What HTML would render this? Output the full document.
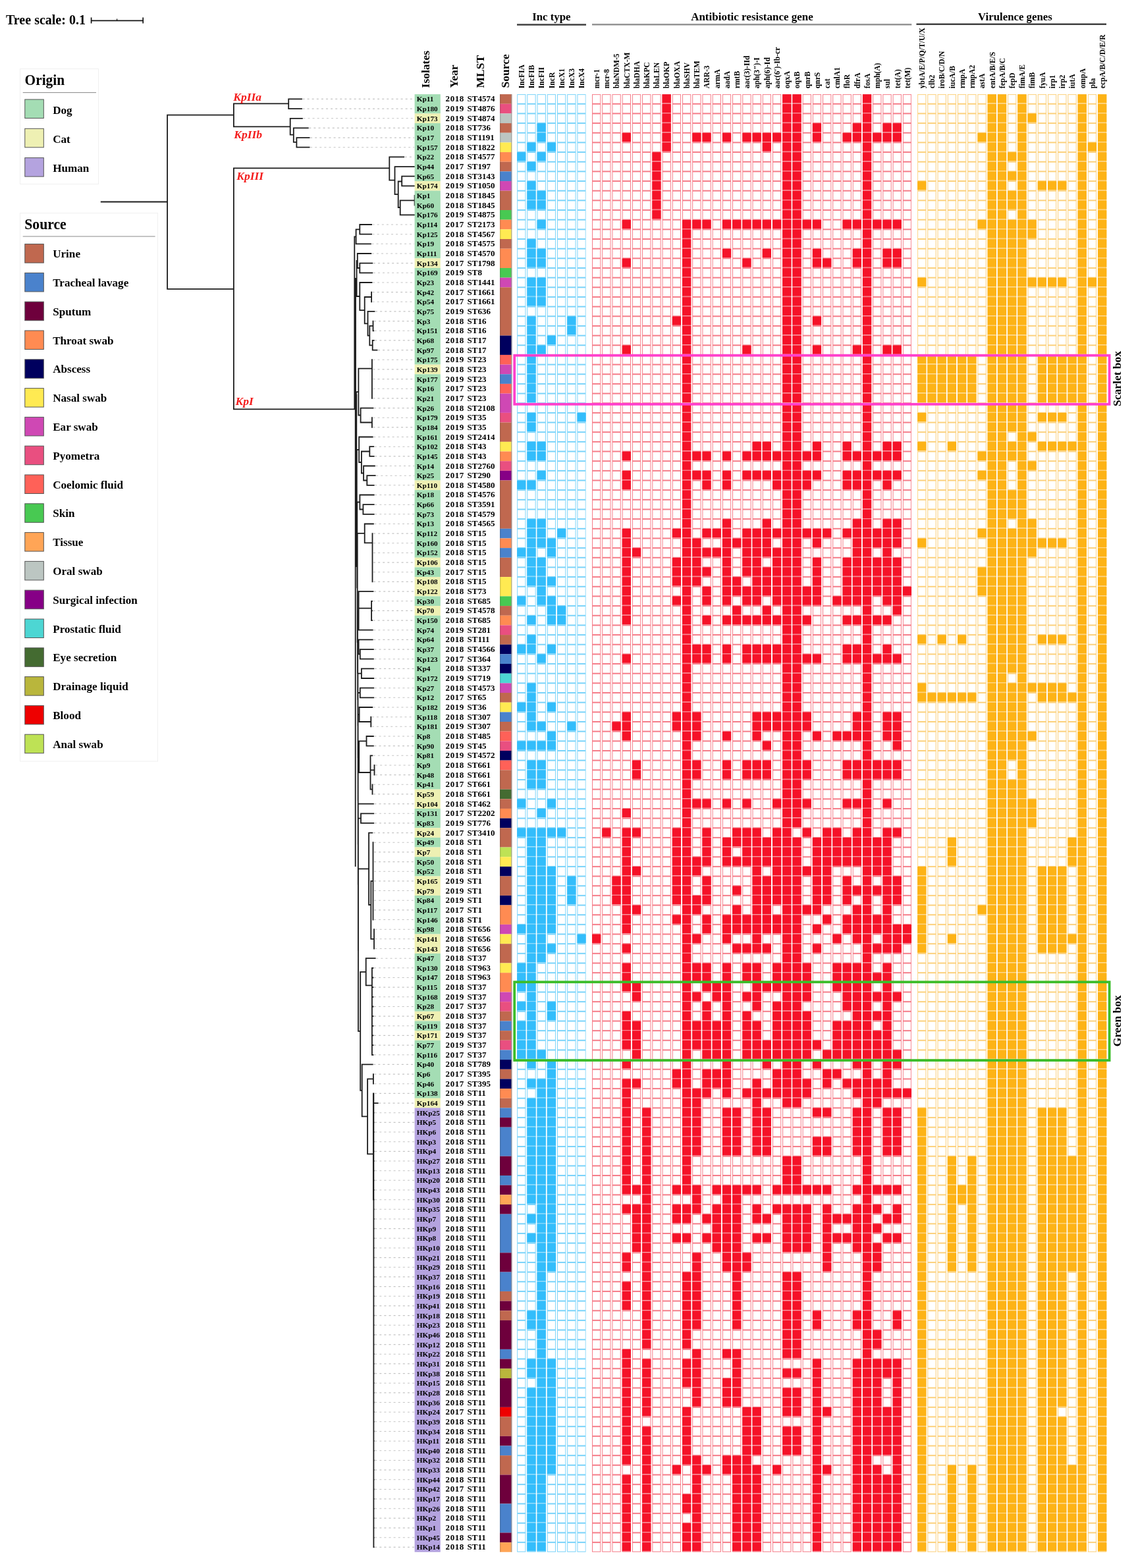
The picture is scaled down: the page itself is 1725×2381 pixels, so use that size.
<!DOCTYPE html>
<html><head><meta charset="utf-8"><title>Phylogenetic tree heatmap</title><style>html,body{margin:0;padding:0;background:#fff;}svg{display:block;}</style></head><body>
<svg width="1725" height="2381" viewBox="0 0 1725 2381" font-family="'Liberation Serif', 'Times New Roman', serif" font-weight="bold">
<rect width="1725" height="2381" fill="#fff"/>
<text x="9" y="37.3" font-size="20">Tree scale: 0.1</text>
<g stroke="#151515" stroke-width="1.7" fill="none"><path d="M138.3 31.4H217.5M138.6 26.6V35.6M217.2 26.6V35.6"/><path d="M177.6 28.4V31.4" stroke-width="1.2"/></g>
<rect x="30.5" y="104.5" width="119.0" height="175.0" fill="#fff" stroke="#f0f0f0" stroke-width="1"/>
<text transform="translate(37.6,128.6) scale(0.89,1)" font-size="24">Origin</text>
<line x1="34.7" y1="140.6" x2="146" y2="140.6" stroke="#888" stroke-width="1"/>
<rect x="37.8" y="151.0" width="28.5" height="28.5" fill="#a4ddb4" stroke="#555" stroke-width="1"/>
<text x="80.2" y="172.8" font-size="17.1">Dog</text>
<rect x="37.8" y="195.3" width="28.5" height="28.5" fill="#eef0b3" stroke="#555" stroke-width="1"/>
<text x="80.2" y="217.1" font-size="17.1">Cat</text>
<rect x="37.8" y="239.6" width="28.5" height="28.5" fill="#b4a3df" stroke="#555" stroke-width="1"/>
<text x="80.2" y="261.4" font-size="17.1">Human</text>
<rect x="30.5" y="323.5" width="209.0" height="832.5" fill="#fff" stroke="#f0f0f0" stroke-width="1"/>
<text transform="translate(37.2,347.7) scale(0.905,1)" font-size="24">Source</text>
<line x1="34.7" y1="359" x2="235.6" y2="359" stroke="#888" stroke-width="1"/>
<rect x="37.8" y="370.6" width="28.5" height="28.5" fill="#c0684f" stroke="#555" stroke-width="1"/>
<text x="80.2" y="391.1" font-size="17.1">Urine</text>
<rect x="37.8" y="414.4" width="28.5" height="28.5" fill="#4a82cc" stroke="#555" stroke-width="1"/>
<text x="80.2" y="434.9" font-size="17.1">Tracheal lavage</text>
<rect x="37.8" y="458.2" width="28.5" height="28.5" fill="#6e003c" stroke="#555" stroke-width="1"/>
<text x="80.2" y="478.7" font-size="17.1">Sputum</text>
<rect x="37.8" y="502.0" width="28.5" height="28.5" fill="#ff8b52" stroke="#555" stroke-width="1"/>
<text x="80.2" y="522.5" font-size="17.1">Throat swab</text>
<rect x="37.8" y="545.8" width="28.5" height="28.5" fill="#00005e" stroke="#555" stroke-width="1"/>
<text x="80.2" y="566.3" font-size="17.1">Abscess</text>
<rect x="37.8" y="589.6" width="28.5" height="28.5" fill="#ffea52" stroke="#555" stroke-width="1"/>
<text x="80.2" y="610.1" font-size="17.1">Nasal swab</text>
<rect x="37.8" y="633.4" width="28.5" height="28.5" fill="#cf48b4" stroke="#555" stroke-width="1"/>
<text x="80.2" y="653.9" font-size="17.1">Ear swab</text>
<rect x="37.8" y="677.2" width="28.5" height="28.5" fill="#e94f80" stroke="#555" stroke-width="1"/>
<text x="80.2" y="697.7" font-size="17.1">Pyometra</text>
<rect x="37.8" y="721.0" width="28.5" height="28.5" fill="#ff6158" stroke="#555" stroke-width="1"/>
<text x="80.2" y="741.5" font-size="17.1">Coelomic fluid</text>
<rect x="37.8" y="764.8" width="28.5" height="28.5" fill="#48c952" stroke="#555" stroke-width="1"/>
<text x="80.2" y="785.3" font-size="17.1">Skin</text>
<rect x="37.8" y="808.6" width="28.5" height="28.5" fill="#ffa556" stroke="#555" stroke-width="1"/>
<text x="80.2" y="829.1" font-size="17.1">Tissue</text>
<rect x="37.8" y="852.4" width="28.5" height="28.5" fill="#bcc6c2" stroke="#555" stroke-width="1"/>
<text x="80.2" y="872.9" font-size="17.1">Oral swab</text>
<rect x="37.8" y="896.2" width="28.5" height="28.5" fill="#860086" stroke="#555" stroke-width="1"/>
<text x="80.2" y="916.7" font-size="17.1">Surgical infection</text>
<rect x="37.8" y="940.0" width="28.5" height="28.5" fill="#4dd6d3" stroke="#555" stroke-width="1"/>
<text x="80.2" y="960.5" font-size="17.1">Prostatic fluid</text>
<rect x="37.8" y="983.8" width="28.5" height="28.5" fill="#446b31" stroke="#555" stroke-width="1"/>
<text x="80.2" y="1004.3" font-size="17.1">Eye secretion</text>
<rect x="37.8" y="1027.6" width="28.5" height="28.5" fill="#b9b63c" stroke="#555" stroke-width="1"/>
<text x="80.2" y="1048.1" font-size="17.1">Drainage liquid</text>
<rect x="37.8" y="1071.4" width="28.5" height="28.5" fill="#ee0000" stroke="#555" stroke-width="1"/>
<text x="80.2" y="1091.9" font-size="17.1">Blood</text>
<rect x="37.8" y="1115.2" width="28.5" height="28.5" fill="#bee255" stroke="#555" stroke-width="1"/>
<text x="80.2" y="1135.7" font-size="17.1">Anal swab</text>
<g fill="none" stroke="#1c1c1c" stroke-width="1.8" stroke-linecap="square"><path d="M153.7 306.5H254.1M254.1 174.7V438.9M254.1 174.7H354.9M354.9 157.4V192.4M254.1 438.9H354.9M354.9 255.4V621.3M354.9 157.4H438.2M438.2 150.4V165.1M438.2 150.4H458.0M438.2 165.1H458.0M354.9 192.4H440.7M440.7 179.8V204.6M440.7 179.8H458.9M440.7 204.6H445.8M445.8 194.4V215.8M445.8 194.4H467.8M445.8 215.8H450.4M450.4 209.1V223.7M450.4 209.1H469.6M450.4 223.7H469.6M354.9 255.4H591.3M591.3 238.4V273.6M591.3 238.4H613.2M591.3 273.6H599.5M599.5 253.1V295.2M599.5 253.1H629.5M599.5 295.2H604.7M604.7 275.5V315.0M604.7 275.5H610.2M604.7 315.0H607.7M610.2 267.7V282.4M610.2 267.7H630.6M610.2 282.4H630.6M607.7 304.4V326.3M607.7 304.4H629.6M607.7 326.3H630.0M629.6 297.0V311.7M546.3 341.0H564.1M546.3 355.7H564.1M546.3 341.0V355.7M540.6 348.3H546.3M540.6 370.3H562.9M540.6 348.3V370.3M538.3 359.3H540.6M542.8 385.0H563.3M546.3 399.6H565.3M546.3 414.3H565.3M546.3 399.6V414.3M542.8 407.0H546.3M542.8 385.0V407.0M541.6 396.0H542.8M546.3 429.0H564.5M564.1 443.6V458.3M553.7 451.0H564.1M558.5 472.9H568.5M566.5 502.3H567.3M566.5 487.6V502.3M561.3 494.9H566.5M565.7 516.9H567.7M565.7 531.6H572.5M565.7 516.9V531.6M561.3 524.3H565.7M561.3 494.9V524.3M558.5 509.6H561.3M558.5 472.9V509.6M553.7 491.3H558.5M553.7 451.0V491.3M546.3 471.1H553.7M546.3 429.0V471.1M541.6 450.0H546.3M541.6 396.0V450.0M540.0 423.0H541.6M564.9 546.2V604.9M544.4 559.7H564.9M547.6 619.6H566.5M564.9 634.2V648.9M547.6 641.5H564.9M547.6 619.6V641.5M544.4 630.5H547.6M544.4 559.7V630.5M541.0 595.1H544.4M545.2 663.5H565.7M561.3 678.2H567.3M561.3 692.9H567.7M561.3 678.2V692.9M548.9 685.5H561.3M552.1 707.5H568.9M557.3 722.2H569.7M557.3 736.8H567.7M557.3 722.2V736.8M552.1 729.5H557.3M552.1 707.5V729.5M548.9 718.5H552.1M548.9 685.5V718.5M545.2 702.0H548.9M545.2 663.5V702.0M541.8 682.8H545.2M546.4 751.5H567.7M551.4 766.2H567.7M551.4 780.8H567.7M551.4 766.2V780.8M546.4 773.5H551.4M546.4 751.5V773.5M542.3 762.5H546.4M553.7 795.5H566.9M565.5 810.1V883.4M553.7 824.3H565.5M553.7 795.5V824.3M542.7 809.9H553.7M544.6 898.1H566.5M564.1 912.8H565.0M564.1 927.4H565.0M564.1 942.1H565.0M564.1 912.8V942.1M544.6 923.7H564.1M544.6 956.7H565.7M544.6 898.1V956.7M543.0 927.4H544.6M544.6 971.4H565.7M546.8 986.1H566.9M546.8 1000.7H566.9M546.8 986.1V1000.7M544.6 993.4H546.8M544.6 971.4V993.4M543.2 982.4H544.6M548.9 1015.4H567.3M548.9 1030.0H567.3M548.9 1015.4V1030.0M543.4 1022.7H548.9M546.8 1044.7H567.3M546.8 1059.3H567.3M546.8 1044.7V1059.3M543.5 1052.0H546.8M545.6 1074.0H565.3M563.3 1088.7V1103.3M545.6 1096.0H563.3M545.6 1074.0V1096.0M543.6 1085.0H545.6M556.5 1118.0H566.9M556.5 1132.6H566.9M556.5 1118.0V1132.6M545.2 1125.3H556.5M562.5 1147.3H565.3M568.5 1162.0V1176.6M562.5 1169.3H568.5M565.5 1191.3V1205.9M562.5 1198.6H565.5M562.5 1147.3V1198.6M545.2 1173.0H562.5M545.2 1125.3V1173.0M543.7 1149.1H545.2M543.8 1220.6H566.9M548.0 1235.3H567.3M548.0 1249.9H567.3M548.0 1235.3V1249.9M543.9 1242.6H548.0M560.1 1264.6H565.3M566.5 1279.2V1396.5M563.3 1337.9H566.5M568.0 1411.2V1440.5M563.3 1425.8H568.0M563.3 1337.9V1425.8M560.1 1374.0H563.3M560.1 1264.6V1374.0M544.0 1319.3H560.1M555.7 1455.2H569.7M564.9 1469.8H566.5M564.9 1484.5H566.5M564.9 1499.1H566.5M564.9 1513.8H566.5M564.9 1528.5H566.5M564.9 1543.1H566.5M564.9 1557.8H566.5M564.9 1572.4H566.5M564.9 1587.1H566.5M564.9 1601.8H566.5M564.9 1469.8V1601.8M555.7 1496.4H564.9M555.7 1455.2V1496.4M547.2 1475.8H555.7M549.7 1616.4H565.7M566.9 1631.1V1645.7M558.1 1638.4H566.9M567.4 1675.1H573.7M567.4 1689.7H567.7M567.4 1704.4H567.7M567.4 1719.0H567.7M567.4 1733.7H567.7M567.4 1748.4H567.7M567.4 1763.0H567.7M567.4 1777.7H567.7M567.4 1792.3H567.7M567.4 1807.0H567.7M567.4 1821.7H567.7M567.4 1836.3H567.7M567.4 1851.0H567.7M567.4 1865.6H567.7M567.4 1880.3H567.7M567.4 1895.0H567.7M567.4 1909.6H567.7M567.4 1924.3H567.7M567.4 1938.9H567.7M567.4 1953.6H567.7M567.4 1968.3H567.7M567.4 1982.9H567.7M567.4 1997.6H567.7M567.4 2012.2H567.7M567.4 2026.9H567.7M567.4 2041.6H567.7M567.4 2056.2H567.7M567.4 2070.9H567.7M567.4 2085.6H567.7M567.4 2100.2H567.7M567.4 2114.9H567.7M567.4 2129.5H567.7M567.4 2144.2H567.7M567.4 2158.8H567.7M567.4 2173.5H567.7M567.4 2188.2H567.7M567.4 2202.8H567.7M567.4 2217.5H567.7M567.4 2232.1H567.7M567.4 2246.8H567.7M567.4 2261.5H567.7M567.4 2276.1H567.7M567.4 2290.8H567.7M567.4 2305.4H567.7M567.4 2320.1H567.7M567.4 2334.8H567.7M567.4 2349.4H567.7M567.4 1660.4V2349.4M558.1 1752.3H567.4M558.1 1638.4V1752.3M549.7 1695.4H558.1M549.7 1616.4V1695.4M547.2 1655.9H549.7M547.2 1475.8V1655.9M544.0 1565.8H547.2M544.0 1319.3V1565.8M543.9 1442.6H544.0M543.9 1242.6V1442.6M543.8 1342.6H543.9M543.8 1220.6V1342.6M543.7 1281.6H543.8M543.7 1149.1V1281.6M543.6 1215.4H543.7M543.6 1085.0V1215.4M543.5 1150.2H543.6M543.5 1052.0V1150.2M543.4 1101.1H543.5M543.4 1022.7V1101.1M543.2 1061.9H543.4M543.2 982.4V1061.9M543.0 1022.1H543.2M543.0 927.4V1022.1M542.7 974.8H543.0M542.7 809.9V974.8M542.3 892.3H542.7M542.3 762.5V892.3M541.8 827.4H542.3M541.8 682.8V827.4M541.0 755.1H541.8M541.0 595.1V755.1M540.0 675.1H541.0M540.0 423.0V675.1M538.3 549.1H540.0M538.3 359.3V621.3M539.7 423.0V1315.0M541.3 600.0V860.0M566.9 1660.4V1821.7M354.9 621.3H538.3"/></g><path d="M459.5 150.4H629M459.5 165.1H629M460.4 179.8H629M469.3 194.4H629M471.1 209.1H629M471.1 223.7H629M614.7 238.4H629M565.6 341.0H629M565.6 355.7H629M564.4 370.3H629M564.8 385.0H629M566.8 399.6H629M566.8 414.3H629M566.0 429.0H629M565.6 443.6H629M565.6 458.3H629M570.0 472.9H629M568.0 487.6H629M568.8 502.3H629M569.2 516.9H629M574.0 531.6H629M566.4 546.2H629M566.4 560.9H629M566.4 575.6H629M566.4 590.2H629M566.4 604.9H629M568.0 619.6H629M566.4 634.2H629M566.4 648.9H629M567.2 663.5H629M568.8 678.2H629M569.2 692.9H629M570.4 707.5H629M571.2 722.2H629M569.2 736.8H629M569.2 751.5H629M569.2 766.2H629M569.2 780.8H629M568.4 795.5H629M567.0 810.1H629M567.0 824.8H629M567.0 839.5H629M567.0 854.1H629M567.0 868.8H629M567.0 883.4H629M568.0 898.1H629M566.5 912.8H629M566.5 927.4H629M566.5 942.1H629M567.2 956.7H629M567.2 971.4H629M568.4 986.1H629M568.4 1000.7H629M568.8 1015.4H629M568.8 1030.0H629M568.8 1044.7H629M568.8 1059.3H629M566.8 1074.0H629M564.8 1088.7H629M564.8 1103.3H629M568.4 1118.0H629M568.4 1132.6H629M566.8 1147.3H629M570.0 1162.0H629M570.0 1176.6H629M567.0 1191.3H629M567.0 1205.9H629M568.4 1220.6H629M568.8 1235.3H629M568.8 1249.9H629M566.8 1264.6H629M568.0 1279.2H629M568.0 1293.9H629M568.0 1308.6H629M568.0 1323.2H629M568.0 1337.9H629M568.0 1352.5H629M568.0 1367.2H629M568.0 1381.9H629M568.0 1396.5H629M569.5 1411.2H629M569.5 1425.8H629M569.5 1440.5H629M571.2 1455.2H629M568.0 1469.8H629M568.0 1484.5H629M568.0 1499.1H629M568.0 1513.8H629M568.0 1528.5H629M568.0 1543.1H629M568.0 1557.8H629M568.0 1572.4H629M568.0 1587.1H629M568.0 1601.8H629M567.2 1616.4H629M568.4 1631.1H629M568.4 1645.7H629M568.9 1660.4H629M575.2 1675.1H629M569.2 1689.7H629M569.2 1704.4H629M569.2 1719.0H629M569.2 1733.7H629M569.2 1748.4H629M569.2 1763.0H629M569.2 1777.7H629M569.2 1792.3H629M569.2 1807.0H629M569.2 1821.7H629M569.2 1836.3H629M569.2 1851.0H629M569.2 1865.6H629M569.2 1880.3H629M569.2 1895.0H629M569.2 1909.6H629M569.2 1924.3H629M569.2 1938.9H629M569.2 1953.6H629M569.2 1968.3H629M569.2 1982.9H629M569.2 1997.6H629M569.2 2012.2H629M569.2 2026.9H629M569.2 2041.6H629M569.2 2056.2H629M569.2 2070.9H629M569.2 2085.6H629M569.2 2100.2H629M569.2 2114.9H629M569.2 2129.5H629M569.2 2144.2H629M569.2 2158.8H629M569.2 2173.5H629M569.2 2188.2H629M569.2 2202.8H629M569.2 2217.5H629M569.2 2232.1H629M569.2 2246.8H629M569.2 2261.5H629M569.2 2276.1H629M569.2 2290.8H629M569.2 2305.4H629M569.2 2320.1H629M569.2 2334.8H629M569.2 2349.4H629" fill="none" stroke="#c4c4c4" stroke-width="1.1" stroke-dasharray="3 4.1"/><g fill="#f41c1c" font-style="italic" font-size="17.5"><text x="354.3" y="152.5">KpIIa</text><text x="355.3" y="210">KpIIb</text><text x="359.3" y="273">KpIII</text><text x="357.5" y="615.4">KpI</text></g>
<rect x="629.6" y="143.10" width="39.2" height="29.32" fill="#a4ddb4"/>
<rect x="629.6" y="172.42" width="39.2" height="14.66" fill="#eef0b3"/>
<rect x="629.6" y="187.08" width="39.2" height="87.96" fill="#a4ddb4"/>
<rect x="629.6" y="275.04" width="39.2" height="14.66" fill="#eef0b3"/>
<rect x="629.6" y="289.70" width="39.2" height="102.62" fill="#a4ddb4"/>
<rect x="629.6" y="392.32" width="39.2" height="14.66" fill="#eef0b3"/>
<rect x="629.6" y="406.98" width="39.2" height="146.60" fill="#a4ddb4"/>
<rect x="629.6" y="553.58" width="39.2" height="14.66" fill="#eef0b3"/>
<rect x="629.6" y="568.24" width="39.2" height="161.26" fill="#a4ddb4"/>
<rect x="629.6" y="729.50" width="39.2" height="14.66" fill="#eef0b3"/>
<rect x="629.6" y="744.16" width="39.2" height="102.62" fill="#a4ddb4"/>
<rect x="629.6" y="846.78" width="39.2" height="14.66" fill="#eef0b3"/>
<rect x="629.6" y="861.44" width="39.2" height="14.66" fill="#a4ddb4"/>
<rect x="629.6" y="876.10" width="39.2" height="29.32" fill="#eef0b3"/>
<rect x="629.6" y="905.42" width="39.2" height="14.66" fill="#a4ddb4"/>
<rect x="629.6" y="920.08" width="39.2" height="14.66" fill="#eef0b3"/>
<rect x="629.6" y="934.74" width="39.2" height="263.88" fill="#a4ddb4"/>
<rect x="629.6" y="1198.62" width="39.2" height="29.32" fill="#eef0b3"/>
<rect x="629.6" y="1227.94" width="39.2" height="29.32" fill="#a4ddb4"/>
<rect x="629.6" y="1257.26" width="39.2" height="14.66" fill="#eef0b3"/>
<rect x="629.6" y="1271.92" width="39.2" height="14.66" fill="#a4ddb4"/>
<rect x="629.6" y="1286.58" width="39.2" height="14.66" fill="#eef0b3"/>
<rect x="629.6" y="1301.24" width="39.2" height="29.32" fill="#a4ddb4"/>
<rect x="629.6" y="1330.56" width="39.2" height="29.32" fill="#eef0b3"/>
<rect x="629.6" y="1359.88" width="39.2" height="58.64" fill="#a4ddb4"/>
<rect x="629.6" y="1418.52" width="39.2" height="29.32" fill="#eef0b3"/>
<rect x="629.6" y="1447.84" width="39.2" height="87.96" fill="#a4ddb4"/>
<rect x="629.6" y="1535.80" width="39.2" height="14.66" fill="#eef0b3"/>
<rect x="629.6" y="1550.46" width="39.2" height="14.66" fill="#a4ddb4"/>
<rect x="629.6" y="1565.12" width="39.2" height="14.66" fill="#eef0b3"/>
<rect x="629.6" y="1579.78" width="39.2" height="87.96" fill="#a4ddb4"/>
<rect x="629.6" y="1667.74" width="39.2" height="14.66" fill="#eef0b3"/>
<rect x="629.6" y="1682.40" width="39.2" height="674.36" fill="#b4a3df"/>
<g font-size="11.3">
<text x="632.7" y="154.43">Kp11</text>
<text x="632.7" y="169.09">Kp180</text>
<text x="632.7" y="183.75">Kp173</text>
<text x="632.7" y="198.41">Kp10</text>
<text x="632.7" y="213.07">Kp17</text>
<text x="632.7" y="227.73">Kp157</text>
<text x="632.7" y="242.39">Kp22</text>
<text x="632.7" y="257.05">Kp44</text>
<text x="632.7" y="271.71">Kp65</text>
<text x="632.7" y="286.37">Kp174</text>
<text x="632.7" y="301.03">Kp1</text>
<text x="632.7" y="315.69">Kp60</text>
<text x="632.7" y="330.35">Kp176</text>
<text x="632.7" y="345.01">Kp114</text>
<text x="632.7" y="359.67">Kp125</text>
<text x="632.7" y="374.33">Kp19</text>
<text x="632.7" y="388.99">Kp111</text>
<text x="632.7" y="403.65">Kp134</text>
<text x="632.7" y="418.31">Kp169</text>
<text x="632.7" y="432.97">Kp23</text>
<text x="632.7" y="447.63">Kp42</text>
<text x="632.7" y="462.29">Kp54</text>
<text x="632.7" y="476.95">Kp75</text>
<text x="632.7" y="491.61">Kp3</text>
<text x="632.7" y="506.27">Kp151</text>
<text x="632.7" y="520.93">Kp68</text>
<text x="632.7" y="535.59">Kp97</text>
<text x="632.7" y="550.25">Kp175</text>
<text x="632.7" y="564.91">Kp139</text>
<text x="632.7" y="579.57">Kp177</text>
<text x="632.7" y="594.23">Kp16</text>
<text x="632.7" y="608.89">Kp21</text>
<text x="632.7" y="623.55">Kp26</text>
<text x="632.7" y="638.21">Kp179</text>
<text x="632.7" y="652.87">Kp184</text>
<text x="632.7" y="667.53">Kp161</text>
<text x="632.7" y="682.19">Kp102</text>
<text x="632.7" y="696.85">Kp145</text>
<text x="632.7" y="711.51">Kp14</text>
<text x="632.7" y="726.17">Kp25</text>
<text x="632.7" y="740.83">Kp110</text>
<text x="632.7" y="755.49">Kp18</text>
<text x="632.7" y="770.15">Kp66</text>
<text x="632.7" y="784.81">Kp73</text>
<text x="632.7" y="799.47">Kp13</text>
<text x="632.7" y="814.13">Kp112</text>
<text x="632.7" y="828.79">Kp160</text>
<text x="632.7" y="843.45">Kp152</text>
<text x="632.7" y="858.11">Kp106</text>
<text x="632.7" y="872.77">Kp43</text>
<text x="632.7" y="887.43">Kp108</text>
<text x="632.7" y="902.09">Kp122</text>
<text x="632.7" y="916.75">Kp30</text>
<text x="632.7" y="931.41">Kp70</text>
<text x="632.7" y="946.07">Kp150</text>
<text x="632.7" y="960.73">Kp74</text>
<text x="632.7" y="975.39">Kp64</text>
<text x="632.7" y="990.05">Kp37</text>
<text x="632.7" y="1004.71">Kp123</text>
<text x="632.7" y="1019.37">Kp4</text>
<text x="632.7" y="1034.03">Kp172</text>
<text x="632.7" y="1048.69">Kp27</text>
<text x="632.7" y="1063.35">Kp12</text>
<text x="632.7" y="1078.01">Kp182</text>
<text x="632.7" y="1092.67">Kp118</text>
<text x="632.7" y="1107.33">Kp181</text>
<text x="632.7" y="1121.99">Kp8</text>
<text x="632.7" y="1136.65">Kp90</text>
<text x="632.7" y="1151.31">Kp81</text>
<text x="632.7" y="1165.97">Kp9</text>
<text x="632.7" y="1180.63">Kp48</text>
<text x="632.7" y="1195.29">Kp41</text>
<text x="632.7" y="1209.95">Kp59</text>
<text x="632.7" y="1224.61">Kp104</text>
<text x="632.7" y="1239.27">Kp131</text>
<text x="632.7" y="1253.93">Kp83</text>
<text x="632.7" y="1268.59">Kp24</text>
<text x="632.7" y="1283.25">Kp49</text>
<text x="632.7" y="1297.91">Kp7</text>
<text x="632.7" y="1312.57">Kp50</text>
<text x="632.7" y="1327.23">Kp52</text>
<text x="632.7" y="1341.89">Kp165</text>
<text x="632.7" y="1356.55">Kp79</text>
<text x="632.7" y="1371.21">Kp84</text>
<text x="632.7" y="1385.87">Kp117</text>
<text x="632.7" y="1400.53">Kp146</text>
<text x="632.7" y="1415.19">Kp98</text>
<text x="632.7" y="1429.85">Kp141</text>
<text x="632.7" y="1444.51">Kp143</text>
<text x="632.7" y="1459.17">Kp47</text>
<text x="632.7" y="1473.83">Kp130</text>
<text x="632.7" y="1488.49">Kp147</text>
<text x="632.7" y="1503.15">Kp115</text>
<text x="632.7" y="1517.81">Kp168</text>
<text x="632.7" y="1532.47">Kp28</text>
<text x="632.7" y="1547.13">Kp67</text>
<text x="632.7" y="1561.79">Kp119</text>
<text x="632.7" y="1576.45">Kp171</text>
<text x="632.7" y="1591.11">Kp77</text>
<text x="632.7" y="1605.77">Kp116</text>
<text x="632.7" y="1620.43">Kp40</text>
<text x="632.7" y="1635.09">Kp6</text>
<text x="632.7" y="1649.75">Kp46</text>
<text x="632.7" y="1664.41">Kp138</text>
<text x="632.7" y="1679.07">Kp164</text>
<text x="632.7" y="1693.73">HKp25</text>
<text x="632.7" y="1708.39">HKp5</text>
<text x="632.7" y="1723.05">HKp6</text>
<text x="632.7" y="1737.71">HKp3</text>
<text x="632.7" y="1752.37">HKp4</text>
<text x="632.7" y="1767.03">HKp27</text>
<text x="632.7" y="1781.69">HKp13</text>
<text x="632.7" y="1796.35">HKp20</text>
<text x="632.7" y="1811.01">HKp43</text>
<text x="632.7" y="1825.67">HKp30</text>
<text x="632.7" y="1840.33">HKp35</text>
<text x="632.7" y="1854.99">HKp7</text>
<text x="632.7" y="1869.65">HKp9</text>
<text x="632.7" y="1884.31">HKp8</text>
<text x="632.7" y="1898.97">HKp10</text>
<text x="632.7" y="1913.63">HKp21</text>
<text x="632.7" y="1928.29">HKp29</text>
<text x="632.7" y="1942.95">HKp37</text>
<text x="632.7" y="1957.61">HKp16</text>
<text x="632.7" y="1972.27">HKp19</text>
<text x="632.7" y="1986.93">HKp41</text>
<text x="632.7" y="2001.59">HKp18</text>
<text x="632.7" y="2016.25">HKp23</text>
<text x="632.7" y="2030.91">HKp46</text>
<text x="632.7" y="2045.57">HKp12</text>
<text x="632.7" y="2060.23">HKp22</text>
<text x="632.7" y="2074.89">HKp31</text>
<text x="632.7" y="2089.55">HKp38</text>
<text x="632.7" y="2104.21">HKp15</text>
<text x="632.7" y="2118.87">HKp28</text>
<text x="632.7" y="2133.53">HKp36</text>
<text x="632.7" y="2148.19">HKp24</text>
<text x="632.7" y="2162.85">HKp39</text>
<text x="632.7" y="2177.51">HKp34</text>
<text x="632.7" y="2192.17">HKp11</text>
<text x="632.7" y="2206.83">HKp40</text>
<text x="632.7" y="2221.49">HKp32</text>
<text x="632.7" y="2236.15">HKp33</text>
<text x="632.7" y="2250.81">HKp44</text>
<text x="632.7" y="2265.47">HKp42</text>
<text x="632.7" y="2280.13">HKp17</text>
<text x="632.7" y="2294.79">HKp26</text>
<text x="632.7" y="2309.45">HKp2</text>
<text x="632.7" y="2324.11">HKp1</text>
<text x="632.7" y="2338.77">HKp45</text>
<text x="632.7" y="2353.43">HKp14</text>
</g><g font-size="13">
<text x="676.6" y="154.43" letter-spacing="0.55">2018</text><text x="709.6" y="154.43">ST4574</text>
<text x="676.6" y="169.09" letter-spacing="0.55">2019</text><text x="709.6" y="169.09">ST4876</text>
<text x="676.6" y="183.75" letter-spacing="0.55">2019</text><text x="709.6" y="183.75">ST4874</text>
<text x="676.6" y="198.41" letter-spacing="0.55">2018</text><text x="709.6" y="198.41">ST736</text>
<text x="676.6" y="213.07" letter-spacing="0.55">2018</text><text x="709.6" y="213.07">ST1191</text>
<text x="676.6" y="227.73" letter-spacing="0.55">2018</text><text x="709.6" y="227.73">ST1822</text>
<text x="676.6" y="242.39" letter-spacing="0.55">2018</text><text x="709.6" y="242.39">ST4577</text>
<text x="676.6" y="257.05" letter-spacing="0.55">2017</text><text x="709.6" y="257.05">ST197</text>
<text x="676.6" y="271.71" letter-spacing="0.55">2018</text><text x="709.6" y="271.71">ST3143</text>
<text x="676.6" y="286.37" letter-spacing="0.55">2019</text><text x="709.6" y="286.37">ST1050</text>
<text x="676.6" y="301.03" letter-spacing="0.55">2018</text><text x="709.6" y="301.03">ST1845</text>
<text x="676.6" y="315.69" letter-spacing="0.55">2018</text><text x="709.6" y="315.69">ST1845</text>
<text x="676.6" y="330.35" letter-spacing="0.55">2019</text><text x="709.6" y="330.35">ST4875</text>
<text x="676.6" y="345.01" letter-spacing="0.55">2017</text><text x="709.6" y="345.01">ST2173</text>
<text x="676.6" y="359.67" letter-spacing="0.55">2018</text><text x="709.6" y="359.67">ST4567</text>
<text x="676.6" y="374.33" letter-spacing="0.55">2018</text><text x="709.6" y="374.33">ST4575</text>
<text x="676.6" y="388.99" letter-spacing="0.55">2018</text><text x="709.6" y="388.99">ST4570</text>
<text x="676.6" y="403.65" letter-spacing="0.55">2017</text><text x="709.6" y="403.65">ST1798</text>
<text x="676.6" y="418.31" letter-spacing="0.55">2019</text><text x="709.6" y="418.31">ST8</text>
<text x="676.6" y="432.97" letter-spacing="0.55">2018</text><text x="709.6" y="432.97">ST1441</text>
<text x="676.6" y="447.63" letter-spacing="0.55">2017</text><text x="709.6" y="447.63">ST1661</text>
<text x="676.6" y="462.29" letter-spacing="0.55">2017</text><text x="709.6" y="462.29">ST1661</text>
<text x="676.6" y="476.95" letter-spacing="0.55">2019</text><text x="709.6" y="476.95">ST636</text>
<text x="676.6" y="491.61" letter-spacing="0.55">2018</text><text x="709.6" y="491.61">ST16</text>
<text x="676.6" y="506.27" letter-spacing="0.55">2018</text><text x="709.6" y="506.27">ST16</text>
<text x="676.6" y="520.93" letter-spacing="0.55">2018</text><text x="709.6" y="520.93">ST17</text>
<text x="676.6" y="535.59" letter-spacing="0.55">2018</text><text x="709.6" y="535.59">ST17</text>
<text x="676.6" y="550.25" letter-spacing="0.55">2019</text><text x="709.6" y="550.25">ST23</text>
<text x="676.6" y="564.91" letter-spacing="0.55">2018</text><text x="709.6" y="564.91">ST23</text>
<text x="676.6" y="579.57" letter-spacing="0.55">2019</text><text x="709.6" y="579.57">ST23</text>
<text x="676.6" y="594.23" letter-spacing="0.55">2017</text><text x="709.6" y="594.23">ST23</text>
<text x="676.6" y="608.89" letter-spacing="0.55">2017</text><text x="709.6" y="608.89">ST23</text>
<text x="676.6" y="623.55" letter-spacing="0.55">2018</text><text x="709.6" y="623.55">ST2108</text>
<text x="676.6" y="638.21" letter-spacing="0.55">2019</text><text x="709.6" y="638.21">ST35</text>
<text x="676.6" y="652.87" letter-spacing="0.55">2019</text><text x="709.6" y="652.87">ST35</text>
<text x="676.6" y="667.53" letter-spacing="0.55">2019</text><text x="709.6" y="667.53">ST2414</text>
<text x="676.6" y="682.19" letter-spacing="0.55">2018</text><text x="709.6" y="682.19">ST43</text>
<text x="676.6" y="696.85" letter-spacing="0.55">2018</text><text x="709.6" y="696.85">ST43</text>
<text x="676.6" y="711.51" letter-spacing="0.55">2018</text><text x="709.6" y="711.51">ST2760</text>
<text x="676.6" y="726.17" letter-spacing="0.55">2017</text><text x="709.6" y="726.17">ST290</text>
<text x="676.6" y="740.83" letter-spacing="0.55">2018</text><text x="709.6" y="740.83">ST4580</text>
<text x="676.6" y="755.49" letter-spacing="0.55">2018</text><text x="709.6" y="755.49">ST4576</text>
<text x="676.6" y="770.15" letter-spacing="0.55">2018</text><text x="709.6" y="770.15">ST3591</text>
<text x="676.6" y="784.81" letter-spacing="0.55">2018</text><text x="709.6" y="784.81">ST4579</text>
<text x="676.6" y="799.47" letter-spacing="0.55">2018</text><text x="709.6" y="799.47">ST4565</text>
<text x="676.6" y="814.13" letter-spacing="0.55">2018</text><text x="709.6" y="814.13">ST15</text>
<text x="676.6" y="828.79" letter-spacing="0.55">2018</text><text x="709.6" y="828.79">ST15</text>
<text x="676.6" y="843.45" letter-spacing="0.55">2018</text><text x="709.6" y="843.45">ST15</text>
<text x="676.6" y="858.11" letter-spacing="0.55">2018</text><text x="709.6" y="858.11">ST15</text>
<text x="676.6" y="872.77" letter-spacing="0.55">2017</text><text x="709.6" y="872.77">ST15</text>
<text x="676.6" y="887.43" letter-spacing="0.55">2018</text><text x="709.6" y="887.43">ST15</text>
<text x="676.6" y="902.09" letter-spacing="0.55">2018</text><text x="709.6" y="902.09">ST73</text>
<text x="676.6" y="916.75" letter-spacing="0.55">2018</text><text x="709.6" y="916.75">ST685</text>
<text x="676.6" y="931.41" letter-spacing="0.55">2019</text><text x="709.6" y="931.41">ST4578</text>
<text x="676.6" y="946.07" letter-spacing="0.55">2018</text><text x="709.6" y="946.07">ST685</text>
<text x="676.6" y="960.73" letter-spacing="0.55">2019</text><text x="709.6" y="960.73">ST281</text>
<text x="676.6" y="975.39" letter-spacing="0.55">2018</text><text x="709.6" y="975.39">ST111</text>
<text x="676.6" y="990.05" letter-spacing="0.55">2018</text><text x="709.6" y="990.05">ST4566</text>
<text x="676.6" y="1004.71" letter-spacing="0.55">2017</text><text x="709.6" y="1004.71">ST364</text>
<text x="676.6" y="1019.37" letter-spacing="0.55">2018</text><text x="709.6" y="1019.37">ST337</text>
<text x="676.6" y="1034.03" letter-spacing="0.55">2019</text><text x="709.6" y="1034.03">ST719</text>
<text x="676.6" y="1048.69" letter-spacing="0.55">2018</text><text x="709.6" y="1048.69">ST4573</text>
<text x="676.6" y="1063.35" letter-spacing="0.55">2017</text><text x="709.6" y="1063.35">ST65</text>
<text x="676.6" y="1078.01" letter-spacing="0.55">2019</text><text x="709.6" y="1078.01">ST36</text>
<text x="676.6" y="1092.67" letter-spacing="0.55">2018</text><text x="709.6" y="1092.67">ST307</text>
<text x="676.6" y="1107.33" letter-spacing="0.55">2019</text><text x="709.6" y="1107.33">ST307</text>
<text x="676.6" y="1121.99" letter-spacing="0.55">2018</text><text x="709.6" y="1121.99">ST485</text>
<text x="676.6" y="1136.65" letter-spacing="0.55">2019</text><text x="709.6" y="1136.65">ST45</text>
<text x="676.6" y="1151.31" letter-spacing="0.55">2019</text><text x="709.6" y="1151.31">ST4572</text>
<text x="676.6" y="1165.97" letter-spacing="0.55">2018</text><text x="709.6" y="1165.97">ST661</text>
<text x="676.6" y="1180.63" letter-spacing="0.55">2018</text><text x="709.6" y="1180.63">ST661</text>
<text x="676.6" y="1195.29" letter-spacing="0.55">2017</text><text x="709.6" y="1195.29">ST661</text>
<text x="676.6" y="1209.95" letter-spacing="0.55">2018</text><text x="709.6" y="1209.95">ST661</text>
<text x="676.6" y="1224.61" letter-spacing="0.55">2018</text><text x="709.6" y="1224.61">ST462</text>
<text x="676.6" y="1239.27" letter-spacing="0.55">2017</text><text x="709.6" y="1239.27">ST2202</text>
<text x="676.6" y="1253.93" letter-spacing="0.55">2019</text><text x="709.6" y="1253.93">ST776</text>
<text x="676.6" y="1268.59" letter-spacing="0.55">2017</text><text x="709.6" y="1268.59">ST3410</text>
<text x="676.6" y="1283.25" letter-spacing="0.55">2018</text><text x="709.6" y="1283.25">ST1</text>
<text x="676.6" y="1297.91" letter-spacing="0.55">2018</text><text x="709.6" y="1297.91">ST1</text>
<text x="676.6" y="1312.57" letter-spacing="0.55">2018</text><text x="709.6" y="1312.57">ST1</text>
<text x="676.6" y="1327.23" letter-spacing="0.55">2018</text><text x="709.6" y="1327.23">ST1</text>
<text x="676.6" y="1341.89" letter-spacing="0.55">2019</text><text x="709.6" y="1341.89">ST1</text>
<text x="676.6" y="1356.55" letter-spacing="0.55">2019</text><text x="709.6" y="1356.55">ST1</text>
<text x="676.6" y="1371.21" letter-spacing="0.55">2019</text><text x="709.6" y="1371.21">ST1</text>
<text x="676.6" y="1385.87" letter-spacing="0.55">2017</text><text x="709.6" y="1385.87">ST1</text>
<text x="676.6" y="1400.53" letter-spacing="0.55">2018</text><text x="709.6" y="1400.53">ST1</text>
<text x="676.6" y="1415.19" letter-spacing="0.55">2018</text><text x="709.6" y="1415.19">ST656</text>
<text x="676.6" y="1429.85" letter-spacing="0.55">2018</text><text x="709.6" y="1429.85">ST656</text>
<text x="676.6" y="1444.51" letter-spacing="0.55">2018</text><text x="709.6" y="1444.51">ST656</text>
<text x="676.6" y="1459.17" letter-spacing="0.55">2018</text><text x="709.6" y="1459.17">ST37</text>
<text x="676.6" y="1473.83" letter-spacing="0.55">2018</text><text x="709.6" y="1473.83">ST963</text>
<text x="676.6" y="1488.49" letter-spacing="0.55">2018</text><text x="709.6" y="1488.49">ST963</text>
<text x="676.6" y="1503.15" letter-spacing="0.55">2018</text><text x="709.6" y="1503.15">ST37</text>
<text x="676.6" y="1517.81" letter-spacing="0.55">2019</text><text x="709.6" y="1517.81">ST37</text>
<text x="676.6" y="1532.47" letter-spacing="0.55">2017</text><text x="709.6" y="1532.47">ST37</text>
<text x="676.6" y="1547.13" letter-spacing="0.55">2018</text><text x="709.6" y="1547.13">ST37</text>
<text x="676.6" y="1561.79" letter-spacing="0.55">2018</text><text x="709.6" y="1561.79">ST37</text>
<text x="676.6" y="1576.45" letter-spacing="0.55">2019</text><text x="709.6" y="1576.45">ST37</text>
<text x="676.6" y="1591.11" letter-spacing="0.55">2019</text><text x="709.6" y="1591.11">ST37</text>
<text x="676.6" y="1605.77" letter-spacing="0.55">2017</text><text x="709.6" y="1605.77">ST37</text>
<text x="676.6" y="1620.43" letter-spacing="0.55">2018</text><text x="709.6" y="1620.43">ST789</text>
<text x="676.6" y="1635.09" letter-spacing="0.55">2017</text><text x="709.6" y="1635.09">ST395</text>
<text x="676.6" y="1649.75" letter-spacing="0.55">2017</text><text x="709.6" y="1649.75">ST395</text>
<text x="676.6" y="1664.41" letter-spacing="0.55">2018</text><text x="709.6" y="1664.41">ST11</text>
<text x="676.6" y="1679.07" letter-spacing="0.55">2019</text><text x="709.6" y="1679.07">ST11</text>
<text x="676.6" y="1693.73" letter-spacing="0.55">2018</text><text x="709.6" y="1693.73">ST11</text>
<text x="676.6" y="1708.39" letter-spacing="0.55">2018</text><text x="709.6" y="1708.39">ST11</text>
<text x="676.6" y="1723.05" letter-spacing="0.55">2018</text><text x="709.6" y="1723.05">ST11</text>
<text x="676.6" y="1737.71" letter-spacing="0.55">2018</text><text x="709.6" y="1737.71">ST11</text>
<text x="676.6" y="1752.37" letter-spacing="0.55">2018</text><text x="709.6" y="1752.37">ST11</text>
<text x="676.6" y="1767.03" letter-spacing="0.55">2018</text><text x="709.6" y="1767.03">ST11</text>
<text x="676.6" y="1781.69" letter-spacing="0.55">2018</text><text x="709.6" y="1781.69">ST11</text>
<text x="676.6" y="1796.35" letter-spacing="0.55">2018</text><text x="709.6" y="1796.35">ST11</text>
<text x="676.6" y="1811.01" letter-spacing="0.55">2018</text><text x="709.6" y="1811.01">ST11</text>
<text x="676.6" y="1825.67" letter-spacing="0.55">2018</text><text x="709.6" y="1825.67">ST11</text>
<text x="676.6" y="1840.33" letter-spacing="0.55">2018</text><text x="709.6" y="1840.33">ST11</text>
<text x="676.6" y="1854.99" letter-spacing="0.55">2018</text><text x="709.6" y="1854.99">ST11</text>
<text x="676.6" y="1869.65" letter-spacing="0.55">2018</text><text x="709.6" y="1869.65">ST11</text>
<text x="676.6" y="1884.31" letter-spacing="0.55">2018</text><text x="709.6" y="1884.31">ST11</text>
<text x="676.6" y="1898.97" letter-spacing="0.55">2018</text><text x="709.6" y="1898.97">ST11</text>
<text x="676.6" y="1913.63" letter-spacing="0.55">2018</text><text x="709.6" y="1913.63">ST11</text>
<text x="676.6" y="1928.29" letter-spacing="0.55">2018</text><text x="709.6" y="1928.29">ST11</text>
<text x="676.6" y="1942.95" letter-spacing="0.55">2018</text><text x="709.6" y="1942.95">ST11</text>
<text x="676.6" y="1957.61" letter-spacing="0.55">2018</text><text x="709.6" y="1957.61">ST11</text>
<text x="676.6" y="1972.27" letter-spacing="0.55">2018</text><text x="709.6" y="1972.27">ST11</text>
<text x="676.6" y="1986.93" letter-spacing="0.55">2018</text><text x="709.6" y="1986.93">ST11</text>
<text x="676.6" y="2001.59" letter-spacing="0.55">2018</text><text x="709.6" y="2001.59">ST11</text>
<text x="676.6" y="2016.25" letter-spacing="0.55">2018</text><text x="709.6" y="2016.25">ST11</text>
<text x="676.6" y="2030.91" letter-spacing="0.55">2018</text><text x="709.6" y="2030.91">ST11</text>
<text x="676.6" y="2045.57" letter-spacing="0.55">2018</text><text x="709.6" y="2045.57">ST11</text>
<text x="676.6" y="2060.23" letter-spacing="0.55">2018</text><text x="709.6" y="2060.23">ST11</text>
<text x="676.6" y="2074.89" letter-spacing="0.55">2018</text><text x="709.6" y="2074.89">ST11</text>
<text x="676.6" y="2089.55" letter-spacing="0.55">2018</text><text x="709.6" y="2089.55">ST11</text>
<text x="676.6" y="2104.21" letter-spacing="0.55">2018</text><text x="709.6" y="2104.21">ST11</text>
<text x="676.6" y="2118.87" letter-spacing="0.55">2018</text><text x="709.6" y="2118.87">ST11</text>
<text x="676.6" y="2133.53" letter-spacing="0.55">2018</text><text x="709.6" y="2133.53">ST11</text>
<text x="676.6" y="2148.19" letter-spacing="0.55">2017</text><text x="709.6" y="2148.19">ST11</text>
<text x="676.6" y="2162.85" letter-spacing="0.55">2018</text><text x="709.6" y="2162.85">ST11</text>
<text x="676.6" y="2177.51" letter-spacing="0.55">2018</text><text x="709.6" y="2177.51">ST11</text>
<text x="676.6" y="2192.17" letter-spacing="0.55">2018</text><text x="709.6" y="2192.17">ST11</text>
<text x="676.6" y="2206.83" letter-spacing="0.55">2018</text><text x="709.6" y="2206.83">ST11</text>
<text x="676.6" y="2221.49" letter-spacing="0.55">2018</text><text x="709.6" y="2221.49">ST11</text>
<text x="676.6" y="2236.15" letter-spacing="0.55">2018</text><text x="709.6" y="2236.15">ST11</text>
<text x="676.6" y="2250.81" letter-spacing="0.55">2018</text><text x="709.6" y="2250.81">ST11</text>
<text x="676.6" y="2265.47" letter-spacing="0.55">2017</text><text x="709.6" y="2265.47">ST11</text>
<text x="676.6" y="2280.13" letter-spacing="0.55">2018</text><text x="709.6" y="2280.13">ST11</text>
<text x="676.6" y="2294.79" letter-spacing="0.55">2018</text><text x="709.6" y="2294.79">ST11</text>
<text x="676.6" y="2309.45" letter-spacing="0.55">2018</text><text x="709.6" y="2309.45">ST11</text>
<text x="676.6" y="2324.11" letter-spacing="0.55">2018</text><text x="709.6" y="2324.11">ST11</text>
<text x="676.6" y="2338.77" letter-spacing="0.55">2018</text><text x="709.6" y="2338.77">ST11</text>
<text x="676.6" y="2353.43" letter-spacing="0.55">2018</text><text x="709.6" y="2353.43">ST11</text>
</g>
<rect x="759.1" y="143.10" width="18.2" height="14.66" fill="#c0684f"/>
<rect x="759.1" y="157.76" width="18.2" height="14.66" fill="#e94f80"/>
<rect x="759.1" y="172.42" width="18.2" height="14.66" fill="#bcc6c2"/>
<rect x="759.1" y="187.08" width="18.2" height="14.66" fill="#c0684f"/>
<rect x="759.1" y="201.74" width="18.2" height="14.66" fill="#bcc6c2"/>
<rect x="759.1" y="216.40" width="18.2" height="14.66" fill="#ffea52"/>
<rect x="759.1" y="231.06" width="18.2" height="14.66" fill="#ff8b52"/>
<rect x="759.1" y="245.72" width="18.2" height="14.66" fill="#c0684f"/>
<rect x="759.1" y="260.38" width="18.2" height="14.66" fill="#4a82cc"/>
<rect x="759.1" y="275.04" width="18.2" height="14.66" fill="#cf48b4"/>
<rect x="759.1" y="289.70" width="18.2" height="29.32" fill="#c0684f"/>
<rect x="759.1" y="319.02" width="18.2" height="14.66" fill="#48c952"/>
<rect x="759.1" y="333.68" width="18.2" height="14.66" fill="#ff8b52"/>
<rect x="759.1" y="348.34" width="18.2" height="14.66" fill="#ffea52"/>
<rect x="759.1" y="363.00" width="18.2" height="14.66" fill="#c0684f"/>
<rect x="759.1" y="377.66" width="18.2" height="29.32" fill="#ff8b52"/>
<rect x="759.1" y="406.98" width="18.2" height="14.66" fill="#48c952"/>
<rect x="759.1" y="421.64" width="18.2" height="14.66" fill="#cf48b4"/>
<rect x="759.1" y="436.30" width="18.2" height="73.30" fill="#c0684f"/>
<rect x="759.1" y="509.60" width="18.2" height="29.32" fill="#00005e"/>
<rect x="759.1" y="538.92" width="18.2" height="14.66" fill="#ff6158"/>
<rect x="759.1" y="553.58" width="18.2" height="14.66" fill="#cf48b4"/>
<rect x="759.1" y="568.24" width="18.2" height="14.66" fill="#4a82cc"/>
<rect x="759.1" y="582.90" width="18.2" height="14.66" fill="#ff6158"/>
<rect x="759.1" y="597.56" width="18.2" height="29.32" fill="#cf48b4"/>
<rect x="759.1" y="626.88" width="18.2" height="14.66" fill="#e94f80"/>
<rect x="759.1" y="641.54" width="18.2" height="29.32" fill="#c0684f"/>
<rect x="759.1" y="670.86" width="18.2" height="14.66" fill="#ffea52"/>
<rect x="759.1" y="685.52" width="18.2" height="14.66" fill="#ff8b52"/>
<rect x="759.1" y="700.18" width="18.2" height="14.66" fill="#e94f80"/>
<rect x="759.1" y="714.84" width="18.2" height="14.66" fill="#860086"/>
<rect x="759.1" y="729.50" width="18.2" height="73.30" fill="#c0684f"/>
<rect x="759.1" y="802.80" width="18.2" height="14.66" fill="#4a82cc"/>
<rect x="759.1" y="817.46" width="18.2" height="14.66" fill="#ff8b52"/>
<rect x="759.1" y="832.12" width="18.2" height="14.66" fill="#4a82cc"/>
<rect x="759.1" y="846.78" width="18.2" height="29.32" fill="#c0684f"/>
<rect x="759.1" y="876.10" width="18.2" height="29.32" fill="#ffea52"/>
<rect x="759.1" y="905.42" width="18.2" height="14.66" fill="#48c952"/>
<rect x="759.1" y="920.08" width="18.2" height="14.66" fill="#c0684f"/>
<rect x="759.1" y="934.74" width="18.2" height="14.66" fill="#ff8b52"/>
<rect x="759.1" y="949.40" width="18.2" height="14.66" fill="#e94f80"/>
<rect x="759.1" y="964.06" width="18.2" height="14.66" fill="#c0684f"/>
<rect x="759.1" y="978.72" width="18.2" height="14.66" fill="#00005e"/>
<rect x="759.1" y="993.38" width="18.2" height="14.66" fill="#4a82cc"/>
<rect x="759.1" y="1008.04" width="18.2" height="14.66" fill="#00005e"/>
<rect x="759.1" y="1022.70" width="18.2" height="14.66" fill="#4dd6d3"/>
<rect x="759.1" y="1037.36" width="18.2" height="14.66" fill="#cf48b4"/>
<rect x="759.1" y="1052.02" width="18.2" height="14.66" fill="#c0684f"/>
<rect x="759.1" y="1066.68" width="18.2" height="14.66" fill="#ffea52"/>
<rect x="759.1" y="1081.34" width="18.2" height="14.66" fill="#4a82cc"/>
<rect x="759.1" y="1096.00" width="18.2" height="14.66" fill="#c0684f"/>
<rect x="759.1" y="1110.66" width="18.2" height="14.66" fill="#ff6158"/>
<rect x="759.1" y="1125.32" width="18.2" height="14.66" fill="#e94f80"/>
<rect x="759.1" y="1139.98" width="18.2" height="14.66" fill="#00005e"/>
<rect x="759.1" y="1154.64" width="18.2" height="14.66" fill="#ff6158"/>
<rect x="759.1" y="1169.30" width="18.2" height="29.32" fill="#c0684f"/>
<rect x="759.1" y="1198.62" width="18.2" height="14.66" fill="#446b31"/>
<rect x="759.1" y="1213.28" width="18.2" height="14.66" fill="#c0684f"/>
<rect x="759.1" y="1227.94" width="18.2" height="14.66" fill="#ff8b52"/>
<rect x="759.1" y="1242.60" width="18.2" height="14.66" fill="#00005e"/>
<rect x="759.1" y="1257.26" width="18.2" height="29.32" fill="#c0684f"/>
<rect x="759.1" y="1286.58" width="18.2" height="14.66" fill="#bee255"/>
<rect x="759.1" y="1301.24" width="18.2" height="14.66" fill="#ffea52"/>
<rect x="759.1" y="1315.90" width="18.2" height="14.66" fill="#00005e"/>
<rect x="759.1" y="1330.56" width="18.2" height="29.32" fill="#c0684f"/>
<rect x="759.1" y="1359.88" width="18.2" height="14.66" fill="#00005e"/>
<rect x="759.1" y="1374.54" width="18.2" height="29.32" fill="#ff8b52"/>
<rect x="759.1" y="1403.86" width="18.2" height="14.66" fill="#cf48b4"/>
<rect x="759.1" y="1418.52" width="18.2" height="14.66" fill="#ffea52"/>
<rect x="759.1" y="1433.18" width="18.2" height="29.32" fill="#c0684f"/>
<rect x="759.1" y="1462.50" width="18.2" height="14.66" fill="#ffea52"/>
<rect x="759.1" y="1477.16" width="18.2" height="29.32" fill="#ff8b52"/>
<rect x="759.1" y="1506.48" width="18.2" height="14.66" fill="#cf48b4"/>
<rect x="759.1" y="1521.14" width="18.2" height="14.66" fill="#e94f80"/>
<rect x="759.1" y="1535.80" width="18.2" height="14.66" fill="#c0684f"/>
<rect x="759.1" y="1550.46" width="18.2" height="14.66" fill="#4a82cc"/>
<rect x="759.1" y="1565.12" width="18.2" height="14.66" fill="#c0684f"/>
<rect x="759.1" y="1579.78" width="18.2" height="14.66" fill="#e94f80"/>
<rect x="759.1" y="1594.44" width="18.2" height="14.66" fill="#4a82cc"/>
<rect x="759.1" y="1609.10" width="18.2" height="14.66" fill="#00005e"/>
<rect x="759.1" y="1623.76" width="18.2" height="14.66" fill="#c0684f"/>
<rect x="759.1" y="1638.42" width="18.2" height="14.66" fill="#00005e"/>
<rect x="759.1" y="1653.08" width="18.2" height="14.66" fill="#ff8b52"/>
<rect x="759.1" y="1667.74" width="18.2" height="14.66" fill="#c0684f"/>
<rect x="759.1" y="1682.40" width="18.2" height="14.66" fill="#4a82cc"/>
<rect x="759.1" y="1697.06" width="18.2" height="14.66" fill="#6e003c"/>
<rect x="759.1" y="1711.72" width="18.2" height="43.98" fill="#4a82cc"/>
<rect x="759.1" y="1755.70" width="18.2" height="29.32" fill="#6e003c"/>
<rect x="759.1" y="1785.02" width="18.2" height="14.66" fill="#4a82cc"/>
<rect x="759.1" y="1799.68" width="18.2" height="14.66" fill="#6e003c"/>
<rect x="759.1" y="1814.34" width="18.2" height="14.66" fill="#ffa556"/>
<rect x="759.1" y="1829.00" width="18.2" height="14.66" fill="#6e003c"/>
<rect x="759.1" y="1843.66" width="18.2" height="58.64" fill="#4a82cc"/>
<rect x="759.1" y="1902.30" width="18.2" height="29.32" fill="#6e003c"/>
<rect x="759.1" y="1931.62" width="18.2" height="29.32" fill="#4a82cc"/>
<rect x="759.1" y="1960.94" width="18.2" height="14.66" fill="#c0684f"/>
<rect x="759.1" y="1975.60" width="18.2" height="14.66" fill="#6e003c"/>
<rect x="759.1" y="1990.26" width="18.2" height="14.66" fill="#c0684f"/>
<rect x="759.1" y="2004.92" width="18.2" height="43.98" fill="#6e003c"/>
<rect x="759.1" y="2048.90" width="18.2" height="14.66" fill="#4a82cc"/>
<rect x="759.1" y="2063.56" width="18.2" height="14.66" fill="#6e003c"/>
<rect x="759.1" y="2078.22" width="18.2" height="14.66" fill="#b9b63c"/>
<rect x="759.1" y="2092.88" width="18.2" height="43.98" fill="#6e003c"/>
<rect x="759.1" y="2136.86" width="18.2" height="14.66" fill="#ee0000"/>
<rect x="759.1" y="2151.52" width="18.2" height="29.32" fill="#c0684f"/>
<rect x="759.1" y="2180.84" width="18.2" height="14.66" fill="#6e003c"/>
<rect x="759.1" y="2195.50" width="18.2" height="14.66" fill="#4a82cc"/>
<rect x="759.1" y="2210.16" width="18.2" height="29.32" fill="#c0684f"/>
<rect x="759.1" y="2239.48" width="18.2" height="43.98" fill="#6e003c"/>
<rect x="759.1" y="2283.46" width="18.2" height="43.98" fill="#4a82cc"/>
<rect x="759.1" y="2327.44" width="18.2" height="14.66" fill="#6e003c"/>
<rect x="759.1" y="2342.10" width="18.2" height="14.66" fill="#ffa556"/>
<rect x="759.1" y="143.1" width="1.2" height="2213.7" fill="#000" opacity="0.18"/>
<line x1="776.8" y1="143.1" x2="776.8" y2="2356.8" stroke="#9a9a9a" stroke-width="1"/>
<defs><pattern id="pi" patternUnits="userSpaceOnUse" x="785.10" y="143.10" width="15.22" height="14.66"><rect x="0.5" y="0.5" width="12.3" height="13.66" fill="#fff" stroke="#78d3fa" stroke-width="1"/></pattern></defs>
<rect x="785.10" y="143.10" width="104.62" height="2213.66" fill="url(#pi)"/>
<path fill="#33bdfb" d="M815.5 187.3h13.3v13.26h-13.3zM815.5 201.9h13.3v13.26h-13.3zM800.3 216.6h13.3v13.26h-13.3zM830.8 216.6h13.3v13.26h-13.3zM785.1 231.3h13.3v13.26h-13.3zM815.5 231.3h13.3v13.26h-13.3zM800.3 245.9h13.3v13.26h-13.3zM800.3 275.2h13.3v13.26h-13.3zM800.3 289.9h13.3v13.26h-13.3zM815.5 289.9h13.3v13.26h-13.3zM800.3 304.6h13.3v13.26h-13.3zM815.5 304.6h13.3v13.26h-13.3zM815.5 333.9h13.3v13.26h-13.3zM800.3 363.2h13.3v13.26h-13.3zM800.3 377.9h13.3v13.26h-13.3zM815.5 377.9h13.3v13.26h-13.3zM800.3 392.5h13.3v13.26h-13.3zM815.5 392.5h13.3v13.26h-13.3zM800.3 421.8h13.3v13.26h-13.3zM815.5 421.8h13.3v13.26h-13.3zM800.3 436.5h13.3v13.26h-13.3zM815.5 436.5h13.3v13.26h-13.3zM800.3 451.2h13.3v13.26h-13.3zM815.5 451.2h13.3v13.26h-13.3zM800.3 480.5h13.3v13.26h-13.3zM861.2 480.5h13.3v13.26h-13.3zM800.3 495.1h13.3v13.26h-13.3zM861.2 495.1h13.3v13.26h-13.3zM800.3 509.8h13.3v13.26h-13.3zM830.8 509.8h13.3v13.26h-13.3zM800.3 524.5h13.3v13.26h-13.3zM815.5 524.5h13.3v13.26h-13.3zM800.3 539.1h13.3v13.26h-13.3zM800.3 553.8h13.3v13.26h-13.3zM800.3 568.4h13.3v13.26h-13.3zM800.3 583.1h13.3v13.26h-13.3zM800.3 597.8h13.3v13.26h-13.3zM800.3 627.1h13.3v13.26h-13.3zM876.4 627.1h13.3v13.26h-13.3zM800.3 641.7h13.3v13.26h-13.3zM800.3 671.1h13.3v13.26h-13.3zM815.5 671.1h13.3v13.26h-13.3zM800.3 685.7h13.3v13.26h-13.3zM815.5 685.7h13.3v13.26h-13.3zM815.5 715.0h13.3v13.26h-13.3zM785.1 729.7h13.3v13.26h-13.3zM800.3 729.7h13.3v13.26h-13.3zM800.3 788.3h13.3v13.26h-13.3zM815.5 788.3h13.3v13.26h-13.3zM800.3 803.0h13.3v13.26h-13.3zM815.5 803.0h13.3v13.26h-13.3zM846.0 803.0h13.3v13.26h-13.3zM800.3 817.7h13.3v13.26h-13.3zM815.5 817.7h13.3v13.26h-13.3zM830.8 817.7h13.3v13.26h-13.3zM785.1 832.3h13.3v13.26h-13.3zM800.3 832.3h13.3v13.26h-13.3zM830.8 832.3h13.3v13.26h-13.3zM800.3 847.0h13.3v13.26h-13.3zM815.5 847.0h13.3v13.26h-13.3zM800.3 861.6h13.3v13.26h-13.3zM815.5 861.6h13.3v13.26h-13.3zM800.3 876.3h13.3v13.26h-13.3zM815.5 876.3h13.3v13.26h-13.3zM830.8 876.3h13.3v13.26h-13.3zM815.5 891.0h13.3v13.26h-13.3zM785.1 905.6h13.3v13.26h-13.3zM815.5 905.6h13.3v13.26h-13.3zM830.8 905.6h13.3v13.26h-13.3zM830.8 920.3h13.3v13.26h-13.3zM846.0 920.3h13.3v13.26h-13.3zM800.3 934.9h13.3v13.26h-13.3zM830.8 934.9h13.3v13.26h-13.3zM846.0 934.9h13.3v13.26h-13.3zM800.3 964.3h13.3v13.26h-13.3zM785.1 978.9h13.3v13.26h-13.3zM800.3 978.9h13.3v13.26h-13.3zM830.8 978.9h13.3v13.26h-13.3zM815.5 993.6h13.3v13.26h-13.3zM800.3 1037.6h13.3v13.26h-13.3zM800.3 1052.2h13.3v13.26h-13.3zM785.1 1066.9h13.3v13.26h-13.3zM800.3 1066.9h13.3v13.26h-13.3zM830.8 1066.9h13.3v13.26h-13.3zM800.3 1081.5h13.3v13.26h-13.3zM800.3 1096.2h13.3v13.26h-13.3zM815.5 1096.2h13.3v13.26h-13.3zM861.2 1096.2h13.3v13.26h-13.3zM830.8 1110.9h13.3v13.26h-13.3zM785.1 1125.5h13.3v13.26h-13.3zM800.3 1125.5h13.3v13.26h-13.3zM815.5 1125.5h13.3v13.26h-13.3zM830.8 1125.5h13.3v13.26h-13.3zM800.3 1154.8h13.3v13.26h-13.3zM815.5 1154.8h13.3v13.26h-13.3zM800.3 1169.5h13.3v13.26h-13.3zM815.5 1169.5h13.3v13.26h-13.3zM800.3 1184.2h13.3v13.26h-13.3zM815.5 1184.2h13.3v13.26h-13.3zM785.1 1213.5h13.3v13.26h-13.3zM830.8 1213.5h13.3v13.26h-13.3zM815.5 1228.1h13.3v13.26h-13.3zM785.1 1257.5h13.3v13.26h-13.3zM800.3 1257.5h13.3v13.26h-13.3zM815.5 1257.5h13.3v13.26h-13.3zM830.8 1257.5h13.3v13.26h-13.3zM846.0 1257.5h13.3v13.26h-13.3zM800.3 1272.1h13.3v13.26h-13.3zM815.5 1272.1h13.3v13.26h-13.3zM800.3 1286.8h13.3v13.26h-13.3zM815.5 1286.8h13.3v13.26h-13.3zM800.3 1301.4h13.3v13.26h-13.3zM815.5 1301.4h13.3v13.26h-13.3zM800.3 1316.1h13.3v13.26h-13.3zM815.5 1316.1h13.3v13.26h-13.3zM830.8 1316.1h13.3v13.26h-13.3zM800.3 1330.8h13.3v13.26h-13.3zM815.5 1330.8h13.3v13.26h-13.3zM830.8 1330.8h13.3v13.26h-13.3zM861.2 1330.8h13.3v13.26h-13.3zM800.3 1345.4h13.3v13.26h-13.3zM815.5 1345.4h13.3v13.26h-13.3zM830.8 1345.4h13.3v13.26h-13.3zM861.2 1345.4h13.3v13.26h-13.3zM800.3 1360.1h13.3v13.26h-13.3zM815.5 1360.1h13.3v13.26h-13.3zM830.8 1360.1h13.3v13.26h-13.3zM861.2 1360.1h13.3v13.26h-13.3zM800.3 1374.7h13.3v13.26h-13.3zM815.5 1374.7h13.3v13.26h-13.3zM830.8 1374.7h13.3v13.26h-13.3zM800.3 1389.4h13.3v13.26h-13.3zM815.5 1389.4h13.3v13.26h-13.3zM830.8 1389.4h13.3v13.26h-13.3zM785.1 1404.1h13.3v13.26h-13.3zM800.3 1404.1h13.3v13.26h-13.3zM815.5 1404.1h13.3v13.26h-13.3zM830.8 1404.1h13.3v13.26h-13.3zM800.3 1418.7h13.3v13.26h-13.3zM815.5 1418.7h13.3v13.26h-13.3zM876.4 1418.7h13.3v13.26h-13.3zM800.3 1433.4h13.3v13.26h-13.3zM815.5 1433.4h13.3v13.26h-13.3zM830.8 1433.4h13.3v13.26h-13.3zM800.3 1448.0h13.3v13.26h-13.3zM815.5 1448.0h13.3v13.26h-13.3zM785.1 1462.7h13.3v13.26h-13.3zM800.3 1462.7h13.3v13.26h-13.3zM785.1 1477.4h13.3v13.26h-13.3zM800.3 1477.4h13.3v13.26h-13.3zM785.1 1492.0h13.3v13.26h-13.3zM800.3 1492.0h13.3v13.26h-13.3zM800.3 1506.7h13.3v13.26h-13.3zM785.1 1521.3h13.3v13.26h-13.3zM800.3 1521.3h13.3v13.26h-13.3zM830.8 1521.3h13.3v13.26h-13.3zM800.3 1536.0h13.3v13.26h-13.3zM830.8 1536.0h13.3v13.26h-13.3zM785.1 1550.7h13.3v13.26h-13.3zM800.3 1550.7h13.3v13.26h-13.3zM785.1 1565.3h13.3v13.26h-13.3zM800.3 1565.3h13.3v13.26h-13.3zM785.1 1580.0h13.3v13.26h-13.3zM800.3 1580.0h13.3v13.26h-13.3zM785.1 1594.6h13.3v13.26h-13.3zM800.3 1594.6h13.3v13.26h-13.3zM815.5 1594.6h13.3v13.26h-13.3zM800.3 1609.3h13.3v13.26h-13.3zM830.8 1609.3h13.3v13.26h-13.3zM830.8 1624.0h13.3v13.26h-13.3zM800.3 1638.6h13.3v13.26h-13.3zM815.5 1638.6h13.3v13.26h-13.3zM830.8 1638.6h13.3v13.26h-13.3zM815.5 1653.3h13.3v13.26h-13.3zM830.8 1653.3h13.3v13.26h-13.3zM800.3 1667.9h13.3v13.26h-13.3zM815.5 1667.9h13.3v13.26h-13.3zM830.8 1667.9h13.3v13.26h-13.3zM800.3 1682.6h13.3v13.26h-13.3zM815.5 1682.6h13.3v13.26h-13.3zM830.8 1682.6h13.3v13.26h-13.3zM800.3 1697.3h13.3v13.26h-13.3zM815.5 1697.3h13.3v13.26h-13.3zM830.8 1697.3h13.3v13.26h-13.3zM800.3 1711.9h13.3v13.26h-13.3zM815.5 1711.9h13.3v13.26h-13.3zM830.8 1711.9h13.3v13.26h-13.3zM800.3 1726.6h13.3v13.26h-13.3zM815.5 1726.6h13.3v13.26h-13.3zM830.8 1726.6h13.3v13.26h-13.3zM800.3 1741.2h13.3v13.26h-13.3zM815.5 1741.2h13.3v13.26h-13.3zM830.8 1741.2h13.3v13.26h-13.3zM800.3 1755.9h13.3v13.26h-13.3zM815.5 1755.9h13.3v13.26h-13.3zM830.8 1755.9h13.3v13.26h-13.3zM800.3 1770.6h13.3v13.26h-13.3zM815.5 1770.6h13.3v13.26h-13.3zM830.8 1770.6h13.3v13.26h-13.3zM800.3 1785.2h13.3v13.26h-13.3zM815.5 1785.2h13.3v13.26h-13.3zM830.8 1785.2h13.3v13.26h-13.3zM800.3 1799.9h13.3v13.26h-13.3zM815.5 1799.9h13.3v13.26h-13.3zM830.8 1799.9h13.3v13.26h-13.3zM800.3 1814.5h13.3v13.26h-13.3zM815.5 1814.5h13.3v13.26h-13.3zM830.8 1814.5h13.3v13.26h-13.3zM815.5 1829.2h13.3v13.26h-13.3zM830.8 1829.2h13.3v13.26h-13.3zM800.3 1843.9h13.3v13.26h-13.3zM815.5 1843.9h13.3v13.26h-13.3zM830.8 1843.9h13.3v13.26h-13.3zM815.5 1858.5h13.3v13.26h-13.3zM830.8 1858.5h13.3v13.26h-13.3zM800.3 1873.2h13.3v13.26h-13.3zM815.5 1873.2h13.3v13.26h-13.3zM830.8 1873.2h13.3v13.26h-13.3zM815.5 1887.8h13.3v13.26h-13.3zM830.8 1887.8h13.3v13.26h-13.3zM815.5 1902.5h13.3v13.26h-13.3zM830.8 1902.5h13.3v13.26h-13.3zM815.5 1917.2h13.3v13.26h-13.3zM830.8 1917.2h13.3v13.26h-13.3zM815.5 1931.8h13.3v13.26h-13.3zM815.5 1946.5h13.3v13.26h-13.3zM815.5 1961.1h13.3v13.26h-13.3zM815.5 1975.8h13.3v13.26h-13.3zM800.3 1990.5h13.3v13.26h-13.3zM815.5 1990.5h13.3v13.26h-13.3zM800.3 2005.1h13.3v13.26h-13.3zM815.5 2005.1h13.3v13.26h-13.3zM815.5 2019.8h13.3v13.26h-13.3zM815.5 2034.4h13.3v13.26h-13.3zM815.5 2049.1h13.3v13.26h-13.3zM800.3 2063.8h13.3v13.26h-13.3zM815.5 2063.8h13.3v13.26h-13.3zM830.8 2063.8h13.3v13.26h-13.3zM800.3 2078.4h13.3v13.26h-13.3zM815.5 2078.4h13.3v13.26h-13.3zM830.8 2078.4h13.3v13.26h-13.3zM815.5 2093.1h13.3v13.26h-13.3zM830.8 2093.1h13.3v13.26h-13.3zM800.3 2107.7h13.3v13.26h-13.3zM815.5 2107.7h13.3v13.26h-13.3zM830.8 2107.7h13.3v13.26h-13.3zM800.3 2122.4h13.3v13.26h-13.3zM815.5 2122.4h13.3v13.26h-13.3zM830.8 2122.4h13.3v13.26h-13.3zM800.3 2137.1h13.3v13.26h-13.3zM815.5 2137.1h13.3v13.26h-13.3zM830.8 2137.1h13.3v13.26h-13.3zM800.3 2151.7h13.3v13.26h-13.3zM815.5 2151.7h13.3v13.26h-13.3zM830.8 2151.7h13.3v13.26h-13.3zM800.3 2166.4h13.3v13.26h-13.3zM815.5 2166.4h13.3v13.26h-13.3zM830.8 2166.4h13.3v13.26h-13.3zM800.3 2181.0h13.3v13.26h-13.3zM815.5 2181.0h13.3v13.26h-13.3zM830.8 2181.0h13.3v13.26h-13.3zM800.3 2195.7h13.3v13.26h-13.3zM815.5 2195.7h13.3v13.26h-13.3zM830.8 2195.7h13.3v13.26h-13.3zM800.3 2210.4h13.3v13.26h-13.3zM815.5 2210.4h13.3v13.26h-13.3zM830.8 2210.4h13.3v13.26h-13.3zM800.3 2225.0h13.3v13.26h-13.3zM815.5 2225.0h13.3v13.26h-13.3zM830.8 2225.0h13.3v13.26h-13.3zM800.3 2239.7h13.3v13.26h-13.3zM815.5 2239.7h13.3v13.26h-13.3zM800.3 2254.3h13.3v13.26h-13.3zM815.5 2254.3h13.3v13.26h-13.3zM800.3 2269.0h13.3v13.26h-13.3zM815.5 2269.0h13.3v13.26h-13.3zM800.3 2283.7h13.3v13.26h-13.3zM815.5 2283.7h13.3v13.26h-13.3zM800.3 2298.3h13.3v13.26h-13.3zM815.5 2298.3h13.3v13.26h-13.3zM800.3 2313.0h13.3v13.26h-13.3zM815.5 2313.0h13.3v13.26h-13.3zM800.3 2327.6h13.3v13.26h-13.3zM815.5 2327.6h13.3v13.26h-13.3zM800.3 2342.3h13.3v13.26h-13.3zM815.5 2342.3h13.3v13.26h-13.3z"/>
<defs><pattern id="pr" patternUnits="userSpaceOnUse" x="899.00" y="143.10" width="15.22" height="14.66"><rect x="0.5" y="0.5" width="12.3" height="13.66" fill="#fff" stroke="#f67c88" stroke-width="1"/></pattern></defs>
<rect x="899.00" y="143.10" width="485.12" height="2213.66" fill="url(#pr)"/>
<path fill="#f51228" d="M1005.5 143.3h13.3v13.26h-13.3zM1188.2 143.3h13.3v13.26h-13.3zM1203.4 143.3h13.3v13.26h-13.3zM1309.9 143.3h13.3v13.26h-13.3zM1005.5 158.0h13.3v13.26h-13.3zM1188.2 158.0h13.3v13.26h-13.3zM1203.4 158.0h13.3v13.26h-13.3zM1309.9 158.0h13.3v13.26h-13.3zM1005.5 172.6h13.3v13.26h-13.3zM1188.2 172.6h13.3v13.26h-13.3zM1203.4 172.6h13.3v13.26h-13.3zM1309.9 172.6h13.3v13.26h-13.3zM1005.5 187.3h13.3v13.26h-13.3zM1188.2 187.3h13.3v13.26h-13.3zM1203.4 187.3h13.3v13.26h-13.3zM1233.8 187.3h13.3v13.26h-13.3zM1294.7 187.3h13.3v13.26h-13.3zM1309.9 187.3h13.3v13.26h-13.3zM1340.4 187.3h13.3v13.26h-13.3zM1355.6 187.3h13.3v13.26h-13.3zM944.7 201.9h13.3v13.26h-13.3zM1005.5 201.9h13.3v13.26h-13.3zM1051.2 201.9h13.3v13.26h-13.3zM1066.4 201.9h13.3v13.26h-13.3zM1096.9 201.9h13.3v13.26h-13.3zM1127.3 201.9h13.3v13.26h-13.3zM1142.5 201.9h13.3v13.26h-13.3zM1157.7 201.9h13.3v13.26h-13.3zM1173.0 201.9h13.3v13.26h-13.3zM1188.2 201.9h13.3v13.26h-13.3zM1203.4 201.9h13.3v13.26h-13.3zM1233.8 201.9h13.3v13.26h-13.3zM1279.5 201.9h13.3v13.26h-13.3zM1294.7 201.9h13.3v13.26h-13.3zM1309.9 201.9h13.3v13.26h-13.3zM1325.2 201.9h13.3v13.26h-13.3zM1340.4 201.9h13.3v13.26h-13.3zM1355.6 201.9h13.3v13.26h-13.3zM1005.5 216.6h13.3v13.26h-13.3zM1157.7 216.6h13.3v13.26h-13.3zM1188.2 216.6h13.3v13.26h-13.3zM1203.4 216.6h13.3v13.26h-13.3zM1309.9 216.6h13.3v13.26h-13.3zM990.3 231.3h13.3v13.26h-13.3zM1188.2 231.3h13.3v13.26h-13.3zM1203.4 231.3h13.3v13.26h-13.3zM1309.9 231.3h13.3v13.26h-13.3zM990.3 245.9h13.3v13.26h-13.3zM1188.2 245.9h13.3v13.26h-13.3zM1203.4 245.9h13.3v13.26h-13.3zM1309.9 245.9h13.3v13.26h-13.3zM990.3 260.6h13.3v13.26h-13.3zM1188.2 260.6h13.3v13.26h-13.3zM1203.4 260.6h13.3v13.26h-13.3zM1309.9 260.6h13.3v13.26h-13.3zM990.3 275.2h13.3v13.26h-13.3zM1188.2 275.2h13.3v13.26h-13.3zM1203.4 275.2h13.3v13.26h-13.3zM1309.9 275.2h13.3v13.26h-13.3zM990.3 289.9h13.3v13.26h-13.3zM1188.2 289.9h13.3v13.26h-13.3zM1203.4 289.9h13.3v13.26h-13.3zM1309.9 289.9h13.3v13.26h-13.3zM990.3 304.6h13.3v13.26h-13.3zM1188.2 304.6h13.3v13.26h-13.3zM1203.4 304.6h13.3v13.26h-13.3zM1309.9 304.6h13.3v13.26h-13.3zM990.3 319.2h13.3v13.26h-13.3zM1188.2 319.2h13.3v13.26h-13.3zM1203.4 319.2h13.3v13.26h-13.3zM1309.9 319.2h13.3v13.26h-13.3zM944.7 333.9h13.3v13.26h-13.3zM1036.0 333.9h13.3v13.26h-13.3zM1051.2 333.9h13.3v13.26h-13.3zM1066.4 333.9h13.3v13.26h-13.3zM1096.9 333.9h13.3v13.26h-13.3zM1112.1 333.9h13.3v13.26h-13.3zM1127.3 333.9h13.3v13.26h-13.3zM1142.5 333.9h13.3v13.26h-13.3zM1157.7 333.9h13.3v13.26h-13.3zM1173.0 333.9h13.3v13.26h-13.3zM1188.2 333.9h13.3v13.26h-13.3zM1203.4 333.9h13.3v13.26h-13.3zM1218.6 333.9h13.3v13.26h-13.3zM1233.8 333.9h13.3v13.26h-13.3zM1279.5 333.9h13.3v13.26h-13.3zM1294.7 333.9h13.3v13.26h-13.3zM1309.9 333.9h13.3v13.26h-13.3zM1325.2 333.9h13.3v13.26h-13.3zM1340.4 333.9h13.3v13.26h-13.3zM1355.6 333.9h13.3v13.26h-13.3zM1036.0 348.5h13.3v13.26h-13.3zM1188.2 348.5h13.3v13.26h-13.3zM1203.4 348.5h13.3v13.26h-13.3zM1309.9 348.5h13.3v13.26h-13.3zM1036.0 363.2h13.3v13.26h-13.3zM1188.2 363.2h13.3v13.26h-13.3zM1203.4 363.2h13.3v13.26h-13.3zM1309.9 363.2h13.3v13.26h-13.3zM1036.0 377.9h13.3v13.26h-13.3zM1096.9 377.9h13.3v13.26h-13.3zM1157.7 377.9h13.3v13.26h-13.3zM1188.2 377.9h13.3v13.26h-13.3zM1203.4 377.9h13.3v13.26h-13.3zM1233.8 377.9h13.3v13.26h-13.3zM1294.7 377.9h13.3v13.26h-13.3zM1309.9 377.9h13.3v13.26h-13.3zM1340.4 377.9h13.3v13.26h-13.3zM1355.6 377.9h13.3v13.26h-13.3zM944.7 392.5h13.3v13.26h-13.3zM1036.0 392.5h13.3v13.26h-13.3zM1127.3 392.5h13.3v13.26h-13.3zM1188.2 392.5h13.3v13.26h-13.3zM1203.4 392.5h13.3v13.26h-13.3zM1233.8 392.5h13.3v13.26h-13.3zM1249.1 392.5h13.3v13.26h-13.3zM1294.7 392.5h13.3v13.26h-13.3zM1309.9 392.5h13.3v13.26h-13.3zM1340.4 392.5h13.3v13.26h-13.3zM1355.6 392.5h13.3v13.26h-13.3zM1036.0 407.2h13.3v13.26h-13.3zM1188.2 407.2h13.3v13.26h-13.3zM1203.4 407.2h13.3v13.26h-13.3zM1309.9 407.2h13.3v13.26h-13.3zM1036.0 421.8h13.3v13.26h-13.3zM1188.2 421.8h13.3v13.26h-13.3zM1203.4 421.8h13.3v13.26h-13.3zM1309.9 421.8h13.3v13.26h-13.3zM1036.0 436.5h13.3v13.26h-13.3zM1188.2 436.5h13.3v13.26h-13.3zM1203.4 436.5h13.3v13.26h-13.3zM1309.9 436.5h13.3v13.26h-13.3zM1036.0 451.2h13.3v13.26h-13.3zM1188.2 451.2h13.3v13.26h-13.3zM1203.4 451.2h13.3v13.26h-13.3zM1309.9 451.2h13.3v13.26h-13.3zM1036.0 465.8h13.3v13.26h-13.3zM1188.2 465.8h13.3v13.26h-13.3zM1203.4 465.8h13.3v13.26h-13.3zM1309.9 465.8h13.3v13.26h-13.3zM1020.8 480.5h13.3v13.26h-13.3zM1036.0 480.5h13.3v13.26h-13.3zM1188.2 480.5h13.3v13.26h-13.3zM1203.4 480.5h13.3v13.26h-13.3zM1233.8 480.5h13.3v13.26h-13.3zM1309.9 480.5h13.3v13.26h-13.3zM1036.0 495.1h13.3v13.26h-13.3zM1188.2 495.1h13.3v13.26h-13.3zM1203.4 495.1h13.3v13.26h-13.3zM1309.9 495.1h13.3v13.26h-13.3zM1036.0 509.8h13.3v13.26h-13.3zM1188.2 509.8h13.3v13.26h-13.3zM1203.4 509.8h13.3v13.26h-13.3zM1309.9 509.8h13.3v13.26h-13.3zM944.7 524.5h13.3v13.26h-13.3zM1036.0 524.5h13.3v13.26h-13.3zM1127.3 524.5h13.3v13.26h-13.3zM1188.2 524.5h13.3v13.26h-13.3zM1203.4 524.5h13.3v13.26h-13.3zM1233.8 524.5h13.3v13.26h-13.3zM1294.7 524.5h13.3v13.26h-13.3zM1309.9 524.5h13.3v13.26h-13.3zM1340.4 524.5h13.3v13.26h-13.3zM1355.6 524.5h13.3v13.26h-13.3zM1036.0 539.1h13.3v13.26h-13.3zM1188.2 539.1h13.3v13.26h-13.3zM1203.4 539.1h13.3v13.26h-13.3zM1309.9 539.1h13.3v13.26h-13.3zM1036.0 553.8h13.3v13.26h-13.3zM1188.2 553.8h13.3v13.26h-13.3zM1203.4 553.8h13.3v13.26h-13.3zM1309.9 553.8h13.3v13.26h-13.3zM1036.0 568.4h13.3v13.26h-13.3zM1188.2 568.4h13.3v13.26h-13.3zM1203.4 568.4h13.3v13.26h-13.3zM1309.9 568.4h13.3v13.26h-13.3zM1036.0 583.1h13.3v13.26h-13.3zM1188.2 583.1h13.3v13.26h-13.3zM1203.4 583.1h13.3v13.26h-13.3zM1309.9 583.1h13.3v13.26h-13.3zM1036.0 597.8h13.3v13.26h-13.3zM1188.2 597.8h13.3v13.26h-13.3zM1203.4 597.8h13.3v13.26h-13.3zM1309.9 597.8h13.3v13.26h-13.3zM1036.0 612.4h13.3v13.26h-13.3zM1188.2 612.4h13.3v13.26h-13.3zM1203.4 612.4h13.3v13.26h-13.3zM1309.9 612.4h13.3v13.26h-13.3zM1036.0 627.1h13.3v13.26h-13.3zM1188.2 627.1h13.3v13.26h-13.3zM1203.4 627.1h13.3v13.26h-13.3zM1309.9 627.1h13.3v13.26h-13.3zM1036.0 641.7h13.3v13.26h-13.3zM1188.2 641.7h13.3v13.26h-13.3zM1203.4 641.7h13.3v13.26h-13.3zM1309.9 641.7h13.3v13.26h-13.3zM1036.0 656.4h13.3v13.26h-13.3zM1188.2 656.4h13.3v13.26h-13.3zM1203.4 656.4h13.3v13.26h-13.3zM1309.9 656.4h13.3v13.26h-13.3zM1036.0 671.1h13.3v13.26h-13.3zM1142.5 671.1h13.3v13.26h-13.3zM1157.7 671.1h13.3v13.26h-13.3zM1188.2 671.1h13.3v13.26h-13.3zM1203.4 671.1h13.3v13.26h-13.3zM1233.8 671.1h13.3v13.26h-13.3zM1279.5 671.1h13.3v13.26h-13.3zM1309.9 671.1h13.3v13.26h-13.3zM1340.4 671.1h13.3v13.26h-13.3zM1355.6 671.1h13.3v13.26h-13.3zM944.7 685.7h13.3v13.26h-13.3zM1036.0 685.7h13.3v13.26h-13.3zM1051.2 685.7h13.3v13.26h-13.3zM1066.4 685.7h13.3v13.26h-13.3zM1096.9 685.7h13.3v13.26h-13.3zM1127.3 685.7h13.3v13.26h-13.3zM1142.5 685.7h13.3v13.26h-13.3zM1157.7 685.7h13.3v13.26h-13.3zM1173.0 685.7h13.3v13.26h-13.3zM1188.2 685.7h13.3v13.26h-13.3zM1203.4 685.7h13.3v13.26h-13.3zM1218.6 685.7h13.3v13.26h-13.3zM1233.8 685.7h13.3v13.26h-13.3zM1279.5 685.7h13.3v13.26h-13.3zM1294.7 685.7h13.3v13.26h-13.3zM1309.9 685.7h13.3v13.26h-13.3zM1325.2 685.7h13.3v13.26h-13.3zM1340.4 685.7h13.3v13.26h-13.3zM1355.6 685.7h13.3v13.26h-13.3zM1036.0 700.4h13.3v13.26h-13.3zM1188.2 700.4h13.3v13.26h-13.3zM1203.4 700.4h13.3v13.26h-13.3zM1309.9 700.4h13.3v13.26h-13.3zM944.7 715.0h13.3v13.26h-13.3zM1036.0 715.0h13.3v13.26h-13.3zM1051.2 715.0h13.3v13.26h-13.3zM1066.4 715.0h13.3v13.26h-13.3zM1096.9 715.0h13.3v13.26h-13.3zM1127.3 715.0h13.3v13.26h-13.3zM1142.5 715.0h13.3v13.26h-13.3zM1157.7 715.0h13.3v13.26h-13.3zM1173.0 715.0h13.3v13.26h-13.3zM1188.2 715.0h13.3v13.26h-13.3zM1203.4 715.0h13.3v13.26h-13.3zM1218.6 715.0h13.3v13.26h-13.3zM1233.8 715.0h13.3v13.26h-13.3zM1279.5 715.0h13.3v13.26h-13.3zM1294.7 715.0h13.3v13.26h-13.3zM1309.9 715.0h13.3v13.26h-13.3zM1325.2 715.0h13.3v13.26h-13.3zM1340.4 715.0h13.3v13.26h-13.3zM1355.6 715.0h13.3v13.26h-13.3zM944.7 729.7h13.3v13.26h-13.3zM1036.0 729.7h13.3v13.26h-13.3zM1066.4 729.7h13.3v13.26h-13.3zM1096.9 729.7h13.3v13.26h-13.3zM1173.0 729.7h13.3v13.26h-13.3zM1188.2 729.7h13.3v13.26h-13.3zM1203.4 729.7h13.3v13.26h-13.3zM1218.6 729.7h13.3v13.26h-13.3zM1279.5 729.7h13.3v13.26h-13.3zM1294.7 729.7h13.3v13.26h-13.3zM1309.9 729.7h13.3v13.26h-13.3zM1340.4 729.7h13.3v13.26h-13.3zM1036.0 744.4h13.3v13.26h-13.3zM1188.2 744.4h13.3v13.26h-13.3zM1203.4 744.4h13.3v13.26h-13.3zM1309.9 744.4h13.3v13.26h-13.3zM1036.0 759.0h13.3v13.26h-13.3zM1188.2 759.0h13.3v13.26h-13.3zM1203.4 759.0h13.3v13.26h-13.3zM1309.9 759.0h13.3v13.26h-13.3zM1036.0 773.7h13.3v13.26h-13.3zM1188.2 773.7h13.3v13.26h-13.3zM1203.4 773.7h13.3v13.26h-13.3zM1309.9 773.7h13.3v13.26h-13.3zM1036.0 788.3h13.3v13.26h-13.3zM1096.9 788.3h13.3v13.26h-13.3zM1157.7 788.3h13.3v13.26h-13.3zM1188.2 788.3h13.3v13.26h-13.3zM1203.4 788.3h13.3v13.26h-13.3zM1294.7 788.3h13.3v13.26h-13.3zM1309.9 788.3h13.3v13.26h-13.3zM1340.4 788.3h13.3v13.26h-13.3zM1355.6 788.3h13.3v13.26h-13.3zM944.7 803.0h13.3v13.26h-13.3zM1020.8 803.0h13.3v13.26h-13.3zM1036.0 803.0h13.3v13.26h-13.3zM1066.4 803.0h13.3v13.26h-13.3zM1081.6 803.0h13.3v13.26h-13.3zM1096.9 803.0h13.3v13.26h-13.3zM1127.3 803.0h13.3v13.26h-13.3zM1142.5 803.0h13.3v13.26h-13.3zM1157.7 803.0h13.3v13.26h-13.3zM1173.0 803.0h13.3v13.26h-13.3zM1188.2 803.0h13.3v13.26h-13.3zM1203.4 803.0h13.3v13.26h-13.3zM1218.6 803.0h13.3v13.26h-13.3zM1233.8 803.0h13.3v13.26h-13.3zM1249.1 803.0h13.3v13.26h-13.3zM1279.5 803.0h13.3v13.26h-13.3zM1294.7 803.0h13.3v13.26h-13.3zM1309.9 803.0h13.3v13.26h-13.3zM1325.2 803.0h13.3v13.26h-13.3zM1340.4 803.0h13.3v13.26h-13.3zM1355.6 803.0h13.3v13.26h-13.3zM944.7 817.7h13.3v13.26h-13.3zM1036.0 817.7h13.3v13.26h-13.3zM1051.2 817.7h13.3v13.26h-13.3zM1096.9 817.7h13.3v13.26h-13.3zM1112.1 817.7h13.3v13.26h-13.3zM1127.3 817.7h13.3v13.26h-13.3zM1142.5 817.7h13.3v13.26h-13.3zM1157.7 817.7h13.3v13.26h-13.3zM1188.2 817.7h13.3v13.26h-13.3zM1203.4 817.7h13.3v13.26h-13.3zM1233.8 817.7h13.3v13.26h-13.3zM1294.7 817.7h13.3v13.26h-13.3zM1309.9 817.7h13.3v13.26h-13.3zM1325.2 817.7h13.3v13.26h-13.3zM1340.4 817.7h13.3v13.26h-13.3zM1355.6 817.7h13.3v13.26h-13.3zM944.7 832.3h13.3v13.26h-13.3zM959.9 832.3h13.3v13.26h-13.3zM1036.0 832.3h13.3v13.26h-13.3zM1051.2 832.3h13.3v13.26h-13.3zM1066.4 832.3h13.3v13.26h-13.3zM1081.6 832.3h13.3v13.26h-13.3zM1096.9 832.3h13.3v13.26h-13.3zM1127.3 832.3h13.3v13.26h-13.3zM1142.5 832.3h13.3v13.26h-13.3zM1157.7 832.3h13.3v13.26h-13.3zM1173.0 832.3h13.3v13.26h-13.3zM1188.2 832.3h13.3v13.26h-13.3zM1203.4 832.3h13.3v13.26h-13.3zM1294.7 832.3h13.3v13.26h-13.3zM1309.9 832.3h13.3v13.26h-13.3zM1340.4 832.3h13.3v13.26h-13.3zM944.7 847.0h13.3v13.26h-13.3zM1020.8 847.0h13.3v13.26h-13.3zM1036.0 847.0h13.3v13.26h-13.3zM1051.2 847.0h13.3v13.26h-13.3zM1096.9 847.0h13.3v13.26h-13.3zM1127.3 847.0h13.3v13.26h-13.3zM1142.5 847.0h13.3v13.26h-13.3zM1173.0 847.0h13.3v13.26h-13.3zM1188.2 847.0h13.3v13.26h-13.3zM1203.4 847.0h13.3v13.26h-13.3zM1233.8 847.0h13.3v13.26h-13.3zM1279.5 847.0h13.3v13.26h-13.3zM1294.7 847.0h13.3v13.26h-13.3zM1309.9 847.0h13.3v13.26h-13.3zM1325.2 847.0h13.3v13.26h-13.3zM1340.4 847.0h13.3v13.26h-13.3zM1355.6 847.0h13.3v13.26h-13.3zM944.7 861.6h13.3v13.26h-13.3zM1020.8 861.6h13.3v13.26h-13.3zM1036.0 861.6h13.3v13.26h-13.3zM1051.2 861.6h13.3v13.26h-13.3zM1066.4 861.6h13.3v13.26h-13.3zM1096.9 861.6h13.3v13.26h-13.3zM1127.3 861.6h13.3v13.26h-13.3zM1142.5 861.6h13.3v13.26h-13.3zM1157.7 861.6h13.3v13.26h-13.3zM1173.0 861.6h13.3v13.26h-13.3zM1188.2 861.6h13.3v13.26h-13.3zM1203.4 861.6h13.3v13.26h-13.3zM1233.8 861.6h13.3v13.26h-13.3zM1279.5 861.6h13.3v13.26h-13.3zM1294.7 861.6h13.3v13.26h-13.3zM1309.9 861.6h13.3v13.26h-13.3zM1325.2 861.6h13.3v13.26h-13.3zM1340.4 861.6h13.3v13.26h-13.3zM1355.6 861.6h13.3v13.26h-13.3zM944.7 876.3h13.3v13.26h-13.3zM1020.8 876.3h13.3v13.26h-13.3zM1036.0 876.3h13.3v13.26h-13.3zM1051.2 876.3h13.3v13.26h-13.3zM1096.9 876.3h13.3v13.26h-13.3zM1112.1 876.3h13.3v13.26h-13.3zM1142.5 876.3h13.3v13.26h-13.3zM1157.7 876.3h13.3v13.26h-13.3zM1173.0 876.3h13.3v13.26h-13.3zM1188.2 876.3h13.3v13.26h-13.3zM1203.4 876.3h13.3v13.26h-13.3zM1233.8 876.3h13.3v13.26h-13.3zM1279.5 876.3h13.3v13.26h-13.3zM1294.7 876.3h13.3v13.26h-13.3zM1309.9 876.3h13.3v13.26h-13.3zM1325.2 876.3h13.3v13.26h-13.3zM1340.4 876.3h13.3v13.26h-13.3zM1355.6 876.3h13.3v13.26h-13.3zM944.7 891.0h13.3v13.26h-13.3zM1036.0 891.0h13.3v13.26h-13.3zM1066.4 891.0h13.3v13.26h-13.3zM1096.9 891.0h13.3v13.26h-13.3zM1112.1 891.0h13.3v13.26h-13.3zM1127.3 891.0h13.3v13.26h-13.3zM1142.5 891.0h13.3v13.26h-13.3zM1157.7 891.0h13.3v13.26h-13.3zM1173.0 891.0h13.3v13.26h-13.3zM1188.2 891.0h13.3v13.26h-13.3zM1203.4 891.0h13.3v13.26h-13.3zM1218.6 891.0h13.3v13.26h-13.3zM1233.8 891.0h13.3v13.26h-13.3zM1279.5 891.0h13.3v13.26h-13.3zM1294.7 891.0h13.3v13.26h-13.3zM1309.9 891.0h13.3v13.26h-13.3zM1325.2 891.0h13.3v13.26h-13.3zM1340.4 891.0h13.3v13.26h-13.3zM1355.6 891.0h13.3v13.26h-13.3zM1370.8 891.0h13.3v13.26h-13.3zM944.7 905.6h13.3v13.26h-13.3zM1020.8 905.6h13.3v13.26h-13.3zM1036.0 905.6h13.3v13.26h-13.3zM1066.4 905.6h13.3v13.26h-13.3zM1096.9 905.6h13.3v13.26h-13.3zM1127.3 905.6h13.3v13.26h-13.3zM1142.5 905.6h13.3v13.26h-13.3zM1173.0 905.6h13.3v13.26h-13.3zM1188.2 905.6h13.3v13.26h-13.3zM1203.4 905.6h13.3v13.26h-13.3zM1218.6 905.6h13.3v13.26h-13.3zM1233.8 905.6h13.3v13.26h-13.3zM1264.3 905.6h13.3v13.26h-13.3zM1279.5 905.6h13.3v13.26h-13.3zM1294.7 905.6h13.3v13.26h-13.3zM1309.9 905.6h13.3v13.26h-13.3zM1340.4 905.6h13.3v13.26h-13.3zM1355.6 905.6h13.3v13.26h-13.3zM944.7 920.3h13.3v13.26h-13.3zM1036.0 920.3h13.3v13.26h-13.3zM1112.1 920.3h13.3v13.26h-13.3zM1157.7 920.3h13.3v13.26h-13.3zM1188.2 920.3h13.3v13.26h-13.3zM1203.4 920.3h13.3v13.26h-13.3zM1309.9 920.3h13.3v13.26h-13.3zM1355.6 920.3h13.3v13.26h-13.3zM944.7 934.9h13.3v13.26h-13.3zM1036.0 934.9h13.3v13.26h-13.3zM1066.4 934.9h13.3v13.26h-13.3zM1096.9 934.9h13.3v13.26h-13.3zM1112.1 934.9h13.3v13.26h-13.3zM1127.3 934.9h13.3v13.26h-13.3zM1142.5 934.9h13.3v13.26h-13.3zM1157.7 934.9h13.3v13.26h-13.3zM1173.0 934.9h13.3v13.26h-13.3zM1188.2 934.9h13.3v13.26h-13.3zM1203.4 934.9h13.3v13.26h-13.3zM1218.6 934.9h13.3v13.26h-13.3zM1279.5 934.9h13.3v13.26h-13.3zM1294.7 934.9h13.3v13.26h-13.3zM1309.9 934.9h13.3v13.26h-13.3zM1325.2 934.9h13.3v13.26h-13.3zM1340.4 934.9h13.3v13.26h-13.3zM1036.0 949.6h13.3v13.26h-13.3zM1188.2 949.6h13.3v13.26h-13.3zM1203.4 949.6h13.3v13.26h-13.3zM1309.9 949.6h13.3v13.26h-13.3zM1036.0 964.3h13.3v13.26h-13.3zM1188.2 964.3h13.3v13.26h-13.3zM1203.4 964.3h13.3v13.26h-13.3zM1309.9 964.3h13.3v13.26h-13.3zM1036.0 978.9h13.3v13.26h-13.3zM1051.2 978.9h13.3v13.26h-13.3zM1066.4 978.9h13.3v13.26h-13.3zM1096.9 978.9h13.3v13.26h-13.3zM1127.3 978.9h13.3v13.26h-13.3zM1142.5 978.9h13.3v13.26h-13.3zM1157.7 978.9h13.3v13.26h-13.3zM1173.0 978.9h13.3v13.26h-13.3zM1188.2 978.9h13.3v13.26h-13.3zM1203.4 978.9h13.3v13.26h-13.3zM1279.5 978.9h13.3v13.26h-13.3zM1294.7 978.9h13.3v13.26h-13.3zM1309.9 978.9h13.3v13.26h-13.3zM1340.4 978.9h13.3v13.26h-13.3zM944.7 993.6h13.3v13.26h-13.3zM1036.0 993.6h13.3v13.26h-13.3zM1051.2 993.6h13.3v13.26h-13.3zM1066.4 993.6h13.3v13.26h-13.3zM1096.9 993.6h13.3v13.26h-13.3zM1127.3 993.6h13.3v13.26h-13.3zM1142.5 993.6h13.3v13.26h-13.3zM1157.7 993.6h13.3v13.26h-13.3zM1173.0 993.6h13.3v13.26h-13.3zM1188.2 993.6h13.3v13.26h-13.3zM1203.4 993.6h13.3v13.26h-13.3zM1218.6 993.6h13.3v13.26h-13.3zM1233.8 993.6h13.3v13.26h-13.3zM1279.5 993.6h13.3v13.26h-13.3zM1294.7 993.6h13.3v13.26h-13.3zM1309.9 993.6h13.3v13.26h-13.3zM1325.2 993.6h13.3v13.26h-13.3zM1340.4 993.6h13.3v13.26h-13.3zM1355.6 993.6h13.3v13.26h-13.3zM1036.0 1008.2h13.3v13.26h-13.3zM1188.2 1008.2h13.3v13.26h-13.3zM1203.4 1008.2h13.3v13.26h-13.3zM1309.9 1008.2h13.3v13.26h-13.3zM1036.0 1022.9h13.3v13.26h-13.3zM1188.2 1022.9h13.3v13.26h-13.3zM1203.4 1022.9h13.3v13.26h-13.3zM1309.9 1022.9h13.3v13.26h-13.3zM1036.0 1037.6h13.3v13.26h-13.3zM1188.2 1037.6h13.3v13.26h-13.3zM1203.4 1037.6h13.3v13.26h-13.3zM1309.9 1037.6h13.3v13.26h-13.3zM1036.0 1052.2h13.3v13.26h-13.3zM1188.2 1052.2h13.3v13.26h-13.3zM1203.4 1052.2h13.3v13.26h-13.3zM1309.9 1052.2h13.3v13.26h-13.3zM1036.0 1066.9h13.3v13.26h-13.3zM1188.2 1066.9h13.3v13.26h-13.3zM1203.4 1066.9h13.3v13.26h-13.3zM1309.9 1066.9h13.3v13.26h-13.3zM944.7 1081.5h13.3v13.26h-13.3zM1020.8 1081.5h13.3v13.26h-13.3zM1036.0 1081.5h13.3v13.26h-13.3zM1051.2 1081.5h13.3v13.26h-13.3zM1142.5 1081.5h13.3v13.26h-13.3zM1157.7 1081.5h13.3v13.26h-13.3zM1173.0 1081.5h13.3v13.26h-13.3zM1188.2 1081.5h13.3v13.26h-13.3zM1203.4 1081.5h13.3v13.26h-13.3zM1218.6 1081.5h13.3v13.26h-13.3zM1294.7 1081.5h13.3v13.26h-13.3zM1309.9 1081.5h13.3v13.26h-13.3zM1340.4 1081.5h13.3v13.26h-13.3zM1355.6 1081.5h13.3v13.26h-13.3zM929.4 1096.2h13.3v13.26h-13.3zM944.7 1096.2h13.3v13.26h-13.3zM1020.8 1096.2h13.3v13.26h-13.3zM1036.0 1096.2h13.3v13.26h-13.3zM1051.2 1096.2h13.3v13.26h-13.3zM1142.5 1096.2h13.3v13.26h-13.3zM1157.7 1096.2h13.3v13.26h-13.3zM1173.0 1096.2h13.3v13.26h-13.3zM1188.2 1096.2h13.3v13.26h-13.3zM1203.4 1096.2h13.3v13.26h-13.3zM1218.6 1096.2h13.3v13.26h-13.3zM1294.7 1096.2h13.3v13.26h-13.3zM1309.9 1096.2h13.3v13.26h-13.3zM1340.4 1096.2h13.3v13.26h-13.3zM1355.6 1096.2h13.3v13.26h-13.3zM944.7 1110.9h13.3v13.26h-13.3zM1036.0 1110.9h13.3v13.26h-13.3zM1051.2 1110.9h13.3v13.26h-13.3zM1096.9 1110.9h13.3v13.26h-13.3zM1142.5 1110.9h13.3v13.26h-13.3zM1188.2 1110.9h13.3v13.26h-13.3zM1203.4 1110.9h13.3v13.26h-13.3zM1233.8 1110.9h13.3v13.26h-13.3zM1264.3 1110.9h13.3v13.26h-13.3zM1279.5 1110.9h13.3v13.26h-13.3zM1294.7 1110.9h13.3v13.26h-13.3zM1309.9 1110.9h13.3v13.26h-13.3zM1340.4 1110.9h13.3v13.26h-13.3zM1355.6 1110.9h13.3v13.26h-13.3zM1036.0 1125.5h13.3v13.26h-13.3zM1157.7 1125.5h13.3v13.26h-13.3zM1188.2 1125.5h13.3v13.26h-13.3zM1203.4 1125.5h13.3v13.26h-13.3zM1309.9 1125.5h13.3v13.26h-13.3zM1355.6 1125.5h13.3v13.26h-13.3zM1036.0 1140.2h13.3v13.26h-13.3zM1188.2 1140.2h13.3v13.26h-13.3zM1203.4 1140.2h13.3v13.26h-13.3zM1309.9 1140.2h13.3v13.26h-13.3zM959.9 1154.8h13.3v13.26h-13.3zM1036.0 1154.8h13.3v13.26h-13.3zM1051.2 1154.8h13.3v13.26h-13.3zM1096.9 1154.8h13.3v13.26h-13.3zM1127.3 1154.8h13.3v13.26h-13.3zM1142.5 1154.8h13.3v13.26h-13.3zM1157.7 1154.8h13.3v13.26h-13.3zM1188.2 1154.8h13.3v13.26h-13.3zM1203.4 1154.8h13.3v13.26h-13.3zM1218.6 1154.8h13.3v13.26h-13.3zM1279.5 1154.8h13.3v13.26h-13.3zM1294.7 1154.8h13.3v13.26h-13.3zM1309.9 1154.8h13.3v13.26h-13.3zM1325.2 1154.8h13.3v13.26h-13.3zM1340.4 1154.8h13.3v13.26h-13.3zM1355.6 1154.8h13.3v13.26h-13.3zM959.9 1169.5h13.3v13.26h-13.3zM1036.0 1169.5h13.3v13.26h-13.3zM1051.2 1169.5h13.3v13.26h-13.3zM1096.9 1169.5h13.3v13.26h-13.3zM1127.3 1169.5h13.3v13.26h-13.3zM1142.5 1169.5h13.3v13.26h-13.3zM1157.7 1169.5h13.3v13.26h-13.3zM1188.2 1169.5h13.3v13.26h-13.3zM1203.4 1169.5h13.3v13.26h-13.3zM1218.6 1169.5h13.3v13.26h-13.3zM1279.5 1169.5h13.3v13.26h-13.3zM1294.7 1169.5h13.3v13.26h-13.3zM1309.9 1169.5h13.3v13.26h-13.3zM1325.2 1169.5h13.3v13.26h-13.3zM1340.4 1169.5h13.3v13.26h-13.3zM1355.6 1169.5h13.3v13.26h-13.3zM1036.0 1184.2h13.3v13.26h-13.3zM1188.2 1184.2h13.3v13.26h-13.3zM1203.4 1184.2h13.3v13.26h-13.3zM1309.9 1184.2h13.3v13.26h-13.3zM1036.0 1198.8h13.3v13.26h-13.3zM1188.2 1198.8h13.3v13.26h-13.3zM1203.4 1198.8h13.3v13.26h-13.3zM1309.9 1198.8h13.3v13.26h-13.3zM1036.0 1213.5h13.3v13.26h-13.3zM1051.2 1213.5h13.3v13.26h-13.3zM1066.4 1213.5h13.3v13.26h-13.3zM1096.9 1213.5h13.3v13.26h-13.3zM1127.3 1213.5h13.3v13.26h-13.3zM1173.0 1213.5h13.3v13.26h-13.3zM1188.2 1213.5h13.3v13.26h-13.3zM1203.4 1213.5h13.3v13.26h-13.3zM1218.6 1213.5h13.3v13.26h-13.3zM1279.5 1213.5h13.3v13.26h-13.3zM1294.7 1213.5h13.3v13.26h-13.3zM1309.9 1213.5h13.3v13.26h-13.3zM1340.4 1213.5h13.3v13.26h-13.3zM944.7 1228.1h13.3v13.26h-13.3zM1036.0 1228.1h13.3v13.26h-13.3zM1188.2 1228.1h13.3v13.26h-13.3zM1203.4 1228.1h13.3v13.26h-13.3zM1309.9 1228.1h13.3v13.26h-13.3zM1036.0 1242.8h13.3v13.26h-13.3zM1188.2 1242.8h13.3v13.26h-13.3zM1203.4 1242.8h13.3v13.26h-13.3zM1309.9 1242.8h13.3v13.26h-13.3zM914.2 1257.5h13.3v13.26h-13.3zM944.7 1257.5h13.3v13.26h-13.3zM959.9 1257.5h13.3v13.26h-13.3zM1020.8 1257.5h13.3v13.26h-13.3zM1036.0 1257.5h13.3v13.26h-13.3zM1066.4 1257.5h13.3v13.26h-13.3zM1112.1 1257.5h13.3v13.26h-13.3zM1127.3 1257.5h13.3v13.26h-13.3zM1142.5 1257.5h13.3v13.26h-13.3zM1173.0 1257.5h13.3v13.26h-13.3zM1188.2 1257.5h13.3v13.26h-13.3zM1218.6 1257.5h13.3v13.26h-13.3zM1249.1 1257.5h13.3v13.26h-13.3zM1264.3 1257.5h13.3v13.26h-13.3zM1294.7 1257.5h13.3v13.26h-13.3zM1309.9 1257.5h13.3v13.26h-13.3zM1340.4 1257.5h13.3v13.26h-13.3zM1355.6 1257.5h13.3v13.26h-13.3zM944.7 1272.1h13.3v13.26h-13.3zM1020.8 1272.1h13.3v13.26h-13.3zM1036.0 1272.1h13.3v13.26h-13.3zM1066.4 1272.1h13.3v13.26h-13.3zM1096.9 1272.1h13.3v13.26h-13.3zM1112.1 1272.1h13.3v13.26h-13.3zM1127.3 1272.1h13.3v13.26h-13.3zM1142.5 1272.1h13.3v13.26h-13.3zM1157.7 1272.1h13.3v13.26h-13.3zM1173.0 1272.1h13.3v13.26h-13.3zM1188.2 1272.1h13.3v13.26h-13.3zM1203.4 1272.1h13.3v13.26h-13.3zM1233.8 1272.1h13.3v13.26h-13.3zM1249.1 1272.1h13.3v13.26h-13.3zM1264.3 1272.1h13.3v13.26h-13.3zM1279.5 1272.1h13.3v13.26h-13.3zM1294.7 1272.1h13.3v13.26h-13.3zM1309.9 1272.1h13.3v13.26h-13.3zM1325.2 1272.1h13.3v13.26h-13.3zM1340.4 1272.1h13.3v13.26h-13.3zM944.7 1286.8h13.3v13.26h-13.3zM1020.8 1286.8h13.3v13.26h-13.3zM1036.0 1286.8h13.3v13.26h-13.3zM1066.4 1286.8h13.3v13.26h-13.3zM1096.9 1286.8h13.3v13.26h-13.3zM1127.3 1286.8h13.3v13.26h-13.3zM1142.5 1286.8h13.3v13.26h-13.3zM1157.7 1286.8h13.3v13.26h-13.3zM1173.0 1286.8h13.3v13.26h-13.3zM1188.2 1286.8h13.3v13.26h-13.3zM1203.4 1286.8h13.3v13.26h-13.3zM1233.8 1286.8h13.3v13.26h-13.3zM1249.1 1286.8h13.3v13.26h-13.3zM1264.3 1286.8h13.3v13.26h-13.3zM1279.5 1286.8h13.3v13.26h-13.3zM1294.7 1286.8h13.3v13.26h-13.3zM1309.9 1286.8h13.3v13.26h-13.3zM1325.2 1286.8h13.3v13.26h-13.3zM1340.4 1286.8h13.3v13.26h-13.3zM944.7 1301.4h13.3v13.26h-13.3zM1020.8 1301.4h13.3v13.26h-13.3zM1036.0 1301.4h13.3v13.26h-13.3zM1051.2 1301.4h13.3v13.26h-13.3zM1066.4 1301.4h13.3v13.26h-13.3zM1096.9 1301.4h13.3v13.26h-13.3zM1112.1 1301.4h13.3v13.26h-13.3zM1127.3 1301.4h13.3v13.26h-13.3zM1142.5 1301.4h13.3v13.26h-13.3zM1157.7 1301.4h13.3v13.26h-13.3zM1173.0 1301.4h13.3v13.26h-13.3zM1188.2 1301.4h13.3v13.26h-13.3zM1203.4 1301.4h13.3v13.26h-13.3zM1233.8 1301.4h13.3v13.26h-13.3zM1249.1 1301.4h13.3v13.26h-13.3zM1264.3 1301.4h13.3v13.26h-13.3zM1279.5 1301.4h13.3v13.26h-13.3zM1294.7 1301.4h13.3v13.26h-13.3zM1309.9 1301.4h13.3v13.26h-13.3zM1325.2 1301.4h13.3v13.26h-13.3zM1340.4 1301.4h13.3v13.26h-13.3zM944.7 1316.1h13.3v13.26h-13.3zM959.9 1316.1h13.3v13.26h-13.3zM1020.8 1316.1h13.3v13.26h-13.3zM1036.0 1316.1h13.3v13.26h-13.3zM1051.2 1316.1h13.3v13.26h-13.3zM1142.5 1316.1h13.3v13.26h-13.3zM1173.0 1316.1h13.3v13.26h-13.3zM1188.2 1316.1h13.3v13.26h-13.3zM1203.4 1316.1h13.3v13.26h-13.3zM1218.6 1316.1h13.3v13.26h-13.3zM1233.8 1316.1h13.3v13.26h-13.3zM1249.1 1316.1h13.3v13.26h-13.3zM1309.9 1316.1h13.3v13.26h-13.3zM1325.2 1316.1h13.3v13.26h-13.3zM1340.4 1316.1h13.3v13.26h-13.3zM929.4 1330.8h13.3v13.26h-13.3zM944.7 1330.8h13.3v13.26h-13.3zM1020.8 1330.8h13.3v13.26h-13.3zM1036.0 1330.8h13.3v13.26h-13.3zM1066.4 1330.8h13.3v13.26h-13.3zM1142.5 1330.8h13.3v13.26h-13.3zM1157.7 1330.8h13.3v13.26h-13.3zM1173.0 1330.8h13.3v13.26h-13.3zM1188.2 1330.8h13.3v13.26h-13.3zM1203.4 1330.8h13.3v13.26h-13.3zM1233.8 1330.8h13.3v13.26h-13.3zM1249.1 1330.8h13.3v13.26h-13.3zM1279.5 1330.8h13.3v13.26h-13.3zM1309.9 1330.8h13.3v13.26h-13.3zM1340.4 1330.8h13.3v13.26h-13.3zM1355.6 1330.8h13.3v13.26h-13.3zM929.4 1345.4h13.3v13.26h-13.3zM944.7 1345.4h13.3v13.26h-13.3zM1020.8 1345.4h13.3v13.26h-13.3zM1036.0 1345.4h13.3v13.26h-13.3zM1066.4 1345.4h13.3v13.26h-13.3zM1112.1 1345.4h13.3v13.26h-13.3zM1142.5 1345.4h13.3v13.26h-13.3zM1157.7 1345.4h13.3v13.26h-13.3zM1173.0 1345.4h13.3v13.26h-13.3zM1188.2 1345.4h13.3v13.26h-13.3zM1203.4 1345.4h13.3v13.26h-13.3zM1233.8 1345.4h13.3v13.26h-13.3zM1249.1 1345.4h13.3v13.26h-13.3zM1279.5 1345.4h13.3v13.26h-13.3zM1294.7 1345.4h13.3v13.26h-13.3zM1309.9 1345.4h13.3v13.26h-13.3zM1325.2 1345.4h13.3v13.26h-13.3zM1340.4 1345.4h13.3v13.26h-13.3zM1355.6 1345.4h13.3v13.26h-13.3zM929.4 1360.1h13.3v13.26h-13.3zM944.7 1360.1h13.3v13.26h-13.3zM1020.8 1360.1h13.3v13.26h-13.3zM1036.0 1360.1h13.3v13.26h-13.3zM1051.2 1360.1h13.3v13.26h-13.3zM1066.4 1360.1h13.3v13.26h-13.3zM1142.5 1360.1h13.3v13.26h-13.3zM1157.7 1360.1h13.3v13.26h-13.3zM1173.0 1360.1h13.3v13.26h-13.3zM1188.2 1360.1h13.3v13.26h-13.3zM1203.4 1360.1h13.3v13.26h-13.3zM1233.8 1360.1h13.3v13.26h-13.3zM1249.1 1360.1h13.3v13.26h-13.3zM1279.5 1360.1h13.3v13.26h-13.3zM1309.9 1360.1h13.3v13.26h-13.3zM1340.4 1360.1h13.3v13.26h-13.3zM1355.6 1360.1h13.3v13.26h-13.3zM944.7 1374.7h13.3v13.26h-13.3zM959.9 1374.7h13.3v13.26h-13.3zM1036.0 1374.7h13.3v13.26h-13.3zM1051.2 1374.7h13.3v13.26h-13.3zM1112.1 1374.7h13.3v13.26h-13.3zM1142.5 1374.7h13.3v13.26h-13.3zM1157.7 1374.7h13.3v13.26h-13.3zM1188.2 1374.7h13.3v13.26h-13.3zM1203.4 1374.7h13.3v13.26h-13.3zM1218.6 1374.7h13.3v13.26h-13.3zM1233.8 1374.7h13.3v13.26h-13.3zM1294.7 1374.7h13.3v13.26h-13.3zM1309.9 1374.7h13.3v13.26h-13.3zM1340.4 1374.7h13.3v13.26h-13.3zM944.7 1389.4h13.3v13.26h-13.3zM1020.8 1389.4h13.3v13.26h-13.3zM1036.0 1389.4h13.3v13.26h-13.3zM1066.4 1389.4h13.3v13.26h-13.3zM1096.9 1389.4h13.3v13.26h-13.3zM1112.1 1389.4h13.3v13.26h-13.3zM1127.3 1389.4h13.3v13.26h-13.3zM1142.5 1389.4h13.3v13.26h-13.3zM1157.7 1389.4h13.3v13.26h-13.3zM1173.0 1389.4h13.3v13.26h-13.3zM1188.2 1389.4h13.3v13.26h-13.3zM1203.4 1389.4h13.3v13.26h-13.3zM1249.1 1389.4h13.3v13.26h-13.3zM1279.5 1389.4h13.3v13.26h-13.3zM1294.7 1389.4h13.3v13.26h-13.3zM1309.9 1389.4h13.3v13.26h-13.3zM1325.2 1389.4h13.3v13.26h-13.3zM1340.4 1389.4h13.3v13.26h-13.3zM944.7 1404.1h13.3v13.26h-13.3zM1036.0 1404.1h13.3v13.26h-13.3zM1066.4 1404.1h13.3v13.26h-13.3zM1096.9 1404.1h13.3v13.26h-13.3zM1112.1 1404.1h13.3v13.26h-13.3zM1127.3 1404.1h13.3v13.26h-13.3zM1142.5 1404.1h13.3v13.26h-13.3zM1157.7 1404.1h13.3v13.26h-13.3zM1173.0 1404.1h13.3v13.26h-13.3zM1188.2 1404.1h13.3v13.26h-13.3zM1203.4 1404.1h13.3v13.26h-13.3zM1233.8 1404.1h13.3v13.26h-13.3zM1279.5 1404.1h13.3v13.26h-13.3zM1294.7 1404.1h13.3v13.26h-13.3zM1309.9 1404.1h13.3v13.26h-13.3zM1325.2 1404.1h13.3v13.26h-13.3zM1340.4 1404.1h13.3v13.26h-13.3zM1355.6 1404.1h13.3v13.26h-13.3zM1370.8 1404.1h13.3v13.26h-13.3zM899.0 1418.7h13.3v13.26h-13.3zM1036.0 1418.7h13.3v13.26h-13.3zM1051.2 1418.7h13.3v13.26h-13.3zM1096.9 1418.7h13.3v13.26h-13.3zM1142.5 1418.7h13.3v13.26h-13.3zM1188.2 1418.7h13.3v13.26h-13.3zM1203.4 1418.7h13.3v13.26h-13.3zM1264.3 1418.7h13.3v13.26h-13.3zM1294.7 1418.7h13.3v13.26h-13.3zM1309.9 1418.7h13.3v13.26h-13.3zM1340.4 1418.7h13.3v13.26h-13.3zM1355.6 1418.7h13.3v13.26h-13.3zM1370.8 1418.7h13.3v13.26h-13.3zM944.7 1433.4h13.3v13.26h-13.3zM1036.0 1433.4h13.3v13.26h-13.3zM1112.1 1433.4h13.3v13.26h-13.3zM1127.3 1433.4h13.3v13.26h-13.3zM1142.5 1433.4h13.3v13.26h-13.3zM1157.7 1433.4h13.3v13.26h-13.3zM1188.2 1433.4h13.3v13.26h-13.3zM1203.4 1433.4h13.3v13.26h-13.3zM1233.8 1433.4h13.3v13.26h-13.3zM1309.9 1433.4h13.3v13.26h-13.3zM1325.2 1433.4h13.3v13.26h-13.3zM1340.4 1433.4h13.3v13.26h-13.3zM1355.6 1433.4h13.3v13.26h-13.3zM1036.0 1448.0h13.3v13.26h-13.3zM1188.2 1448.0h13.3v13.26h-13.3zM1203.4 1448.0h13.3v13.26h-13.3zM1309.9 1448.0h13.3v13.26h-13.3zM944.7 1462.7h13.3v13.26h-13.3zM1036.0 1462.7h13.3v13.26h-13.3zM1051.2 1462.7h13.3v13.26h-13.3zM1066.4 1462.7h13.3v13.26h-13.3zM1096.9 1462.7h13.3v13.26h-13.3zM1127.3 1462.7h13.3v13.26h-13.3zM1142.5 1462.7h13.3v13.26h-13.3zM1173.0 1462.7h13.3v13.26h-13.3zM1188.2 1462.7h13.3v13.26h-13.3zM1203.4 1462.7h13.3v13.26h-13.3zM1218.6 1462.7h13.3v13.26h-13.3zM1264.3 1462.7h13.3v13.26h-13.3zM1279.5 1462.7h13.3v13.26h-13.3zM1294.7 1462.7h13.3v13.26h-13.3zM1309.9 1462.7h13.3v13.26h-13.3zM1340.4 1462.7h13.3v13.26h-13.3zM944.7 1477.4h13.3v13.26h-13.3zM1036.0 1477.4h13.3v13.26h-13.3zM1051.2 1477.4h13.3v13.26h-13.3zM1066.4 1477.4h13.3v13.26h-13.3zM1096.9 1477.4h13.3v13.26h-13.3zM1127.3 1477.4h13.3v13.26h-13.3zM1142.5 1477.4h13.3v13.26h-13.3zM1173.0 1477.4h13.3v13.26h-13.3zM1188.2 1477.4h13.3v13.26h-13.3zM1203.4 1477.4h13.3v13.26h-13.3zM1218.6 1477.4h13.3v13.26h-13.3zM1264.3 1477.4h13.3v13.26h-13.3zM1279.5 1477.4h13.3v13.26h-13.3zM1294.7 1477.4h13.3v13.26h-13.3zM1309.9 1477.4h13.3v13.26h-13.3zM1325.2 1477.4h13.3v13.26h-13.3zM1340.4 1477.4h13.3v13.26h-13.3zM944.7 1492.0h13.3v13.26h-13.3zM959.9 1492.0h13.3v13.26h-13.3zM1036.0 1492.0h13.3v13.26h-13.3zM1066.4 1492.0h13.3v13.26h-13.3zM1081.6 1492.0h13.3v13.26h-13.3zM1096.9 1492.0h13.3v13.26h-13.3zM1142.5 1492.0h13.3v13.26h-13.3zM1157.7 1492.0h13.3v13.26h-13.3zM1173.0 1492.0h13.3v13.26h-13.3zM1188.2 1492.0h13.3v13.26h-13.3zM1203.4 1492.0h13.3v13.26h-13.3zM1218.6 1492.0h13.3v13.26h-13.3zM1264.3 1492.0h13.3v13.26h-13.3zM1279.5 1492.0h13.3v13.26h-13.3zM1294.7 1492.0h13.3v13.26h-13.3zM1309.9 1492.0h13.3v13.26h-13.3zM1340.4 1492.0h13.3v13.26h-13.3zM959.9 1506.7h13.3v13.26h-13.3zM1036.0 1506.7h13.3v13.26h-13.3zM1051.2 1506.7h13.3v13.26h-13.3zM1081.6 1506.7h13.3v13.26h-13.3zM1096.9 1506.7h13.3v13.26h-13.3zM1127.3 1506.7h13.3v13.26h-13.3zM1142.5 1506.7h13.3v13.26h-13.3zM1188.2 1506.7h13.3v13.26h-13.3zM1203.4 1506.7h13.3v13.26h-13.3zM1218.6 1506.7h13.3v13.26h-13.3zM1279.5 1506.7h13.3v13.26h-13.3zM1294.7 1506.7h13.3v13.26h-13.3zM1309.9 1506.7h13.3v13.26h-13.3zM1325.2 1506.7h13.3v13.26h-13.3zM1340.4 1506.7h13.3v13.26h-13.3zM1355.6 1506.7h13.3v13.26h-13.3zM1036.0 1521.3h13.3v13.26h-13.3zM1066.4 1521.3h13.3v13.26h-13.3zM1096.9 1521.3h13.3v13.26h-13.3zM1142.5 1521.3h13.3v13.26h-13.3zM1173.0 1521.3h13.3v13.26h-13.3zM1188.2 1521.3h13.3v13.26h-13.3zM1203.4 1521.3h13.3v13.26h-13.3zM1279.5 1521.3h13.3v13.26h-13.3zM1294.7 1521.3h13.3v13.26h-13.3zM1309.9 1521.3h13.3v13.26h-13.3zM1340.4 1521.3h13.3v13.26h-13.3zM944.7 1536.0h13.3v13.26h-13.3zM1036.0 1536.0h13.3v13.26h-13.3zM1066.4 1536.0h13.3v13.26h-13.3zM1096.9 1536.0h13.3v13.26h-13.3zM1127.3 1536.0h13.3v13.26h-13.3zM1173.0 1536.0h13.3v13.26h-13.3zM1188.2 1536.0h13.3v13.26h-13.3zM1203.4 1536.0h13.3v13.26h-13.3zM1218.6 1536.0h13.3v13.26h-13.3zM1294.7 1536.0h13.3v13.26h-13.3zM1309.9 1536.0h13.3v13.26h-13.3zM1325.2 1536.0h13.3v13.26h-13.3zM1340.4 1536.0h13.3v13.26h-13.3zM944.7 1550.7h13.3v13.26h-13.3zM959.9 1550.7h13.3v13.26h-13.3zM1036.0 1550.7h13.3v13.26h-13.3zM1051.2 1550.7h13.3v13.26h-13.3zM1066.4 1550.7h13.3v13.26h-13.3zM1081.6 1550.7h13.3v13.26h-13.3zM1096.9 1550.7h13.3v13.26h-13.3zM1127.3 1550.7h13.3v13.26h-13.3zM1142.5 1550.7h13.3v13.26h-13.3zM1173.0 1550.7h13.3v13.26h-13.3zM1188.2 1550.7h13.3v13.26h-13.3zM1203.4 1550.7h13.3v13.26h-13.3zM1218.6 1550.7h13.3v13.26h-13.3zM1264.3 1550.7h13.3v13.26h-13.3zM1279.5 1550.7h13.3v13.26h-13.3zM1294.7 1550.7h13.3v13.26h-13.3zM1309.9 1550.7h13.3v13.26h-13.3zM1340.4 1550.7h13.3v13.26h-13.3zM944.7 1565.3h13.3v13.26h-13.3zM959.9 1565.3h13.3v13.26h-13.3zM1036.0 1565.3h13.3v13.26h-13.3zM1051.2 1565.3h13.3v13.26h-13.3zM1066.4 1565.3h13.3v13.26h-13.3zM1081.6 1565.3h13.3v13.26h-13.3zM1096.9 1565.3h13.3v13.26h-13.3zM1127.3 1565.3h13.3v13.26h-13.3zM1142.5 1565.3h13.3v13.26h-13.3zM1173.0 1565.3h13.3v13.26h-13.3zM1188.2 1565.3h13.3v13.26h-13.3zM1203.4 1565.3h13.3v13.26h-13.3zM1218.6 1565.3h13.3v13.26h-13.3zM1264.3 1565.3h13.3v13.26h-13.3zM1279.5 1565.3h13.3v13.26h-13.3zM1294.7 1565.3h13.3v13.26h-13.3zM1309.9 1565.3h13.3v13.26h-13.3zM1325.2 1565.3h13.3v13.26h-13.3zM1340.4 1565.3h13.3v13.26h-13.3zM944.7 1580.0h13.3v13.26h-13.3zM959.9 1580.0h13.3v13.26h-13.3zM1036.0 1580.0h13.3v13.26h-13.3zM1051.2 1580.0h13.3v13.26h-13.3zM1066.4 1580.0h13.3v13.26h-13.3zM1081.6 1580.0h13.3v13.26h-13.3zM1096.9 1580.0h13.3v13.26h-13.3zM1127.3 1580.0h13.3v13.26h-13.3zM1142.5 1580.0h13.3v13.26h-13.3zM1157.7 1580.0h13.3v13.26h-13.3zM1173.0 1580.0h13.3v13.26h-13.3zM1188.2 1580.0h13.3v13.26h-13.3zM1203.4 1580.0h13.3v13.26h-13.3zM1218.6 1580.0h13.3v13.26h-13.3zM1233.8 1580.0h13.3v13.26h-13.3zM1264.3 1580.0h13.3v13.26h-13.3zM1279.5 1580.0h13.3v13.26h-13.3zM1294.7 1580.0h13.3v13.26h-13.3zM1309.9 1580.0h13.3v13.26h-13.3zM1325.2 1580.0h13.3v13.26h-13.3zM1340.4 1580.0h13.3v13.26h-13.3zM959.9 1594.6h13.3v13.26h-13.3zM1036.0 1594.6h13.3v13.26h-13.3zM1066.4 1594.6h13.3v13.26h-13.3zM1081.6 1594.6h13.3v13.26h-13.3zM1096.9 1594.6h13.3v13.26h-13.3zM1127.3 1594.6h13.3v13.26h-13.3zM1142.5 1594.6h13.3v13.26h-13.3zM1157.7 1594.6h13.3v13.26h-13.3zM1173.0 1594.6h13.3v13.26h-13.3zM1188.2 1594.6h13.3v13.26h-13.3zM1203.4 1594.6h13.3v13.26h-13.3zM1218.6 1594.6h13.3v13.26h-13.3zM1249.1 1594.6h13.3v13.26h-13.3zM1264.3 1594.6h13.3v13.26h-13.3zM1279.5 1594.6h13.3v13.26h-13.3zM1294.7 1594.6h13.3v13.26h-13.3zM1309.9 1594.6h13.3v13.26h-13.3zM1325.2 1594.6h13.3v13.26h-13.3zM1340.4 1594.6h13.3v13.26h-13.3zM1355.6 1594.6h13.3v13.26h-13.3zM944.7 1609.3h13.3v13.26h-13.3zM1036.0 1609.3h13.3v13.26h-13.3zM1096.9 1609.3h13.3v13.26h-13.3zM1157.7 1609.3h13.3v13.26h-13.3zM1188.2 1609.3h13.3v13.26h-13.3zM1203.4 1609.3h13.3v13.26h-13.3zM1233.8 1609.3h13.3v13.26h-13.3zM1294.7 1609.3h13.3v13.26h-13.3zM1309.9 1609.3h13.3v13.26h-13.3zM1340.4 1609.3h13.3v13.26h-13.3zM1355.6 1609.3h13.3v13.26h-13.3zM1020.8 1624.0h13.3v13.26h-13.3zM1036.0 1624.0h13.3v13.26h-13.3zM1066.4 1624.0h13.3v13.26h-13.3zM1081.6 1624.0h13.3v13.26h-13.3zM1096.9 1624.0h13.3v13.26h-13.3zM1173.0 1624.0h13.3v13.26h-13.3zM1188.2 1624.0h13.3v13.26h-13.3zM1203.4 1624.0h13.3v13.26h-13.3zM1249.1 1624.0h13.3v13.26h-13.3zM1264.3 1624.0h13.3v13.26h-13.3zM1309.9 1624.0h13.3v13.26h-13.3zM1340.4 1624.0h13.3v13.26h-13.3zM944.7 1638.6h13.3v13.26h-13.3zM959.9 1638.6h13.3v13.26h-13.3zM1020.8 1638.6h13.3v13.26h-13.3zM1036.0 1638.6h13.3v13.26h-13.3zM1066.4 1638.6h13.3v13.26h-13.3zM1081.6 1638.6h13.3v13.26h-13.3zM1096.9 1638.6h13.3v13.26h-13.3zM1142.5 1638.6h13.3v13.26h-13.3zM1173.0 1638.6h13.3v13.26h-13.3zM1188.2 1638.6h13.3v13.26h-13.3zM1203.4 1638.6h13.3v13.26h-13.3zM1218.6 1638.6h13.3v13.26h-13.3zM1249.1 1638.6h13.3v13.26h-13.3zM1279.5 1638.6h13.3v13.26h-13.3zM1294.7 1638.6h13.3v13.26h-13.3zM1309.9 1638.6h13.3v13.26h-13.3zM1325.2 1638.6h13.3v13.26h-13.3zM1340.4 1638.6h13.3v13.26h-13.3zM944.7 1653.3h13.3v13.26h-13.3zM1036.0 1653.3h13.3v13.26h-13.3zM1051.2 1653.3h13.3v13.26h-13.3zM1066.4 1653.3h13.3v13.26h-13.3zM1096.9 1653.3h13.3v13.26h-13.3zM1127.3 1653.3h13.3v13.26h-13.3zM1142.5 1653.3h13.3v13.26h-13.3zM1157.7 1653.3h13.3v13.26h-13.3zM1173.0 1653.3h13.3v13.26h-13.3zM1188.2 1653.3h13.3v13.26h-13.3zM1203.4 1653.3h13.3v13.26h-13.3zM1218.6 1653.3h13.3v13.26h-13.3zM1294.7 1653.3h13.3v13.26h-13.3zM1309.9 1653.3h13.3v13.26h-13.3zM1325.2 1653.3h13.3v13.26h-13.3zM1340.4 1653.3h13.3v13.26h-13.3zM1355.6 1653.3h13.3v13.26h-13.3zM1370.8 1653.3h13.3v13.26h-13.3zM944.7 1667.9h13.3v13.26h-13.3zM1036.0 1667.9h13.3v13.26h-13.3zM1051.2 1667.9h13.3v13.26h-13.3zM1142.5 1667.9h13.3v13.26h-13.3zM1188.2 1667.9h13.3v13.26h-13.3zM1203.4 1667.9h13.3v13.26h-13.3zM1309.9 1667.9h13.3v13.26h-13.3zM1325.2 1667.9h13.3v13.26h-13.3zM944.7 1682.6h13.3v13.26h-13.3zM975.1 1682.6h13.3v13.26h-13.3zM1036.0 1682.6h13.3v13.26h-13.3zM1051.2 1682.6h13.3v13.26h-13.3zM1096.9 1682.6h13.3v13.26h-13.3zM1112.1 1682.6h13.3v13.26h-13.3zM1142.5 1682.6h13.3v13.26h-13.3zM1157.7 1682.6h13.3v13.26h-13.3zM1233.8 1682.6h13.3v13.26h-13.3zM1249.1 1682.6h13.3v13.26h-13.3zM1294.7 1682.6h13.3v13.26h-13.3zM1309.9 1682.6h13.3v13.26h-13.3zM1340.4 1682.6h13.3v13.26h-13.3zM1355.6 1682.6h13.3v13.26h-13.3zM944.7 1697.3h13.3v13.26h-13.3zM975.1 1697.3h13.3v13.26h-13.3zM1036.0 1697.3h13.3v13.26h-13.3zM1051.2 1697.3h13.3v13.26h-13.3zM1096.9 1697.3h13.3v13.26h-13.3zM1112.1 1697.3h13.3v13.26h-13.3zM1142.5 1697.3h13.3v13.26h-13.3zM1157.7 1697.3h13.3v13.26h-13.3zM1294.7 1697.3h13.3v13.26h-13.3zM1309.9 1697.3h13.3v13.26h-13.3zM1340.4 1697.3h13.3v13.26h-13.3zM1355.6 1697.3h13.3v13.26h-13.3zM944.7 1711.9h13.3v13.26h-13.3zM975.1 1711.9h13.3v13.26h-13.3zM1036.0 1711.9h13.3v13.26h-13.3zM1051.2 1711.9h13.3v13.26h-13.3zM1096.9 1711.9h13.3v13.26h-13.3zM1112.1 1711.9h13.3v13.26h-13.3zM1142.5 1711.9h13.3v13.26h-13.3zM1157.7 1711.9h13.3v13.26h-13.3zM1294.7 1711.9h13.3v13.26h-13.3zM1309.9 1711.9h13.3v13.26h-13.3zM1340.4 1711.9h13.3v13.26h-13.3zM1355.6 1711.9h13.3v13.26h-13.3zM944.7 1726.6h13.3v13.26h-13.3zM975.1 1726.6h13.3v13.26h-13.3zM1036.0 1726.6h13.3v13.26h-13.3zM1051.2 1726.6h13.3v13.26h-13.3zM1096.9 1726.6h13.3v13.26h-13.3zM1112.1 1726.6h13.3v13.26h-13.3zM1142.5 1726.6h13.3v13.26h-13.3zM1157.7 1726.6h13.3v13.26h-13.3zM1233.8 1726.6h13.3v13.26h-13.3zM1249.1 1726.6h13.3v13.26h-13.3zM1294.7 1726.6h13.3v13.26h-13.3zM1309.9 1726.6h13.3v13.26h-13.3zM1340.4 1726.6h13.3v13.26h-13.3zM1355.6 1726.6h13.3v13.26h-13.3zM944.7 1741.2h13.3v13.26h-13.3zM975.1 1741.2h13.3v13.26h-13.3zM1036.0 1741.2h13.3v13.26h-13.3zM1051.2 1741.2h13.3v13.26h-13.3zM1096.9 1741.2h13.3v13.26h-13.3zM1112.1 1741.2h13.3v13.26h-13.3zM1142.5 1741.2h13.3v13.26h-13.3zM1157.7 1741.2h13.3v13.26h-13.3zM1233.8 1741.2h13.3v13.26h-13.3zM1249.1 1741.2h13.3v13.26h-13.3zM1294.7 1741.2h13.3v13.26h-13.3zM1309.9 1741.2h13.3v13.26h-13.3zM1340.4 1741.2h13.3v13.26h-13.3zM1355.6 1741.2h13.3v13.26h-13.3zM944.7 1755.9h13.3v13.26h-13.3zM975.1 1755.9h13.3v13.26h-13.3zM1036.0 1755.9h13.3v13.26h-13.3zM1188.2 1755.9h13.3v13.26h-13.3zM1203.4 1755.9h13.3v13.26h-13.3zM1309.9 1755.9h13.3v13.26h-13.3zM944.7 1770.6h13.3v13.26h-13.3zM975.1 1770.6h13.3v13.26h-13.3zM1036.0 1770.6h13.3v13.26h-13.3zM1188.2 1770.6h13.3v13.26h-13.3zM1203.4 1770.6h13.3v13.26h-13.3zM1309.9 1770.6h13.3v13.26h-13.3zM944.7 1785.2h13.3v13.26h-13.3zM975.1 1785.2h13.3v13.26h-13.3zM1036.0 1785.2h13.3v13.26h-13.3zM1188.2 1785.2h13.3v13.26h-13.3zM1203.4 1785.2h13.3v13.26h-13.3zM1309.9 1785.2h13.3v13.26h-13.3zM944.7 1799.9h13.3v13.26h-13.3zM959.9 1799.9h13.3v13.26h-13.3zM975.1 1799.9h13.3v13.26h-13.3zM1020.8 1799.9h13.3v13.26h-13.3zM1036.0 1799.9h13.3v13.26h-13.3zM1051.2 1799.9h13.3v13.26h-13.3zM1081.6 1799.9h13.3v13.26h-13.3zM1096.9 1799.9h13.3v13.26h-13.3zM1112.1 1799.9h13.3v13.26h-13.3zM1127.3 1799.9h13.3v13.26h-13.3zM1142.5 1799.9h13.3v13.26h-13.3zM1173.0 1799.9h13.3v13.26h-13.3zM1188.2 1799.9h13.3v13.26h-13.3zM1203.4 1799.9h13.3v13.26h-13.3zM1218.6 1799.9h13.3v13.26h-13.3zM1233.8 1799.9h13.3v13.26h-13.3zM1249.1 1799.9h13.3v13.26h-13.3zM1294.7 1799.9h13.3v13.26h-13.3zM1309.9 1799.9h13.3v13.26h-13.3zM1325.2 1799.9h13.3v13.26h-13.3zM1340.4 1799.9h13.3v13.26h-13.3zM1355.6 1799.9h13.3v13.26h-13.3zM975.1 1814.5h13.3v13.26h-13.3zM1051.2 1814.5h13.3v13.26h-13.3zM1096.9 1814.5h13.3v13.26h-13.3zM1112.1 1814.5h13.3v13.26h-13.3zM1309.9 1814.5h13.3v13.26h-13.3zM944.7 1829.2h13.3v13.26h-13.3zM959.9 1829.2h13.3v13.26h-13.3zM975.1 1829.2h13.3v13.26h-13.3zM1020.8 1829.2h13.3v13.26h-13.3zM1036.0 1829.2h13.3v13.26h-13.3zM1051.2 1829.2h13.3v13.26h-13.3zM1081.6 1829.2h13.3v13.26h-13.3zM1096.9 1829.2h13.3v13.26h-13.3zM1112.1 1829.2h13.3v13.26h-13.3zM1142.5 1829.2h13.3v13.26h-13.3zM1173.0 1829.2h13.3v13.26h-13.3zM1188.2 1829.2h13.3v13.26h-13.3zM1203.4 1829.2h13.3v13.26h-13.3zM1218.6 1829.2h13.3v13.26h-13.3zM1249.1 1829.2h13.3v13.26h-13.3zM1294.7 1829.2h13.3v13.26h-13.3zM1309.9 1829.2h13.3v13.26h-13.3zM1325.2 1829.2h13.3v13.26h-13.3zM1355.6 1829.2h13.3v13.26h-13.3zM959.9 1843.9h13.3v13.26h-13.3zM975.1 1843.9h13.3v13.26h-13.3zM1020.8 1843.9h13.3v13.26h-13.3zM1036.0 1843.9h13.3v13.26h-13.3zM1066.4 1843.9h13.3v13.26h-13.3zM1081.6 1843.9h13.3v13.26h-13.3zM1096.9 1843.9h13.3v13.26h-13.3zM1112.1 1843.9h13.3v13.26h-13.3zM1142.5 1843.9h13.3v13.26h-13.3zM1157.7 1843.9h13.3v13.26h-13.3zM1188.2 1843.9h13.3v13.26h-13.3zM1203.4 1843.9h13.3v13.26h-13.3zM1218.6 1843.9h13.3v13.26h-13.3zM1249.1 1843.9h13.3v13.26h-13.3zM1264.3 1843.9h13.3v13.26h-13.3zM1279.5 1843.9h13.3v13.26h-13.3zM1294.7 1843.9h13.3v13.26h-13.3zM1309.9 1843.9h13.3v13.26h-13.3zM1340.4 1843.9h13.3v13.26h-13.3zM1355.6 1843.9h13.3v13.26h-13.3zM959.9 1858.5h13.3v13.26h-13.3zM975.1 1858.5h13.3v13.26h-13.3zM1081.6 1858.5h13.3v13.26h-13.3zM1096.9 1858.5h13.3v13.26h-13.3zM1112.1 1858.5h13.3v13.26h-13.3zM1188.2 1858.5h13.3v13.26h-13.3zM1203.4 1858.5h13.3v13.26h-13.3zM1218.6 1858.5h13.3v13.26h-13.3zM1249.1 1858.5h13.3v13.26h-13.3zM1294.7 1858.5h13.3v13.26h-13.3zM1309.9 1858.5h13.3v13.26h-13.3zM1325.2 1858.5h13.3v13.26h-13.3zM959.9 1873.2h13.3v13.26h-13.3zM975.1 1873.2h13.3v13.26h-13.3zM1020.8 1873.2h13.3v13.26h-13.3zM1036.0 1873.2h13.3v13.26h-13.3zM1066.4 1873.2h13.3v13.26h-13.3zM1081.6 1873.2h13.3v13.26h-13.3zM1096.9 1873.2h13.3v13.26h-13.3zM1112.1 1873.2h13.3v13.26h-13.3zM1142.5 1873.2h13.3v13.26h-13.3zM1157.7 1873.2h13.3v13.26h-13.3zM1188.2 1873.2h13.3v13.26h-13.3zM1203.4 1873.2h13.3v13.26h-13.3zM1218.6 1873.2h13.3v13.26h-13.3zM1249.1 1873.2h13.3v13.26h-13.3zM1264.3 1873.2h13.3v13.26h-13.3zM1279.5 1873.2h13.3v13.26h-13.3zM1294.7 1873.2h13.3v13.26h-13.3zM1309.9 1873.2h13.3v13.26h-13.3zM1340.4 1873.2h13.3v13.26h-13.3zM1355.6 1873.2h13.3v13.26h-13.3zM959.9 1887.8h13.3v13.26h-13.3zM975.1 1887.8h13.3v13.26h-13.3zM1081.6 1887.8h13.3v13.26h-13.3zM1096.9 1887.8h13.3v13.26h-13.3zM1112.1 1887.8h13.3v13.26h-13.3zM1188.2 1887.8h13.3v13.26h-13.3zM1203.4 1887.8h13.3v13.26h-13.3zM1218.6 1887.8h13.3v13.26h-13.3zM1249.1 1887.8h13.3v13.26h-13.3zM1294.7 1887.8h13.3v13.26h-13.3zM1309.9 1887.8h13.3v13.26h-13.3zM1325.2 1887.8h13.3v13.26h-13.3zM944.7 1902.5h13.3v13.26h-13.3zM975.1 1902.5h13.3v13.26h-13.3zM1051.2 1902.5h13.3v13.26h-13.3zM1096.9 1902.5h13.3v13.26h-13.3zM1112.1 1902.5h13.3v13.26h-13.3zM1127.3 1902.5h13.3v13.26h-13.3zM1249.1 1902.5h13.3v13.26h-13.3zM1309.9 1902.5h13.3v13.26h-13.3zM1325.2 1902.5h13.3v13.26h-13.3zM944.7 1917.2h13.3v13.26h-13.3zM975.1 1917.2h13.3v13.26h-13.3zM1051.2 1917.2h13.3v13.26h-13.3zM1096.9 1917.2h13.3v13.26h-13.3zM1112.1 1917.2h13.3v13.26h-13.3zM1127.3 1917.2h13.3v13.26h-13.3zM1249.1 1917.2h13.3v13.26h-13.3zM1309.9 1917.2h13.3v13.26h-13.3zM1325.2 1917.2h13.3v13.26h-13.3zM975.1 1931.8h13.3v13.26h-13.3zM1036.0 1931.8h13.3v13.26h-13.3zM1051.2 1931.8h13.3v13.26h-13.3zM1112.1 1931.8h13.3v13.26h-13.3zM1188.2 1931.8h13.3v13.26h-13.3zM1203.4 1931.8h13.3v13.26h-13.3zM1309.9 1931.8h13.3v13.26h-13.3zM944.7 1946.5h13.3v13.26h-13.3zM975.1 1946.5h13.3v13.26h-13.3zM1036.0 1946.5h13.3v13.26h-13.3zM1051.2 1946.5h13.3v13.26h-13.3zM1112.1 1946.5h13.3v13.26h-13.3zM1188.2 1946.5h13.3v13.26h-13.3zM1203.4 1946.5h13.3v13.26h-13.3zM1309.9 1946.5h13.3v13.26h-13.3zM944.7 1961.1h13.3v13.26h-13.3zM975.1 1961.1h13.3v13.26h-13.3zM1036.0 1961.1h13.3v13.26h-13.3zM1051.2 1961.1h13.3v13.26h-13.3zM1112.1 1961.1h13.3v13.26h-13.3zM1188.2 1961.1h13.3v13.26h-13.3zM1203.4 1961.1h13.3v13.26h-13.3zM1309.9 1961.1h13.3v13.26h-13.3zM944.7 1975.8h13.3v13.26h-13.3zM975.1 1975.8h13.3v13.26h-13.3zM1036.0 1975.8h13.3v13.26h-13.3zM1051.2 1975.8h13.3v13.26h-13.3zM1112.1 1975.8h13.3v13.26h-13.3zM1188.2 1975.8h13.3v13.26h-13.3zM1203.4 1975.8h13.3v13.26h-13.3zM1309.9 1975.8h13.3v13.26h-13.3zM975.1 1990.5h13.3v13.26h-13.3zM1036.0 1990.5h13.3v13.26h-13.3zM1051.2 1990.5h13.3v13.26h-13.3zM1112.1 1990.5h13.3v13.26h-13.3zM1188.2 1990.5h13.3v13.26h-13.3zM1203.4 1990.5h13.3v13.26h-13.3zM1233.8 1990.5h13.3v13.26h-13.3zM1294.7 1990.5h13.3v13.26h-13.3zM1309.9 1990.5h13.3v13.26h-13.3zM1355.6 1990.5h13.3v13.26h-13.3zM975.1 2005.1h13.3v13.26h-13.3zM1036.0 2005.1h13.3v13.26h-13.3zM1051.2 2005.1h13.3v13.26h-13.3zM1112.1 2005.1h13.3v13.26h-13.3zM1188.2 2005.1h13.3v13.26h-13.3zM1203.4 2005.1h13.3v13.26h-13.3zM1233.8 2005.1h13.3v13.26h-13.3zM1294.7 2005.1h13.3v13.26h-13.3zM1309.9 2005.1h13.3v13.26h-13.3zM1355.6 2005.1h13.3v13.26h-13.3zM975.1 2019.8h13.3v13.26h-13.3zM1036.0 2019.8h13.3v13.26h-13.3zM1188.2 2019.8h13.3v13.26h-13.3zM1203.4 2019.8h13.3v13.26h-13.3zM1309.9 2019.8h13.3v13.26h-13.3zM1325.2 2019.8h13.3v13.26h-13.3zM975.1 2034.4h13.3v13.26h-13.3zM1036.0 2034.4h13.3v13.26h-13.3zM1188.2 2034.4h13.3v13.26h-13.3zM1203.4 2034.4h13.3v13.26h-13.3zM1309.9 2034.4h13.3v13.26h-13.3zM1325.2 2034.4h13.3v13.26h-13.3zM944.7 2049.1h13.3v13.26h-13.3zM1051.2 2049.1h13.3v13.26h-13.3zM1096.9 2049.1h13.3v13.26h-13.3zM1112.1 2049.1h13.3v13.26h-13.3zM1188.2 2049.1h13.3v13.26h-13.3zM1203.4 2049.1h13.3v13.26h-13.3zM1309.9 2049.1h13.3v13.26h-13.3zM944.7 2063.8h13.3v13.26h-13.3zM975.1 2063.8h13.3v13.26h-13.3zM1036.0 2063.8h13.3v13.26h-13.3zM1051.2 2063.8h13.3v13.26h-13.3zM1112.1 2063.8h13.3v13.26h-13.3zM1233.8 2063.8h13.3v13.26h-13.3zM1294.7 2063.8h13.3v13.26h-13.3zM1309.9 2063.8h13.3v13.26h-13.3zM1325.2 2063.8h13.3v13.26h-13.3zM1340.4 2063.8h13.3v13.26h-13.3zM1355.6 2063.8h13.3v13.26h-13.3zM944.7 2078.4h13.3v13.26h-13.3zM975.1 2078.4h13.3v13.26h-13.3zM1036.0 2078.4h13.3v13.26h-13.3zM1051.2 2078.4h13.3v13.26h-13.3zM1112.1 2078.4h13.3v13.26h-13.3zM1188.2 2078.4h13.3v13.26h-13.3zM1203.4 2078.4h13.3v13.26h-13.3zM1233.8 2078.4h13.3v13.26h-13.3zM1294.7 2078.4h13.3v13.26h-13.3zM1309.9 2078.4h13.3v13.26h-13.3zM1325.2 2078.4h13.3v13.26h-13.3zM1340.4 2078.4h13.3v13.26h-13.3zM1355.6 2078.4h13.3v13.26h-13.3zM944.7 2093.1h13.3v13.26h-13.3zM975.1 2093.1h13.3v13.26h-13.3zM1036.0 2093.1h13.3v13.26h-13.3zM1051.2 2093.1h13.3v13.26h-13.3zM1096.9 2093.1h13.3v13.26h-13.3zM1112.1 2093.1h13.3v13.26h-13.3zM1233.8 2093.1h13.3v13.26h-13.3zM1294.7 2093.1h13.3v13.26h-13.3zM1309.9 2093.1h13.3v13.26h-13.3zM1325.2 2093.1h13.3v13.26h-13.3zM1355.6 2093.1h13.3v13.26h-13.3zM944.7 2107.7h13.3v13.26h-13.3zM975.1 2107.7h13.3v13.26h-13.3zM1051.2 2107.7h13.3v13.26h-13.3zM1096.9 2107.7h13.3v13.26h-13.3zM1112.1 2107.7h13.3v13.26h-13.3zM1188.2 2107.7h13.3v13.26h-13.3zM1203.4 2107.7h13.3v13.26h-13.3zM1233.8 2107.7h13.3v13.26h-13.3zM1294.7 2107.7h13.3v13.26h-13.3zM1309.9 2107.7h13.3v13.26h-13.3zM1325.2 2107.7h13.3v13.26h-13.3zM1355.6 2107.7h13.3v13.26h-13.3zM944.7 2122.4h13.3v13.26h-13.3zM975.1 2122.4h13.3v13.26h-13.3zM1051.2 2122.4h13.3v13.26h-13.3zM1096.9 2122.4h13.3v13.26h-13.3zM1112.1 2122.4h13.3v13.26h-13.3zM1188.2 2122.4h13.3v13.26h-13.3zM1203.4 2122.4h13.3v13.26h-13.3zM1233.8 2122.4h13.3v13.26h-13.3zM1294.7 2122.4h13.3v13.26h-13.3zM1309.9 2122.4h13.3v13.26h-13.3zM1325.2 2122.4h13.3v13.26h-13.3zM1355.6 2122.4h13.3v13.26h-13.3zM944.7 2137.1h13.3v13.26h-13.3zM975.1 2137.1h13.3v13.26h-13.3zM1036.0 2137.1h13.3v13.26h-13.3zM1127.3 2137.1h13.3v13.26h-13.3zM1142.5 2137.1h13.3v13.26h-13.3zM1188.2 2137.1h13.3v13.26h-13.3zM1203.4 2137.1h13.3v13.26h-13.3zM1233.8 2137.1h13.3v13.26h-13.3zM1249.1 2137.1h13.3v13.26h-13.3zM1294.7 2137.1h13.3v13.26h-13.3zM1309.9 2137.1h13.3v13.26h-13.3zM1325.2 2137.1h13.3v13.26h-13.3zM1340.4 2137.1h13.3v13.26h-13.3zM1355.6 2137.1h13.3v13.26h-13.3zM944.7 2151.7h13.3v13.26h-13.3zM1036.0 2151.7h13.3v13.26h-13.3zM1127.3 2151.7h13.3v13.26h-13.3zM1142.5 2151.7h13.3v13.26h-13.3zM1233.8 2151.7h13.3v13.26h-13.3zM1294.7 2151.7h13.3v13.26h-13.3zM1309.9 2151.7h13.3v13.26h-13.3zM1325.2 2151.7h13.3v13.26h-13.3zM1340.4 2151.7h13.3v13.26h-13.3zM1355.6 2151.7h13.3v13.26h-13.3zM944.7 2166.4h13.3v13.26h-13.3zM975.1 2166.4h13.3v13.26h-13.3zM1036.0 2166.4h13.3v13.26h-13.3zM1127.3 2166.4h13.3v13.26h-13.3zM1142.5 2166.4h13.3v13.26h-13.3zM1188.2 2166.4h13.3v13.26h-13.3zM1203.4 2166.4h13.3v13.26h-13.3zM1233.8 2166.4h13.3v13.26h-13.3zM1294.7 2166.4h13.3v13.26h-13.3zM1309.9 2166.4h13.3v13.26h-13.3zM1325.2 2166.4h13.3v13.26h-13.3zM1340.4 2166.4h13.3v13.26h-13.3zM1355.6 2166.4h13.3v13.26h-13.3zM944.7 2181.0h13.3v13.26h-13.3zM975.1 2181.0h13.3v13.26h-13.3zM1036.0 2181.0h13.3v13.26h-13.3zM1127.3 2181.0h13.3v13.26h-13.3zM1142.5 2181.0h13.3v13.26h-13.3zM1188.2 2181.0h13.3v13.26h-13.3zM1203.4 2181.0h13.3v13.26h-13.3zM1233.8 2181.0h13.3v13.26h-13.3zM1294.7 2181.0h13.3v13.26h-13.3zM1309.9 2181.0h13.3v13.26h-13.3zM1325.2 2181.0h13.3v13.26h-13.3zM1340.4 2181.0h13.3v13.26h-13.3zM1355.6 2181.0h13.3v13.26h-13.3zM944.7 2195.7h13.3v13.26h-13.3zM975.1 2195.7h13.3v13.26h-13.3zM1036.0 2195.7h13.3v13.26h-13.3zM1127.3 2195.7h13.3v13.26h-13.3zM1142.5 2195.7h13.3v13.26h-13.3zM1188.2 2195.7h13.3v13.26h-13.3zM1203.4 2195.7h13.3v13.26h-13.3zM1233.8 2195.7h13.3v13.26h-13.3zM1294.7 2195.7h13.3v13.26h-13.3zM1309.9 2195.7h13.3v13.26h-13.3zM1325.2 2195.7h13.3v13.26h-13.3zM1340.4 2195.7h13.3v13.26h-13.3zM1355.6 2195.7h13.3v13.26h-13.3zM944.7 2210.4h13.3v13.26h-13.3zM975.1 2210.4h13.3v13.26h-13.3zM1036.0 2210.4h13.3v13.26h-13.3zM1051.2 2210.4h13.3v13.26h-13.3zM1096.9 2210.4h13.3v13.26h-13.3zM1112.1 2210.4h13.3v13.26h-13.3zM1127.3 2210.4h13.3v13.26h-13.3zM1233.8 2210.4h13.3v13.26h-13.3zM1294.7 2210.4h13.3v13.26h-13.3zM1309.9 2210.4h13.3v13.26h-13.3zM1355.6 2210.4h13.3v13.26h-13.3zM975.1 2225.0h13.3v13.26h-13.3zM1020.8 2225.0h13.3v13.26h-13.3zM1051.2 2225.0h13.3v13.26h-13.3zM1066.4 2225.0h13.3v13.26h-13.3zM1096.9 2225.0h13.3v13.26h-13.3zM1112.1 2225.0h13.3v13.26h-13.3zM1127.3 2225.0h13.3v13.26h-13.3zM1142.5 2225.0h13.3v13.26h-13.3zM1173.0 2225.0h13.3v13.26h-13.3zM1233.8 2225.0h13.3v13.26h-13.3zM1249.1 2225.0h13.3v13.26h-13.3zM1294.7 2225.0h13.3v13.26h-13.3zM1309.9 2225.0h13.3v13.26h-13.3zM1325.2 2225.0h13.3v13.26h-13.3zM1355.6 2225.0h13.3v13.26h-13.3zM944.7 2239.7h13.3v13.26h-13.3zM975.1 2239.7h13.3v13.26h-13.3zM1051.2 2239.7h13.3v13.26h-13.3zM1112.1 2239.7h13.3v13.26h-13.3zM1127.3 2239.7h13.3v13.26h-13.3zM1142.5 2239.7h13.3v13.26h-13.3zM1233.8 2239.7h13.3v13.26h-13.3zM1294.7 2239.7h13.3v13.26h-13.3zM1309.9 2239.7h13.3v13.26h-13.3zM1325.2 2239.7h13.3v13.26h-13.3zM1340.4 2239.7h13.3v13.26h-13.3zM1355.6 2239.7h13.3v13.26h-13.3zM944.7 2254.3h13.3v13.26h-13.3zM975.1 2254.3h13.3v13.26h-13.3zM1051.2 2254.3h13.3v13.26h-13.3zM1112.1 2254.3h13.3v13.26h-13.3zM1127.3 2254.3h13.3v13.26h-13.3zM1142.5 2254.3h13.3v13.26h-13.3zM1233.8 2254.3h13.3v13.26h-13.3zM1294.7 2254.3h13.3v13.26h-13.3zM1309.9 2254.3h13.3v13.26h-13.3zM1325.2 2254.3h13.3v13.26h-13.3zM1340.4 2254.3h13.3v13.26h-13.3zM1355.6 2254.3h13.3v13.26h-13.3zM944.7 2269.0h13.3v13.26h-13.3zM975.1 2269.0h13.3v13.26h-13.3zM1036.0 2269.0h13.3v13.26h-13.3zM1051.2 2269.0h13.3v13.26h-13.3zM1112.1 2269.0h13.3v13.26h-13.3zM1127.3 2269.0h13.3v13.26h-13.3zM1142.5 2269.0h13.3v13.26h-13.3zM1233.8 2269.0h13.3v13.26h-13.3zM1294.7 2269.0h13.3v13.26h-13.3zM1309.9 2269.0h13.3v13.26h-13.3zM1325.2 2269.0h13.3v13.26h-13.3zM1340.4 2269.0h13.3v13.26h-13.3zM1355.6 2269.0h13.3v13.26h-13.3zM944.7 2283.7h13.3v13.26h-13.3zM975.1 2283.7h13.3v13.26h-13.3zM1036.0 2283.7h13.3v13.26h-13.3zM1051.2 2283.7h13.3v13.26h-13.3zM1112.1 2283.7h13.3v13.26h-13.3zM1127.3 2283.7h13.3v13.26h-13.3zM1142.5 2283.7h13.3v13.26h-13.3zM1233.8 2283.7h13.3v13.26h-13.3zM1294.7 2283.7h13.3v13.26h-13.3zM1309.9 2283.7h13.3v13.26h-13.3zM1325.2 2283.7h13.3v13.26h-13.3zM1340.4 2283.7h13.3v13.26h-13.3zM1355.6 2283.7h13.3v13.26h-13.3zM944.7 2298.3h13.3v13.26h-13.3zM975.1 2298.3h13.3v13.26h-13.3zM1051.2 2298.3h13.3v13.26h-13.3zM1112.1 2298.3h13.3v13.26h-13.3zM1127.3 2298.3h13.3v13.26h-13.3zM1142.5 2298.3h13.3v13.26h-13.3zM1233.8 2298.3h13.3v13.26h-13.3zM1294.7 2298.3h13.3v13.26h-13.3zM1309.9 2298.3h13.3v13.26h-13.3zM1325.2 2298.3h13.3v13.26h-13.3zM1340.4 2298.3h13.3v13.26h-13.3zM1355.6 2298.3h13.3v13.26h-13.3zM944.7 2313.0h13.3v13.26h-13.3zM975.1 2313.0h13.3v13.26h-13.3zM1036.0 2313.0h13.3v13.26h-13.3zM1051.2 2313.0h13.3v13.26h-13.3zM1112.1 2313.0h13.3v13.26h-13.3zM1127.3 2313.0h13.3v13.26h-13.3zM1142.5 2313.0h13.3v13.26h-13.3zM1233.8 2313.0h13.3v13.26h-13.3zM1294.7 2313.0h13.3v13.26h-13.3zM1309.9 2313.0h13.3v13.26h-13.3zM1325.2 2313.0h13.3v13.26h-13.3zM1340.4 2313.0h13.3v13.26h-13.3zM1355.6 2313.0h13.3v13.26h-13.3zM944.7 2327.6h13.3v13.26h-13.3zM975.1 2327.6h13.3v13.26h-13.3zM1036.0 2327.6h13.3v13.26h-13.3zM1051.2 2327.6h13.3v13.26h-13.3zM1112.1 2327.6h13.3v13.26h-13.3zM1127.3 2327.6h13.3v13.26h-13.3zM1142.5 2327.6h13.3v13.26h-13.3zM1233.8 2327.6h13.3v13.26h-13.3zM1294.7 2327.6h13.3v13.26h-13.3zM1309.9 2327.6h13.3v13.26h-13.3zM1325.2 2327.6h13.3v13.26h-13.3zM1340.4 2327.6h13.3v13.26h-13.3zM1355.6 2327.6h13.3v13.26h-13.3zM944.7 2342.3h13.3v13.26h-13.3zM975.1 2342.3h13.3v13.26h-13.3zM1036.0 2342.3h13.3v13.26h-13.3zM1051.2 2342.3h13.3v13.26h-13.3zM1112.1 2342.3h13.3v13.26h-13.3zM1127.3 2342.3h13.3v13.26h-13.3zM1142.5 2342.3h13.3v13.26h-13.3zM1233.8 2342.3h13.3v13.26h-13.3zM1294.7 2342.3h13.3v13.26h-13.3zM1309.9 2342.3h13.3v13.26h-13.3zM1325.2 2342.3h13.3v13.26h-13.3zM1340.4 2342.3h13.3v13.26h-13.3zM1355.6 2342.3h13.3v13.26h-13.3z"/>
<defs><pattern id="po" patternUnits="userSpaceOnUse" x="1393.10" y="143.10" width="15.22" height="14.66"><rect x="0.5" y="0.5" width="12.3" height="13.66" fill="#fff" stroke="#fcd07a" stroke-width="1"/></pattern></defs>
<rect x="1393.10" y="143.10" width="287.26" height="2213.66" fill="url(#po)"/>
<path fill="#fdb316" d="M1499.6 143.3h13.3v13.26h-13.3zM1514.9 143.3h13.3v13.26h-13.3zM1545.3 143.3h13.3v13.26h-13.3zM1636.6 143.3h13.3v13.26h-13.3zM1667.1 143.3h13.3v13.26h-13.3zM1499.6 158.0h13.3v13.26h-13.3zM1514.9 158.0h13.3v13.26h-13.3zM1545.3 158.0h13.3v13.26h-13.3zM1636.6 158.0h13.3v13.26h-13.3zM1667.1 158.0h13.3v13.26h-13.3zM1499.6 172.6h13.3v13.26h-13.3zM1514.9 172.6h13.3v13.26h-13.3zM1545.3 172.6h13.3v13.26h-13.3zM1560.5 172.6h13.3v13.26h-13.3zM1636.6 172.6h13.3v13.26h-13.3zM1667.1 172.6h13.3v13.26h-13.3zM1499.6 187.3h13.3v13.26h-13.3zM1514.9 187.3h13.3v13.26h-13.3zM1545.3 187.3h13.3v13.26h-13.3zM1636.6 187.3h13.3v13.26h-13.3zM1667.1 187.3h13.3v13.26h-13.3zM1484.4 201.9h13.3v13.26h-13.3zM1499.6 201.9h13.3v13.26h-13.3zM1514.9 201.9h13.3v13.26h-13.3zM1545.3 201.9h13.3v13.26h-13.3zM1636.6 201.9h13.3v13.26h-13.3zM1667.1 201.9h13.3v13.26h-13.3zM1499.6 216.6h13.3v13.26h-13.3zM1514.9 216.6h13.3v13.26h-13.3zM1545.3 216.6h13.3v13.26h-13.3zM1636.6 216.6h13.3v13.26h-13.3zM1651.8 216.6h13.3v13.26h-13.3zM1667.1 216.6h13.3v13.26h-13.3zM1499.6 231.3h13.3v13.26h-13.3zM1514.9 231.3h13.3v13.26h-13.3zM1530.1 231.3h13.3v13.26h-13.3zM1545.3 231.3h13.3v13.26h-13.3zM1636.6 231.3h13.3v13.26h-13.3zM1667.1 231.3h13.3v13.26h-13.3zM1499.6 245.9h13.3v13.26h-13.3zM1514.9 245.9h13.3v13.26h-13.3zM1545.3 245.9h13.3v13.26h-13.3zM1636.6 245.9h13.3v13.26h-13.3zM1667.1 245.9h13.3v13.26h-13.3zM1499.6 260.6h13.3v13.26h-13.3zM1514.9 260.6h13.3v13.26h-13.3zM1530.1 260.6h13.3v13.26h-13.3zM1545.3 260.6h13.3v13.26h-13.3zM1636.6 260.6h13.3v13.26h-13.3zM1667.1 260.6h13.3v13.26h-13.3zM1393.1 275.2h13.3v13.26h-13.3zM1499.6 275.2h13.3v13.26h-13.3zM1514.9 275.2h13.3v13.26h-13.3zM1545.3 275.2h13.3v13.26h-13.3zM1575.7 275.2h13.3v13.26h-13.3zM1591.0 275.2h13.3v13.26h-13.3zM1606.2 275.2h13.3v13.26h-13.3zM1636.6 275.2h13.3v13.26h-13.3zM1667.1 275.2h13.3v13.26h-13.3zM1499.6 289.9h13.3v13.26h-13.3zM1514.9 289.9h13.3v13.26h-13.3zM1530.1 289.9h13.3v13.26h-13.3zM1545.3 289.9h13.3v13.26h-13.3zM1636.6 289.9h13.3v13.26h-13.3zM1667.1 289.9h13.3v13.26h-13.3zM1499.6 304.6h13.3v13.26h-13.3zM1514.9 304.6h13.3v13.26h-13.3zM1530.1 304.6h13.3v13.26h-13.3zM1545.3 304.6h13.3v13.26h-13.3zM1636.6 304.6h13.3v13.26h-13.3zM1667.1 304.6h13.3v13.26h-13.3zM1499.6 319.2h13.3v13.26h-13.3zM1514.9 319.2h13.3v13.26h-13.3zM1545.3 319.2h13.3v13.26h-13.3zM1636.6 319.2h13.3v13.26h-13.3zM1667.1 319.2h13.3v13.26h-13.3zM1484.4 333.9h13.3v13.26h-13.3zM1499.6 333.9h13.3v13.26h-13.3zM1514.9 333.9h13.3v13.26h-13.3zM1530.1 333.9h13.3v13.26h-13.3zM1545.3 333.9h13.3v13.26h-13.3zM1560.5 333.9h13.3v13.26h-13.3zM1636.6 333.9h13.3v13.26h-13.3zM1667.1 333.9h13.3v13.26h-13.3zM1499.6 348.5h13.3v13.26h-13.3zM1514.9 348.5h13.3v13.26h-13.3zM1530.1 348.5h13.3v13.26h-13.3zM1545.3 348.5h13.3v13.26h-13.3zM1560.5 348.5h13.3v13.26h-13.3zM1636.6 348.5h13.3v13.26h-13.3zM1667.1 348.5h13.3v13.26h-13.3zM1499.6 363.2h13.3v13.26h-13.3zM1514.9 363.2h13.3v13.26h-13.3zM1530.1 363.2h13.3v13.26h-13.3zM1545.3 363.2h13.3v13.26h-13.3zM1636.6 363.2h13.3v13.26h-13.3zM1667.1 363.2h13.3v13.26h-13.3zM1499.6 377.9h13.3v13.26h-13.3zM1514.9 377.9h13.3v13.26h-13.3zM1530.1 377.9h13.3v13.26h-13.3zM1545.3 377.9h13.3v13.26h-13.3zM1636.6 377.9h13.3v13.26h-13.3zM1667.1 377.9h13.3v13.26h-13.3zM1499.6 392.5h13.3v13.26h-13.3zM1514.9 392.5h13.3v13.26h-13.3zM1530.1 392.5h13.3v13.26h-13.3zM1545.3 392.5h13.3v13.26h-13.3zM1636.6 392.5h13.3v13.26h-13.3zM1667.1 392.5h13.3v13.26h-13.3zM1499.6 407.2h13.3v13.26h-13.3zM1514.9 407.2h13.3v13.26h-13.3zM1530.1 407.2h13.3v13.26h-13.3zM1545.3 407.2h13.3v13.26h-13.3zM1636.6 407.2h13.3v13.26h-13.3zM1667.1 407.2h13.3v13.26h-13.3zM1393.1 421.8h13.3v13.26h-13.3zM1499.6 421.8h13.3v13.26h-13.3zM1514.9 421.8h13.3v13.26h-13.3zM1530.1 421.8h13.3v13.26h-13.3zM1545.3 421.8h13.3v13.26h-13.3zM1560.5 421.8h13.3v13.26h-13.3zM1575.7 421.8h13.3v13.26h-13.3zM1591.0 421.8h13.3v13.26h-13.3zM1606.2 421.8h13.3v13.26h-13.3zM1636.6 421.8h13.3v13.26h-13.3zM1651.8 421.8h13.3v13.26h-13.3zM1667.1 421.8h13.3v13.26h-13.3zM1499.6 436.5h13.3v13.26h-13.3zM1514.9 436.5h13.3v13.26h-13.3zM1530.1 436.5h13.3v13.26h-13.3zM1545.3 436.5h13.3v13.26h-13.3zM1636.6 436.5h13.3v13.26h-13.3zM1667.1 436.5h13.3v13.26h-13.3zM1499.6 451.2h13.3v13.26h-13.3zM1514.9 451.2h13.3v13.26h-13.3zM1530.1 451.2h13.3v13.26h-13.3zM1545.3 451.2h13.3v13.26h-13.3zM1636.6 451.2h13.3v13.26h-13.3zM1667.1 451.2h13.3v13.26h-13.3zM1499.6 465.8h13.3v13.26h-13.3zM1514.9 465.8h13.3v13.26h-13.3zM1530.1 465.8h13.3v13.26h-13.3zM1545.3 465.8h13.3v13.26h-13.3zM1636.6 465.8h13.3v13.26h-13.3zM1667.1 465.8h13.3v13.26h-13.3zM1499.6 480.5h13.3v13.26h-13.3zM1514.9 480.5h13.3v13.26h-13.3zM1530.1 480.5h13.3v13.26h-13.3zM1545.3 480.5h13.3v13.26h-13.3zM1636.6 480.5h13.3v13.26h-13.3zM1667.1 480.5h13.3v13.26h-13.3zM1499.6 495.1h13.3v13.26h-13.3zM1514.9 495.1h13.3v13.26h-13.3zM1530.1 495.1h13.3v13.26h-13.3zM1545.3 495.1h13.3v13.26h-13.3zM1636.6 495.1h13.3v13.26h-13.3zM1667.1 495.1h13.3v13.26h-13.3zM1499.6 509.8h13.3v13.26h-13.3zM1514.9 509.8h13.3v13.26h-13.3zM1530.1 509.8h13.3v13.26h-13.3zM1545.3 509.8h13.3v13.26h-13.3zM1636.6 509.8h13.3v13.26h-13.3zM1667.1 509.8h13.3v13.26h-13.3zM1499.6 524.5h13.3v13.26h-13.3zM1514.9 524.5h13.3v13.26h-13.3zM1530.1 524.5h13.3v13.26h-13.3zM1545.3 524.5h13.3v13.26h-13.3zM1636.6 524.5h13.3v13.26h-13.3zM1667.1 524.5h13.3v13.26h-13.3zM1393.1 539.1h13.3v13.26h-13.3zM1408.3 539.1h13.3v13.26h-13.3zM1423.5 539.1h13.3v13.26h-13.3zM1438.8 539.1h13.3v13.26h-13.3zM1454.0 539.1h13.3v13.26h-13.3zM1469.2 539.1h13.3v13.26h-13.3zM1499.6 539.1h13.3v13.26h-13.3zM1514.9 539.1h13.3v13.26h-13.3zM1530.1 539.1h13.3v13.26h-13.3zM1545.3 539.1h13.3v13.26h-13.3zM1575.7 539.1h13.3v13.26h-13.3zM1591.0 539.1h13.3v13.26h-13.3zM1606.2 539.1h13.3v13.26h-13.3zM1621.4 539.1h13.3v13.26h-13.3zM1636.6 539.1h13.3v13.26h-13.3zM1667.1 539.1h13.3v13.26h-13.3zM1393.1 553.8h13.3v13.26h-13.3zM1408.3 553.8h13.3v13.26h-13.3zM1423.5 553.8h13.3v13.26h-13.3zM1438.8 553.8h13.3v13.26h-13.3zM1454.0 553.8h13.3v13.26h-13.3zM1469.2 553.8h13.3v13.26h-13.3zM1499.6 553.8h13.3v13.26h-13.3zM1514.9 553.8h13.3v13.26h-13.3zM1530.1 553.8h13.3v13.26h-13.3zM1545.3 553.8h13.3v13.26h-13.3zM1575.7 553.8h13.3v13.26h-13.3zM1591.0 553.8h13.3v13.26h-13.3zM1606.2 553.8h13.3v13.26h-13.3zM1621.4 553.8h13.3v13.26h-13.3zM1636.6 553.8h13.3v13.26h-13.3zM1667.1 553.8h13.3v13.26h-13.3zM1393.1 568.4h13.3v13.26h-13.3zM1408.3 568.4h13.3v13.26h-13.3zM1423.5 568.4h13.3v13.26h-13.3zM1438.8 568.4h13.3v13.26h-13.3zM1454.0 568.4h13.3v13.26h-13.3zM1469.2 568.4h13.3v13.26h-13.3zM1499.6 568.4h13.3v13.26h-13.3zM1514.9 568.4h13.3v13.26h-13.3zM1530.1 568.4h13.3v13.26h-13.3zM1545.3 568.4h13.3v13.26h-13.3zM1575.7 568.4h13.3v13.26h-13.3zM1591.0 568.4h13.3v13.26h-13.3zM1606.2 568.4h13.3v13.26h-13.3zM1621.4 568.4h13.3v13.26h-13.3zM1636.6 568.4h13.3v13.26h-13.3zM1667.1 568.4h13.3v13.26h-13.3zM1393.1 583.1h13.3v13.26h-13.3zM1408.3 583.1h13.3v13.26h-13.3zM1423.5 583.1h13.3v13.26h-13.3zM1438.8 583.1h13.3v13.26h-13.3zM1454.0 583.1h13.3v13.26h-13.3zM1469.2 583.1h13.3v13.26h-13.3zM1499.6 583.1h13.3v13.26h-13.3zM1514.9 583.1h13.3v13.26h-13.3zM1530.1 583.1h13.3v13.26h-13.3zM1545.3 583.1h13.3v13.26h-13.3zM1575.7 583.1h13.3v13.26h-13.3zM1591.0 583.1h13.3v13.26h-13.3zM1606.2 583.1h13.3v13.26h-13.3zM1621.4 583.1h13.3v13.26h-13.3zM1636.6 583.1h13.3v13.26h-13.3zM1667.1 583.1h13.3v13.26h-13.3zM1393.1 597.8h13.3v13.26h-13.3zM1408.3 597.8h13.3v13.26h-13.3zM1423.5 597.8h13.3v13.26h-13.3zM1438.8 597.8h13.3v13.26h-13.3zM1454.0 597.8h13.3v13.26h-13.3zM1469.2 597.8h13.3v13.26h-13.3zM1499.6 597.8h13.3v13.26h-13.3zM1514.9 597.8h13.3v13.26h-13.3zM1530.1 597.8h13.3v13.26h-13.3zM1545.3 597.8h13.3v13.26h-13.3zM1575.7 597.8h13.3v13.26h-13.3zM1591.0 597.8h13.3v13.26h-13.3zM1606.2 597.8h13.3v13.26h-13.3zM1621.4 597.8h13.3v13.26h-13.3zM1636.6 597.8h13.3v13.26h-13.3zM1667.1 597.8h13.3v13.26h-13.3zM1499.6 612.4h13.3v13.26h-13.3zM1514.9 612.4h13.3v13.26h-13.3zM1530.1 612.4h13.3v13.26h-13.3zM1545.3 612.4h13.3v13.26h-13.3zM1636.6 612.4h13.3v13.26h-13.3zM1667.1 612.4h13.3v13.26h-13.3zM1393.1 627.1h13.3v13.26h-13.3zM1499.6 627.1h13.3v13.26h-13.3zM1514.9 627.1h13.3v13.26h-13.3zM1530.1 627.1h13.3v13.26h-13.3zM1545.3 627.1h13.3v13.26h-13.3zM1575.7 627.1h13.3v13.26h-13.3zM1591.0 627.1h13.3v13.26h-13.3zM1606.2 627.1h13.3v13.26h-13.3zM1636.6 627.1h13.3v13.26h-13.3zM1667.1 627.1h13.3v13.26h-13.3zM1499.6 641.7h13.3v13.26h-13.3zM1514.9 641.7h13.3v13.26h-13.3zM1530.1 641.7h13.3v13.26h-13.3zM1545.3 641.7h13.3v13.26h-13.3zM1636.6 641.7h13.3v13.26h-13.3zM1667.1 641.7h13.3v13.26h-13.3zM1499.6 656.4h13.3v13.26h-13.3zM1514.9 656.4h13.3v13.26h-13.3zM1545.3 656.4h13.3v13.26h-13.3zM1560.5 656.4h13.3v13.26h-13.3zM1636.6 656.4h13.3v13.26h-13.3zM1667.1 656.4h13.3v13.26h-13.3zM1393.1 671.1h13.3v13.26h-13.3zM1438.8 671.1h13.3v13.26h-13.3zM1499.6 671.1h13.3v13.26h-13.3zM1514.9 671.1h13.3v13.26h-13.3zM1530.1 671.1h13.3v13.26h-13.3zM1545.3 671.1h13.3v13.26h-13.3zM1575.7 671.1h13.3v13.26h-13.3zM1591.0 671.1h13.3v13.26h-13.3zM1606.2 671.1h13.3v13.26h-13.3zM1621.4 671.1h13.3v13.26h-13.3zM1636.6 671.1h13.3v13.26h-13.3zM1667.1 671.1h13.3v13.26h-13.3zM1484.4 685.7h13.3v13.26h-13.3zM1499.6 685.7h13.3v13.26h-13.3zM1514.9 685.7h13.3v13.26h-13.3zM1530.1 685.7h13.3v13.26h-13.3zM1545.3 685.7h13.3v13.26h-13.3zM1636.6 685.7h13.3v13.26h-13.3zM1667.1 685.7h13.3v13.26h-13.3zM1499.6 700.4h13.3v13.26h-13.3zM1514.9 700.4h13.3v13.26h-13.3zM1545.3 700.4h13.3v13.26h-13.3zM1560.5 700.4h13.3v13.26h-13.3zM1636.6 700.4h13.3v13.26h-13.3zM1667.1 700.4h13.3v13.26h-13.3zM1484.4 715.0h13.3v13.26h-13.3zM1499.6 715.0h13.3v13.26h-13.3zM1514.9 715.0h13.3v13.26h-13.3zM1545.3 715.0h13.3v13.26h-13.3zM1636.6 715.0h13.3v13.26h-13.3zM1667.1 715.0h13.3v13.26h-13.3zM1499.6 729.7h13.3v13.26h-13.3zM1514.9 729.7h13.3v13.26h-13.3zM1545.3 729.7h13.3v13.26h-13.3zM1636.6 729.7h13.3v13.26h-13.3zM1667.1 729.7h13.3v13.26h-13.3zM1499.6 744.4h13.3v13.26h-13.3zM1514.9 744.4h13.3v13.26h-13.3zM1530.1 744.4h13.3v13.26h-13.3zM1545.3 744.4h13.3v13.26h-13.3zM1636.6 744.4h13.3v13.26h-13.3zM1667.1 744.4h13.3v13.26h-13.3zM1499.6 759.0h13.3v13.26h-13.3zM1514.9 759.0h13.3v13.26h-13.3zM1530.1 759.0h13.3v13.26h-13.3zM1545.3 759.0h13.3v13.26h-13.3zM1636.6 759.0h13.3v13.26h-13.3zM1667.1 759.0h13.3v13.26h-13.3zM1499.6 773.7h13.3v13.26h-13.3zM1514.9 773.7h13.3v13.26h-13.3zM1530.1 773.7h13.3v13.26h-13.3zM1545.3 773.7h13.3v13.26h-13.3zM1636.6 773.7h13.3v13.26h-13.3zM1667.1 773.7h13.3v13.26h-13.3zM1499.6 788.3h13.3v13.26h-13.3zM1514.9 788.3h13.3v13.26h-13.3zM1545.3 788.3h13.3v13.26h-13.3zM1560.5 788.3h13.3v13.26h-13.3zM1636.6 788.3h13.3v13.26h-13.3zM1667.1 788.3h13.3v13.26h-13.3zM1484.4 803.0h13.3v13.26h-13.3zM1499.6 803.0h13.3v13.26h-13.3zM1514.9 803.0h13.3v13.26h-13.3zM1530.1 803.0h13.3v13.26h-13.3zM1545.3 803.0h13.3v13.26h-13.3zM1560.5 803.0h13.3v13.26h-13.3zM1636.6 803.0h13.3v13.26h-13.3zM1667.1 803.0h13.3v13.26h-13.3zM1393.1 817.7h13.3v13.26h-13.3zM1499.6 817.7h13.3v13.26h-13.3zM1514.9 817.7h13.3v13.26h-13.3zM1530.1 817.7h13.3v13.26h-13.3zM1545.3 817.7h13.3v13.26h-13.3zM1560.5 817.7h13.3v13.26h-13.3zM1575.7 817.7h13.3v13.26h-13.3zM1591.0 817.7h13.3v13.26h-13.3zM1606.2 817.7h13.3v13.26h-13.3zM1636.6 817.7h13.3v13.26h-13.3zM1667.1 817.7h13.3v13.26h-13.3zM1499.6 832.3h13.3v13.26h-13.3zM1514.9 832.3h13.3v13.26h-13.3zM1530.1 832.3h13.3v13.26h-13.3zM1545.3 832.3h13.3v13.26h-13.3zM1560.5 832.3h13.3v13.26h-13.3zM1636.6 832.3h13.3v13.26h-13.3zM1667.1 832.3h13.3v13.26h-13.3zM1499.6 847.0h13.3v13.26h-13.3zM1514.9 847.0h13.3v13.26h-13.3zM1530.1 847.0h13.3v13.26h-13.3zM1545.3 847.0h13.3v13.26h-13.3zM1636.6 847.0h13.3v13.26h-13.3zM1667.1 847.0h13.3v13.26h-13.3zM1484.4 861.6h13.3v13.26h-13.3zM1499.6 861.6h13.3v13.26h-13.3zM1514.9 861.6h13.3v13.26h-13.3zM1530.1 861.6h13.3v13.26h-13.3zM1545.3 861.6h13.3v13.26h-13.3zM1636.6 861.6h13.3v13.26h-13.3zM1667.1 861.6h13.3v13.26h-13.3zM1484.4 876.3h13.3v13.26h-13.3zM1499.6 876.3h13.3v13.26h-13.3zM1514.9 876.3h13.3v13.26h-13.3zM1530.1 876.3h13.3v13.26h-13.3zM1545.3 876.3h13.3v13.26h-13.3zM1636.6 876.3h13.3v13.26h-13.3zM1667.1 876.3h13.3v13.26h-13.3zM1484.4 891.0h13.3v13.26h-13.3zM1499.6 891.0h13.3v13.26h-13.3zM1514.9 891.0h13.3v13.26h-13.3zM1530.1 891.0h13.3v13.26h-13.3zM1545.3 891.0h13.3v13.26h-13.3zM1636.6 891.0h13.3v13.26h-13.3zM1667.1 891.0h13.3v13.26h-13.3zM1499.6 905.6h13.3v13.26h-13.3zM1514.9 905.6h13.3v13.26h-13.3zM1530.1 905.6h13.3v13.26h-13.3zM1545.3 905.6h13.3v13.26h-13.3zM1636.6 905.6h13.3v13.26h-13.3zM1667.1 905.6h13.3v13.26h-13.3zM1499.6 920.3h13.3v13.26h-13.3zM1514.9 920.3h13.3v13.26h-13.3zM1530.1 920.3h13.3v13.26h-13.3zM1545.3 920.3h13.3v13.26h-13.3zM1636.6 920.3h13.3v13.26h-13.3zM1667.1 920.3h13.3v13.26h-13.3zM1499.6 934.9h13.3v13.26h-13.3zM1514.9 934.9h13.3v13.26h-13.3zM1530.1 934.9h13.3v13.26h-13.3zM1545.3 934.9h13.3v13.26h-13.3zM1636.6 934.9h13.3v13.26h-13.3zM1667.1 934.9h13.3v13.26h-13.3zM1499.6 949.6h13.3v13.26h-13.3zM1514.9 949.6h13.3v13.26h-13.3zM1530.1 949.6h13.3v13.26h-13.3zM1545.3 949.6h13.3v13.26h-13.3zM1636.6 949.6h13.3v13.26h-13.3zM1667.1 949.6h13.3v13.26h-13.3zM1393.1 964.3h13.3v13.26h-13.3zM1423.5 964.3h13.3v13.26h-13.3zM1454.0 964.3h13.3v13.26h-13.3zM1499.6 964.3h13.3v13.26h-13.3zM1514.9 964.3h13.3v13.26h-13.3zM1530.1 964.3h13.3v13.26h-13.3zM1545.3 964.3h13.3v13.26h-13.3zM1575.7 964.3h13.3v13.26h-13.3zM1591.0 964.3h13.3v13.26h-13.3zM1606.2 964.3h13.3v13.26h-13.3zM1636.6 964.3h13.3v13.26h-13.3zM1667.1 964.3h13.3v13.26h-13.3zM1499.6 978.9h13.3v13.26h-13.3zM1514.9 978.9h13.3v13.26h-13.3zM1530.1 978.9h13.3v13.26h-13.3zM1545.3 978.9h13.3v13.26h-13.3zM1636.6 978.9h13.3v13.26h-13.3zM1667.1 978.9h13.3v13.26h-13.3zM1499.6 993.6h13.3v13.26h-13.3zM1514.9 993.6h13.3v13.26h-13.3zM1530.1 993.6h13.3v13.26h-13.3zM1545.3 993.6h13.3v13.26h-13.3zM1636.6 993.6h13.3v13.26h-13.3zM1667.1 993.6h13.3v13.26h-13.3zM1499.6 1008.2h13.3v13.26h-13.3zM1514.9 1008.2h13.3v13.26h-13.3zM1530.1 1008.2h13.3v13.26h-13.3zM1545.3 1008.2h13.3v13.26h-13.3zM1636.6 1008.2h13.3v13.26h-13.3zM1667.1 1008.2h13.3v13.26h-13.3zM1499.6 1022.9h13.3v13.26h-13.3zM1514.9 1022.9h13.3v13.26h-13.3zM1545.3 1022.9h13.3v13.26h-13.3zM1636.6 1022.9h13.3v13.26h-13.3zM1667.1 1022.9h13.3v13.26h-13.3zM1393.1 1037.6h13.3v13.26h-13.3zM1499.6 1037.6h13.3v13.26h-13.3zM1514.9 1037.6h13.3v13.26h-13.3zM1530.1 1037.6h13.3v13.26h-13.3zM1545.3 1037.6h13.3v13.26h-13.3zM1560.5 1037.6h13.3v13.26h-13.3zM1575.7 1037.6h13.3v13.26h-13.3zM1591.0 1037.6h13.3v13.26h-13.3zM1606.2 1037.6h13.3v13.26h-13.3zM1636.6 1037.6h13.3v13.26h-13.3zM1667.1 1037.6h13.3v13.26h-13.3zM1393.1 1052.2h13.3v13.26h-13.3zM1408.3 1052.2h13.3v13.26h-13.3zM1423.5 1052.2h13.3v13.26h-13.3zM1438.8 1052.2h13.3v13.26h-13.3zM1454.0 1052.2h13.3v13.26h-13.3zM1469.2 1052.2h13.3v13.26h-13.3zM1499.6 1052.2h13.3v13.26h-13.3zM1514.9 1052.2h13.3v13.26h-13.3zM1530.1 1052.2h13.3v13.26h-13.3zM1545.3 1052.2h13.3v13.26h-13.3zM1575.7 1052.2h13.3v13.26h-13.3zM1591.0 1052.2h13.3v13.26h-13.3zM1606.2 1052.2h13.3v13.26h-13.3zM1621.4 1052.2h13.3v13.26h-13.3zM1636.6 1052.2h13.3v13.26h-13.3zM1667.1 1052.2h13.3v13.26h-13.3zM1499.6 1066.9h13.3v13.26h-13.3zM1514.9 1066.9h13.3v13.26h-13.3zM1530.1 1066.9h13.3v13.26h-13.3zM1545.3 1066.9h13.3v13.26h-13.3zM1636.6 1066.9h13.3v13.26h-13.3zM1667.1 1066.9h13.3v13.26h-13.3zM1499.6 1081.5h13.3v13.26h-13.3zM1514.9 1081.5h13.3v13.26h-13.3zM1530.1 1081.5h13.3v13.26h-13.3zM1545.3 1081.5h13.3v13.26h-13.3zM1636.6 1081.5h13.3v13.26h-13.3zM1667.1 1081.5h13.3v13.26h-13.3zM1499.6 1096.2h13.3v13.26h-13.3zM1514.9 1096.2h13.3v13.26h-13.3zM1530.1 1096.2h13.3v13.26h-13.3zM1545.3 1096.2h13.3v13.26h-13.3zM1636.6 1096.2h13.3v13.26h-13.3zM1667.1 1096.2h13.3v13.26h-13.3zM1499.6 1110.9h13.3v13.26h-13.3zM1514.9 1110.9h13.3v13.26h-13.3zM1530.1 1110.9h13.3v13.26h-13.3zM1545.3 1110.9h13.3v13.26h-13.3zM1560.5 1110.9h13.3v13.26h-13.3zM1636.6 1110.9h13.3v13.26h-13.3zM1667.1 1110.9h13.3v13.26h-13.3zM1499.6 1125.5h13.3v13.26h-13.3zM1514.9 1125.5h13.3v13.26h-13.3zM1530.1 1125.5h13.3v13.26h-13.3zM1545.3 1125.5h13.3v13.26h-13.3zM1636.6 1125.5h13.3v13.26h-13.3zM1667.1 1125.5h13.3v13.26h-13.3zM1499.6 1140.2h13.3v13.26h-13.3zM1514.9 1140.2h13.3v13.26h-13.3zM1530.1 1140.2h13.3v13.26h-13.3zM1545.3 1140.2h13.3v13.26h-13.3zM1636.6 1140.2h13.3v13.26h-13.3zM1667.1 1140.2h13.3v13.26h-13.3zM1499.6 1154.8h13.3v13.26h-13.3zM1514.9 1154.8h13.3v13.26h-13.3zM1545.3 1154.8h13.3v13.26h-13.3zM1636.6 1154.8h13.3v13.26h-13.3zM1667.1 1154.8h13.3v13.26h-13.3zM1499.6 1169.5h13.3v13.26h-13.3zM1514.9 1169.5h13.3v13.26h-13.3zM1545.3 1169.5h13.3v13.26h-13.3zM1636.6 1169.5h13.3v13.26h-13.3zM1667.1 1169.5h13.3v13.26h-13.3zM1499.6 1184.2h13.3v13.26h-13.3zM1514.9 1184.2h13.3v13.26h-13.3zM1530.1 1184.2h13.3v13.26h-13.3zM1545.3 1184.2h13.3v13.26h-13.3zM1636.6 1184.2h13.3v13.26h-13.3zM1667.1 1184.2h13.3v13.26h-13.3zM1499.6 1198.8h13.3v13.26h-13.3zM1514.9 1198.8h13.3v13.26h-13.3zM1530.1 1198.8h13.3v13.26h-13.3zM1545.3 1198.8h13.3v13.26h-13.3zM1636.6 1198.8h13.3v13.26h-13.3zM1667.1 1198.8h13.3v13.26h-13.3zM1499.6 1213.5h13.3v13.26h-13.3zM1514.9 1213.5h13.3v13.26h-13.3zM1530.1 1213.5h13.3v13.26h-13.3zM1545.3 1213.5h13.3v13.26h-13.3zM1560.5 1213.5h13.3v13.26h-13.3zM1636.6 1213.5h13.3v13.26h-13.3zM1667.1 1213.5h13.3v13.26h-13.3zM1499.6 1228.1h13.3v13.26h-13.3zM1514.9 1228.1h13.3v13.26h-13.3zM1530.1 1228.1h13.3v13.26h-13.3zM1545.3 1228.1h13.3v13.26h-13.3zM1560.5 1228.1h13.3v13.26h-13.3zM1636.6 1228.1h13.3v13.26h-13.3zM1667.1 1228.1h13.3v13.26h-13.3zM1499.6 1242.8h13.3v13.26h-13.3zM1514.9 1242.8h13.3v13.26h-13.3zM1530.1 1242.8h13.3v13.26h-13.3zM1545.3 1242.8h13.3v13.26h-13.3zM1560.5 1242.8h13.3v13.26h-13.3zM1636.6 1242.8h13.3v13.26h-13.3zM1667.1 1242.8h13.3v13.26h-13.3zM1499.6 1257.5h13.3v13.26h-13.3zM1514.9 1257.5h13.3v13.26h-13.3zM1530.1 1257.5h13.3v13.26h-13.3zM1545.3 1257.5h13.3v13.26h-13.3zM1636.6 1257.5h13.3v13.26h-13.3zM1667.1 1257.5h13.3v13.26h-13.3zM1438.8 1272.1h13.3v13.26h-13.3zM1499.6 1272.1h13.3v13.26h-13.3zM1514.9 1272.1h13.3v13.26h-13.3zM1530.1 1272.1h13.3v13.26h-13.3zM1545.3 1272.1h13.3v13.26h-13.3zM1621.4 1272.1h13.3v13.26h-13.3zM1636.6 1272.1h13.3v13.26h-13.3zM1667.1 1272.1h13.3v13.26h-13.3zM1438.8 1286.8h13.3v13.26h-13.3zM1499.6 1286.8h13.3v13.26h-13.3zM1514.9 1286.8h13.3v13.26h-13.3zM1530.1 1286.8h13.3v13.26h-13.3zM1545.3 1286.8h13.3v13.26h-13.3zM1621.4 1286.8h13.3v13.26h-13.3zM1636.6 1286.8h13.3v13.26h-13.3zM1667.1 1286.8h13.3v13.26h-13.3zM1438.8 1301.4h13.3v13.26h-13.3zM1499.6 1301.4h13.3v13.26h-13.3zM1514.9 1301.4h13.3v13.26h-13.3zM1530.1 1301.4h13.3v13.26h-13.3zM1545.3 1301.4h13.3v13.26h-13.3zM1621.4 1301.4h13.3v13.26h-13.3zM1636.6 1301.4h13.3v13.26h-13.3zM1667.1 1301.4h13.3v13.26h-13.3zM1393.1 1316.1h13.3v13.26h-13.3zM1499.6 1316.1h13.3v13.26h-13.3zM1514.9 1316.1h13.3v13.26h-13.3zM1530.1 1316.1h13.3v13.26h-13.3zM1545.3 1316.1h13.3v13.26h-13.3zM1575.7 1316.1h13.3v13.26h-13.3zM1591.0 1316.1h13.3v13.26h-13.3zM1606.2 1316.1h13.3v13.26h-13.3zM1636.6 1316.1h13.3v13.26h-13.3zM1667.1 1316.1h13.3v13.26h-13.3zM1393.1 1330.8h13.3v13.26h-13.3zM1499.6 1330.8h13.3v13.26h-13.3zM1514.9 1330.8h13.3v13.26h-13.3zM1530.1 1330.8h13.3v13.26h-13.3zM1545.3 1330.8h13.3v13.26h-13.3zM1575.7 1330.8h13.3v13.26h-13.3zM1591.0 1330.8h13.3v13.26h-13.3zM1606.2 1330.8h13.3v13.26h-13.3zM1636.6 1330.8h13.3v13.26h-13.3zM1667.1 1330.8h13.3v13.26h-13.3zM1393.1 1345.4h13.3v13.26h-13.3zM1499.6 1345.4h13.3v13.26h-13.3zM1514.9 1345.4h13.3v13.26h-13.3zM1530.1 1345.4h13.3v13.26h-13.3zM1545.3 1345.4h13.3v13.26h-13.3zM1575.7 1345.4h13.3v13.26h-13.3zM1591.0 1345.4h13.3v13.26h-13.3zM1606.2 1345.4h13.3v13.26h-13.3zM1636.6 1345.4h13.3v13.26h-13.3zM1667.1 1345.4h13.3v13.26h-13.3zM1393.1 1360.1h13.3v13.26h-13.3zM1499.6 1360.1h13.3v13.26h-13.3zM1514.9 1360.1h13.3v13.26h-13.3zM1530.1 1360.1h13.3v13.26h-13.3zM1545.3 1360.1h13.3v13.26h-13.3zM1575.7 1360.1h13.3v13.26h-13.3zM1591.0 1360.1h13.3v13.26h-13.3zM1606.2 1360.1h13.3v13.26h-13.3zM1636.6 1360.1h13.3v13.26h-13.3zM1667.1 1360.1h13.3v13.26h-13.3zM1393.1 1374.7h13.3v13.26h-13.3zM1484.4 1374.7h13.3v13.26h-13.3zM1499.6 1374.7h13.3v13.26h-13.3zM1514.9 1374.7h13.3v13.26h-13.3zM1530.1 1374.7h13.3v13.26h-13.3zM1545.3 1374.7h13.3v13.26h-13.3zM1575.7 1374.7h13.3v13.26h-13.3zM1591.0 1374.7h13.3v13.26h-13.3zM1606.2 1374.7h13.3v13.26h-13.3zM1636.6 1374.7h13.3v13.26h-13.3zM1667.1 1374.7h13.3v13.26h-13.3zM1393.1 1389.4h13.3v13.26h-13.3zM1499.6 1389.4h13.3v13.26h-13.3zM1514.9 1389.4h13.3v13.26h-13.3zM1530.1 1389.4h13.3v13.26h-13.3zM1545.3 1389.4h13.3v13.26h-13.3zM1575.7 1389.4h13.3v13.26h-13.3zM1591.0 1389.4h13.3v13.26h-13.3zM1606.2 1389.4h13.3v13.26h-13.3zM1636.6 1389.4h13.3v13.26h-13.3zM1667.1 1389.4h13.3v13.26h-13.3zM1393.1 1404.1h13.3v13.26h-13.3zM1499.6 1404.1h13.3v13.26h-13.3zM1514.9 1404.1h13.3v13.26h-13.3zM1530.1 1404.1h13.3v13.26h-13.3zM1545.3 1404.1h13.3v13.26h-13.3zM1575.7 1404.1h13.3v13.26h-13.3zM1591.0 1404.1h13.3v13.26h-13.3zM1606.2 1404.1h13.3v13.26h-13.3zM1636.6 1404.1h13.3v13.26h-13.3zM1667.1 1404.1h13.3v13.26h-13.3zM1393.1 1418.7h13.3v13.26h-13.3zM1438.8 1418.7h13.3v13.26h-13.3zM1499.6 1418.7h13.3v13.26h-13.3zM1514.9 1418.7h13.3v13.26h-13.3zM1530.1 1418.7h13.3v13.26h-13.3zM1545.3 1418.7h13.3v13.26h-13.3zM1575.7 1418.7h13.3v13.26h-13.3zM1591.0 1418.7h13.3v13.26h-13.3zM1606.2 1418.7h13.3v13.26h-13.3zM1621.4 1418.7h13.3v13.26h-13.3zM1636.6 1418.7h13.3v13.26h-13.3zM1667.1 1418.7h13.3v13.26h-13.3zM1393.1 1433.4h13.3v13.26h-13.3zM1499.6 1433.4h13.3v13.26h-13.3zM1514.9 1433.4h13.3v13.26h-13.3zM1530.1 1433.4h13.3v13.26h-13.3zM1545.3 1433.4h13.3v13.26h-13.3zM1575.7 1433.4h13.3v13.26h-13.3zM1591.0 1433.4h13.3v13.26h-13.3zM1606.2 1433.4h13.3v13.26h-13.3zM1636.6 1433.4h13.3v13.26h-13.3zM1667.1 1433.4h13.3v13.26h-13.3zM1499.6 1448.0h13.3v13.26h-13.3zM1514.9 1448.0h13.3v13.26h-13.3zM1530.1 1448.0h13.3v13.26h-13.3zM1545.3 1448.0h13.3v13.26h-13.3zM1636.6 1448.0h13.3v13.26h-13.3zM1667.1 1448.0h13.3v13.26h-13.3zM1499.6 1462.7h13.3v13.26h-13.3zM1514.9 1462.7h13.3v13.26h-13.3zM1530.1 1462.7h13.3v13.26h-13.3zM1545.3 1462.7h13.3v13.26h-13.3zM1636.6 1462.7h13.3v13.26h-13.3zM1667.1 1462.7h13.3v13.26h-13.3zM1499.6 1477.4h13.3v13.26h-13.3zM1514.9 1477.4h13.3v13.26h-13.3zM1530.1 1477.4h13.3v13.26h-13.3zM1545.3 1477.4h13.3v13.26h-13.3zM1636.6 1477.4h13.3v13.26h-13.3zM1667.1 1477.4h13.3v13.26h-13.3zM1499.6 1492.0h13.3v13.26h-13.3zM1514.9 1492.0h13.3v13.26h-13.3zM1530.1 1492.0h13.3v13.26h-13.3zM1545.3 1492.0h13.3v13.26h-13.3zM1636.6 1492.0h13.3v13.26h-13.3zM1667.1 1492.0h13.3v13.26h-13.3zM1499.6 1506.7h13.3v13.26h-13.3zM1514.9 1506.7h13.3v13.26h-13.3zM1530.1 1506.7h13.3v13.26h-13.3zM1545.3 1506.7h13.3v13.26h-13.3zM1636.6 1506.7h13.3v13.26h-13.3zM1667.1 1506.7h13.3v13.26h-13.3zM1499.6 1521.3h13.3v13.26h-13.3zM1514.9 1521.3h13.3v13.26h-13.3zM1530.1 1521.3h13.3v13.26h-13.3zM1545.3 1521.3h13.3v13.26h-13.3zM1636.6 1521.3h13.3v13.26h-13.3zM1667.1 1521.3h13.3v13.26h-13.3zM1499.6 1536.0h13.3v13.26h-13.3zM1514.9 1536.0h13.3v13.26h-13.3zM1530.1 1536.0h13.3v13.26h-13.3zM1545.3 1536.0h13.3v13.26h-13.3zM1636.6 1536.0h13.3v13.26h-13.3zM1667.1 1536.0h13.3v13.26h-13.3zM1499.6 1550.7h13.3v13.26h-13.3zM1514.9 1550.7h13.3v13.26h-13.3zM1530.1 1550.7h13.3v13.26h-13.3zM1545.3 1550.7h13.3v13.26h-13.3zM1636.6 1550.7h13.3v13.26h-13.3zM1667.1 1550.7h13.3v13.26h-13.3zM1499.6 1565.3h13.3v13.26h-13.3zM1514.9 1565.3h13.3v13.26h-13.3zM1530.1 1565.3h13.3v13.26h-13.3zM1545.3 1565.3h13.3v13.26h-13.3zM1636.6 1565.3h13.3v13.26h-13.3zM1667.1 1565.3h13.3v13.26h-13.3zM1499.6 1580.0h13.3v13.26h-13.3zM1514.9 1580.0h13.3v13.26h-13.3zM1530.1 1580.0h13.3v13.26h-13.3zM1545.3 1580.0h13.3v13.26h-13.3zM1636.6 1580.0h13.3v13.26h-13.3zM1667.1 1580.0h13.3v13.26h-13.3zM1499.6 1594.6h13.3v13.26h-13.3zM1514.9 1594.6h13.3v13.26h-13.3zM1530.1 1594.6h13.3v13.26h-13.3zM1545.3 1594.6h13.3v13.26h-13.3zM1636.6 1594.6h13.3v13.26h-13.3zM1667.1 1594.6h13.3v13.26h-13.3zM1499.6 1609.3h13.3v13.26h-13.3zM1514.9 1609.3h13.3v13.26h-13.3zM1530.1 1609.3h13.3v13.26h-13.3zM1545.3 1609.3h13.3v13.26h-13.3zM1636.6 1609.3h13.3v13.26h-13.3zM1667.1 1609.3h13.3v13.26h-13.3zM1499.6 1624.0h13.3v13.26h-13.3zM1514.9 1624.0h13.3v13.26h-13.3zM1530.1 1624.0h13.3v13.26h-13.3zM1545.3 1624.0h13.3v13.26h-13.3zM1636.6 1624.0h13.3v13.26h-13.3zM1667.1 1624.0h13.3v13.26h-13.3zM1499.6 1638.6h13.3v13.26h-13.3zM1514.9 1638.6h13.3v13.26h-13.3zM1530.1 1638.6h13.3v13.26h-13.3zM1545.3 1638.6h13.3v13.26h-13.3zM1636.6 1638.6h13.3v13.26h-13.3zM1667.1 1638.6h13.3v13.26h-13.3zM1499.6 1653.3h13.3v13.26h-13.3zM1514.9 1653.3h13.3v13.26h-13.3zM1530.1 1653.3h13.3v13.26h-13.3zM1545.3 1653.3h13.3v13.26h-13.3zM1636.6 1653.3h13.3v13.26h-13.3zM1667.1 1653.3h13.3v13.26h-13.3zM1499.6 1667.9h13.3v13.26h-13.3zM1514.9 1667.9h13.3v13.26h-13.3zM1530.1 1667.9h13.3v13.26h-13.3zM1545.3 1667.9h13.3v13.26h-13.3zM1636.6 1667.9h13.3v13.26h-13.3zM1667.1 1667.9h13.3v13.26h-13.3zM1393.1 1682.6h13.3v13.26h-13.3zM1499.6 1682.6h13.3v13.26h-13.3zM1514.9 1682.6h13.3v13.26h-13.3zM1530.1 1682.6h13.3v13.26h-13.3zM1545.3 1682.6h13.3v13.26h-13.3zM1575.7 1682.6h13.3v13.26h-13.3zM1591.0 1682.6h13.3v13.26h-13.3zM1606.2 1682.6h13.3v13.26h-13.3zM1636.6 1682.6h13.3v13.26h-13.3zM1667.1 1682.6h13.3v13.26h-13.3zM1393.1 1697.3h13.3v13.26h-13.3zM1499.6 1697.3h13.3v13.26h-13.3zM1514.9 1697.3h13.3v13.26h-13.3zM1530.1 1697.3h13.3v13.26h-13.3zM1545.3 1697.3h13.3v13.26h-13.3zM1575.7 1697.3h13.3v13.26h-13.3zM1591.0 1697.3h13.3v13.26h-13.3zM1606.2 1697.3h13.3v13.26h-13.3zM1636.6 1697.3h13.3v13.26h-13.3zM1667.1 1697.3h13.3v13.26h-13.3zM1393.1 1711.9h13.3v13.26h-13.3zM1499.6 1711.9h13.3v13.26h-13.3zM1514.9 1711.9h13.3v13.26h-13.3zM1530.1 1711.9h13.3v13.26h-13.3zM1545.3 1711.9h13.3v13.26h-13.3zM1575.7 1711.9h13.3v13.26h-13.3zM1591.0 1711.9h13.3v13.26h-13.3zM1606.2 1711.9h13.3v13.26h-13.3zM1636.6 1711.9h13.3v13.26h-13.3zM1667.1 1711.9h13.3v13.26h-13.3zM1393.1 1726.6h13.3v13.26h-13.3zM1499.6 1726.6h13.3v13.26h-13.3zM1514.9 1726.6h13.3v13.26h-13.3zM1530.1 1726.6h13.3v13.26h-13.3zM1545.3 1726.6h13.3v13.26h-13.3zM1575.7 1726.6h13.3v13.26h-13.3zM1591.0 1726.6h13.3v13.26h-13.3zM1606.2 1726.6h13.3v13.26h-13.3zM1636.6 1726.6h13.3v13.26h-13.3zM1667.1 1726.6h13.3v13.26h-13.3zM1393.1 1741.2h13.3v13.26h-13.3zM1499.6 1741.2h13.3v13.26h-13.3zM1514.9 1741.2h13.3v13.26h-13.3zM1530.1 1741.2h13.3v13.26h-13.3zM1545.3 1741.2h13.3v13.26h-13.3zM1575.7 1741.2h13.3v13.26h-13.3zM1591.0 1741.2h13.3v13.26h-13.3zM1606.2 1741.2h13.3v13.26h-13.3zM1636.6 1741.2h13.3v13.26h-13.3zM1667.1 1741.2h13.3v13.26h-13.3zM1393.1 1755.9h13.3v13.26h-13.3zM1438.8 1755.9h13.3v13.26h-13.3zM1469.2 1755.9h13.3v13.26h-13.3zM1499.6 1755.9h13.3v13.26h-13.3zM1514.9 1755.9h13.3v13.26h-13.3zM1530.1 1755.9h13.3v13.26h-13.3zM1545.3 1755.9h13.3v13.26h-13.3zM1575.7 1755.9h13.3v13.26h-13.3zM1591.0 1755.9h13.3v13.26h-13.3zM1606.2 1755.9h13.3v13.26h-13.3zM1621.4 1755.9h13.3v13.26h-13.3zM1636.6 1755.9h13.3v13.26h-13.3zM1667.1 1755.9h13.3v13.26h-13.3zM1393.1 1770.6h13.3v13.26h-13.3zM1438.8 1770.6h13.3v13.26h-13.3zM1469.2 1770.6h13.3v13.26h-13.3zM1499.6 1770.6h13.3v13.26h-13.3zM1514.9 1770.6h13.3v13.26h-13.3zM1530.1 1770.6h13.3v13.26h-13.3zM1545.3 1770.6h13.3v13.26h-13.3zM1575.7 1770.6h13.3v13.26h-13.3zM1591.0 1770.6h13.3v13.26h-13.3zM1606.2 1770.6h13.3v13.26h-13.3zM1621.4 1770.6h13.3v13.26h-13.3zM1636.6 1770.6h13.3v13.26h-13.3zM1667.1 1770.6h13.3v13.26h-13.3zM1393.1 1785.2h13.3v13.26h-13.3zM1438.8 1785.2h13.3v13.26h-13.3zM1469.2 1785.2h13.3v13.26h-13.3zM1499.6 1785.2h13.3v13.26h-13.3zM1514.9 1785.2h13.3v13.26h-13.3zM1530.1 1785.2h13.3v13.26h-13.3zM1545.3 1785.2h13.3v13.26h-13.3zM1575.7 1785.2h13.3v13.26h-13.3zM1591.0 1785.2h13.3v13.26h-13.3zM1606.2 1785.2h13.3v13.26h-13.3zM1621.4 1785.2h13.3v13.26h-13.3zM1636.6 1785.2h13.3v13.26h-13.3zM1667.1 1785.2h13.3v13.26h-13.3zM1393.1 1799.9h13.3v13.26h-13.3zM1438.8 1799.9h13.3v13.26h-13.3zM1454.0 1799.9h13.3v13.26h-13.3zM1469.2 1799.9h13.3v13.26h-13.3zM1499.6 1799.9h13.3v13.26h-13.3zM1514.9 1799.9h13.3v13.26h-13.3zM1530.1 1799.9h13.3v13.26h-13.3zM1545.3 1799.9h13.3v13.26h-13.3zM1575.7 1799.9h13.3v13.26h-13.3zM1591.0 1799.9h13.3v13.26h-13.3zM1606.2 1799.9h13.3v13.26h-13.3zM1621.4 1799.9h13.3v13.26h-13.3zM1636.6 1799.9h13.3v13.26h-13.3zM1667.1 1799.9h13.3v13.26h-13.3zM1393.1 1814.5h13.3v13.26h-13.3zM1438.8 1814.5h13.3v13.26h-13.3zM1454.0 1814.5h13.3v13.26h-13.3zM1469.2 1814.5h13.3v13.26h-13.3zM1499.6 1814.5h13.3v13.26h-13.3zM1514.9 1814.5h13.3v13.26h-13.3zM1530.1 1814.5h13.3v13.26h-13.3zM1545.3 1814.5h13.3v13.26h-13.3zM1575.7 1814.5h13.3v13.26h-13.3zM1591.0 1814.5h13.3v13.26h-13.3zM1606.2 1814.5h13.3v13.26h-13.3zM1621.4 1814.5h13.3v13.26h-13.3zM1636.6 1814.5h13.3v13.26h-13.3zM1667.1 1814.5h13.3v13.26h-13.3zM1393.1 1829.2h13.3v13.26h-13.3zM1438.8 1829.2h13.3v13.26h-13.3zM1469.2 1829.2h13.3v13.26h-13.3zM1499.6 1829.2h13.3v13.26h-13.3zM1514.9 1829.2h13.3v13.26h-13.3zM1530.1 1829.2h13.3v13.26h-13.3zM1545.3 1829.2h13.3v13.26h-13.3zM1575.7 1829.2h13.3v13.26h-13.3zM1591.0 1829.2h13.3v13.26h-13.3zM1606.2 1829.2h13.3v13.26h-13.3zM1621.4 1829.2h13.3v13.26h-13.3zM1636.6 1829.2h13.3v13.26h-13.3zM1667.1 1829.2h13.3v13.26h-13.3zM1393.1 1843.9h13.3v13.26h-13.3zM1438.8 1843.9h13.3v13.26h-13.3zM1469.2 1843.9h13.3v13.26h-13.3zM1499.6 1843.9h13.3v13.26h-13.3zM1514.9 1843.9h13.3v13.26h-13.3zM1530.1 1843.9h13.3v13.26h-13.3zM1545.3 1843.9h13.3v13.26h-13.3zM1575.7 1843.9h13.3v13.26h-13.3zM1591.0 1843.9h13.3v13.26h-13.3zM1606.2 1843.9h13.3v13.26h-13.3zM1621.4 1843.9h13.3v13.26h-13.3zM1636.6 1843.9h13.3v13.26h-13.3zM1667.1 1843.9h13.3v13.26h-13.3zM1393.1 1858.5h13.3v13.26h-13.3zM1438.8 1858.5h13.3v13.26h-13.3zM1469.2 1858.5h13.3v13.26h-13.3zM1499.6 1858.5h13.3v13.26h-13.3zM1514.9 1858.5h13.3v13.26h-13.3zM1530.1 1858.5h13.3v13.26h-13.3zM1545.3 1858.5h13.3v13.26h-13.3zM1575.7 1858.5h13.3v13.26h-13.3zM1591.0 1858.5h13.3v13.26h-13.3zM1606.2 1858.5h13.3v13.26h-13.3zM1621.4 1858.5h13.3v13.26h-13.3zM1636.6 1858.5h13.3v13.26h-13.3zM1667.1 1858.5h13.3v13.26h-13.3zM1393.1 1873.2h13.3v13.26h-13.3zM1438.8 1873.2h13.3v13.26h-13.3zM1469.2 1873.2h13.3v13.26h-13.3zM1499.6 1873.2h13.3v13.26h-13.3zM1514.9 1873.2h13.3v13.26h-13.3zM1530.1 1873.2h13.3v13.26h-13.3zM1545.3 1873.2h13.3v13.26h-13.3zM1575.7 1873.2h13.3v13.26h-13.3zM1591.0 1873.2h13.3v13.26h-13.3zM1606.2 1873.2h13.3v13.26h-13.3zM1621.4 1873.2h13.3v13.26h-13.3zM1636.6 1873.2h13.3v13.26h-13.3zM1667.1 1873.2h13.3v13.26h-13.3zM1393.1 1887.8h13.3v13.26h-13.3zM1438.8 1887.8h13.3v13.26h-13.3zM1469.2 1887.8h13.3v13.26h-13.3zM1499.6 1887.8h13.3v13.26h-13.3zM1514.9 1887.8h13.3v13.26h-13.3zM1530.1 1887.8h13.3v13.26h-13.3zM1545.3 1887.8h13.3v13.26h-13.3zM1575.7 1887.8h13.3v13.26h-13.3zM1591.0 1887.8h13.3v13.26h-13.3zM1606.2 1887.8h13.3v13.26h-13.3zM1621.4 1887.8h13.3v13.26h-13.3zM1636.6 1887.8h13.3v13.26h-13.3zM1667.1 1887.8h13.3v13.26h-13.3zM1393.1 1902.5h13.3v13.26h-13.3zM1438.8 1902.5h13.3v13.26h-13.3zM1469.2 1902.5h13.3v13.26h-13.3zM1499.6 1902.5h13.3v13.26h-13.3zM1514.9 1902.5h13.3v13.26h-13.3zM1530.1 1902.5h13.3v13.26h-13.3zM1545.3 1902.5h13.3v13.26h-13.3zM1575.7 1902.5h13.3v13.26h-13.3zM1591.0 1902.5h13.3v13.26h-13.3zM1606.2 1902.5h13.3v13.26h-13.3zM1621.4 1902.5h13.3v13.26h-13.3zM1636.6 1902.5h13.3v13.26h-13.3zM1667.1 1902.5h13.3v13.26h-13.3zM1393.1 1917.2h13.3v13.26h-13.3zM1438.8 1917.2h13.3v13.26h-13.3zM1469.2 1917.2h13.3v13.26h-13.3zM1499.6 1917.2h13.3v13.26h-13.3zM1514.9 1917.2h13.3v13.26h-13.3zM1530.1 1917.2h13.3v13.26h-13.3zM1545.3 1917.2h13.3v13.26h-13.3zM1575.7 1917.2h13.3v13.26h-13.3zM1591.0 1917.2h13.3v13.26h-13.3zM1606.2 1917.2h13.3v13.26h-13.3zM1621.4 1917.2h13.3v13.26h-13.3zM1636.6 1917.2h13.3v13.26h-13.3zM1667.1 1917.2h13.3v13.26h-13.3zM1393.1 1931.8h13.3v13.26h-13.3zM1499.6 1931.8h13.3v13.26h-13.3zM1514.9 1931.8h13.3v13.26h-13.3zM1530.1 1931.8h13.3v13.26h-13.3zM1545.3 1931.8h13.3v13.26h-13.3zM1575.7 1931.8h13.3v13.26h-13.3zM1591.0 1931.8h13.3v13.26h-13.3zM1606.2 1931.8h13.3v13.26h-13.3zM1636.6 1931.8h13.3v13.26h-13.3zM1667.1 1931.8h13.3v13.26h-13.3zM1393.1 1946.5h13.3v13.26h-13.3zM1499.6 1946.5h13.3v13.26h-13.3zM1514.9 1946.5h13.3v13.26h-13.3zM1530.1 1946.5h13.3v13.26h-13.3zM1545.3 1946.5h13.3v13.26h-13.3zM1575.7 1946.5h13.3v13.26h-13.3zM1591.0 1946.5h13.3v13.26h-13.3zM1606.2 1946.5h13.3v13.26h-13.3zM1636.6 1946.5h13.3v13.26h-13.3zM1667.1 1946.5h13.3v13.26h-13.3zM1393.1 1961.1h13.3v13.26h-13.3zM1499.6 1961.1h13.3v13.26h-13.3zM1514.9 1961.1h13.3v13.26h-13.3zM1530.1 1961.1h13.3v13.26h-13.3zM1545.3 1961.1h13.3v13.26h-13.3zM1575.7 1961.1h13.3v13.26h-13.3zM1591.0 1961.1h13.3v13.26h-13.3zM1606.2 1961.1h13.3v13.26h-13.3zM1636.6 1961.1h13.3v13.26h-13.3zM1667.1 1961.1h13.3v13.26h-13.3zM1393.1 1975.8h13.3v13.26h-13.3zM1499.6 1975.8h13.3v13.26h-13.3zM1514.9 1975.8h13.3v13.26h-13.3zM1530.1 1975.8h13.3v13.26h-13.3zM1545.3 1975.8h13.3v13.26h-13.3zM1575.7 1975.8h13.3v13.26h-13.3zM1591.0 1975.8h13.3v13.26h-13.3zM1606.2 1975.8h13.3v13.26h-13.3zM1636.6 1975.8h13.3v13.26h-13.3zM1667.1 1975.8h13.3v13.26h-13.3zM1393.1 1990.5h13.3v13.26h-13.3zM1499.6 1990.5h13.3v13.26h-13.3zM1514.9 1990.5h13.3v13.26h-13.3zM1530.1 1990.5h13.3v13.26h-13.3zM1545.3 1990.5h13.3v13.26h-13.3zM1575.7 1990.5h13.3v13.26h-13.3zM1591.0 1990.5h13.3v13.26h-13.3zM1606.2 1990.5h13.3v13.26h-13.3zM1636.6 1990.5h13.3v13.26h-13.3zM1667.1 1990.5h13.3v13.26h-13.3zM1393.1 2005.1h13.3v13.26h-13.3zM1499.6 2005.1h13.3v13.26h-13.3zM1514.9 2005.1h13.3v13.26h-13.3zM1530.1 2005.1h13.3v13.26h-13.3zM1545.3 2005.1h13.3v13.26h-13.3zM1575.7 2005.1h13.3v13.26h-13.3zM1591.0 2005.1h13.3v13.26h-13.3zM1606.2 2005.1h13.3v13.26h-13.3zM1636.6 2005.1h13.3v13.26h-13.3zM1667.1 2005.1h13.3v13.26h-13.3zM1393.1 2019.8h13.3v13.26h-13.3zM1499.6 2019.8h13.3v13.26h-13.3zM1514.9 2019.8h13.3v13.26h-13.3zM1530.1 2019.8h13.3v13.26h-13.3zM1545.3 2019.8h13.3v13.26h-13.3zM1575.7 2019.8h13.3v13.26h-13.3zM1591.0 2019.8h13.3v13.26h-13.3zM1606.2 2019.8h13.3v13.26h-13.3zM1636.6 2019.8h13.3v13.26h-13.3zM1667.1 2019.8h13.3v13.26h-13.3zM1393.1 2034.4h13.3v13.26h-13.3zM1499.6 2034.4h13.3v13.26h-13.3zM1514.9 2034.4h13.3v13.26h-13.3zM1530.1 2034.4h13.3v13.26h-13.3zM1545.3 2034.4h13.3v13.26h-13.3zM1575.7 2034.4h13.3v13.26h-13.3zM1591.0 2034.4h13.3v13.26h-13.3zM1606.2 2034.4h13.3v13.26h-13.3zM1636.6 2034.4h13.3v13.26h-13.3zM1667.1 2034.4h13.3v13.26h-13.3zM1393.1 2049.1h13.3v13.26h-13.3zM1499.6 2049.1h13.3v13.26h-13.3zM1514.9 2049.1h13.3v13.26h-13.3zM1530.1 2049.1h13.3v13.26h-13.3zM1545.3 2049.1h13.3v13.26h-13.3zM1575.7 2049.1h13.3v13.26h-13.3zM1591.0 2049.1h13.3v13.26h-13.3zM1606.2 2049.1h13.3v13.26h-13.3zM1636.6 2049.1h13.3v13.26h-13.3zM1667.1 2049.1h13.3v13.26h-13.3zM1393.1 2063.8h13.3v13.26h-13.3zM1499.6 2063.8h13.3v13.26h-13.3zM1514.9 2063.8h13.3v13.26h-13.3zM1530.1 2063.8h13.3v13.26h-13.3zM1545.3 2063.8h13.3v13.26h-13.3zM1575.7 2063.8h13.3v13.26h-13.3zM1591.0 2063.8h13.3v13.26h-13.3zM1606.2 2063.8h13.3v13.26h-13.3zM1636.6 2063.8h13.3v13.26h-13.3zM1667.1 2063.8h13.3v13.26h-13.3zM1393.1 2078.4h13.3v13.26h-13.3zM1499.6 2078.4h13.3v13.26h-13.3zM1514.9 2078.4h13.3v13.26h-13.3zM1530.1 2078.4h13.3v13.26h-13.3zM1545.3 2078.4h13.3v13.26h-13.3zM1575.7 2078.4h13.3v13.26h-13.3zM1591.0 2078.4h13.3v13.26h-13.3zM1606.2 2078.4h13.3v13.26h-13.3zM1636.6 2078.4h13.3v13.26h-13.3zM1667.1 2078.4h13.3v13.26h-13.3zM1393.1 2093.1h13.3v13.26h-13.3zM1499.6 2093.1h13.3v13.26h-13.3zM1514.9 2093.1h13.3v13.26h-13.3zM1530.1 2093.1h13.3v13.26h-13.3zM1545.3 2093.1h13.3v13.26h-13.3zM1575.7 2093.1h13.3v13.26h-13.3zM1591.0 2093.1h13.3v13.26h-13.3zM1606.2 2093.1h13.3v13.26h-13.3zM1636.6 2093.1h13.3v13.26h-13.3zM1667.1 2093.1h13.3v13.26h-13.3zM1393.1 2107.7h13.3v13.26h-13.3zM1499.6 2107.7h13.3v13.26h-13.3zM1514.9 2107.7h13.3v13.26h-13.3zM1530.1 2107.7h13.3v13.26h-13.3zM1545.3 2107.7h13.3v13.26h-13.3zM1575.7 2107.7h13.3v13.26h-13.3zM1591.0 2107.7h13.3v13.26h-13.3zM1606.2 2107.7h13.3v13.26h-13.3zM1636.6 2107.7h13.3v13.26h-13.3zM1667.1 2107.7h13.3v13.26h-13.3zM1393.1 2122.4h13.3v13.26h-13.3zM1499.6 2122.4h13.3v13.26h-13.3zM1514.9 2122.4h13.3v13.26h-13.3zM1530.1 2122.4h13.3v13.26h-13.3zM1545.3 2122.4h13.3v13.26h-13.3zM1575.7 2122.4h13.3v13.26h-13.3zM1591.0 2122.4h13.3v13.26h-13.3zM1606.2 2122.4h13.3v13.26h-13.3zM1636.6 2122.4h13.3v13.26h-13.3zM1667.1 2122.4h13.3v13.26h-13.3zM1393.1 2137.1h13.3v13.26h-13.3zM1499.6 2137.1h13.3v13.26h-13.3zM1514.9 2137.1h13.3v13.26h-13.3zM1530.1 2137.1h13.3v13.26h-13.3zM1545.3 2137.1h13.3v13.26h-13.3zM1575.7 2137.1h13.3v13.26h-13.3zM1591.0 2137.1h13.3v13.26h-13.3zM1636.6 2137.1h13.3v13.26h-13.3zM1667.1 2137.1h13.3v13.26h-13.3zM1393.1 2151.7h13.3v13.26h-13.3zM1499.6 2151.7h13.3v13.26h-13.3zM1514.9 2151.7h13.3v13.26h-13.3zM1530.1 2151.7h13.3v13.26h-13.3zM1545.3 2151.7h13.3v13.26h-13.3zM1575.7 2151.7h13.3v13.26h-13.3zM1591.0 2151.7h13.3v13.26h-13.3zM1606.2 2151.7h13.3v13.26h-13.3zM1636.6 2151.7h13.3v13.26h-13.3zM1667.1 2151.7h13.3v13.26h-13.3zM1393.1 2166.4h13.3v13.26h-13.3zM1499.6 2166.4h13.3v13.26h-13.3zM1514.9 2166.4h13.3v13.26h-13.3zM1530.1 2166.4h13.3v13.26h-13.3zM1545.3 2166.4h13.3v13.26h-13.3zM1575.7 2166.4h13.3v13.26h-13.3zM1591.0 2166.4h13.3v13.26h-13.3zM1606.2 2166.4h13.3v13.26h-13.3zM1636.6 2166.4h13.3v13.26h-13.3zM1667.1 2166.4h13.3v13.26h-13.3zM1393.1 2181.0h13.3v13.26h-13.3zM1499.6 2181.0h13.3v13.26h-13.3zM1514.9 2181.0h13.3v13.26h-13.3zM1530.1 2181.0h13.3v13.26h-13.3zM1545.3 2181.0h13.3v13.26h-13.3zM1575.7 2181.0h13.3v13.26h-13.3zM1591.0 2181.0h13.3v13.26h-13.3zM1606.2 2181.0h13.3v13.26h-13.3zM1636.6 2181.0h13.3v13.26h-13.3zM1667.1 2181.0h13.3v13.26h-13.3zM1393.1 2195.7h13.3v13.26h-13.3zM1499.6 2195.7h13.3v13.26h-13.3zM1514.9 2195.7h13.3v13.26h-13.3zM1530.1 2195.7h13.3v13.26h-13.3zM1545.3 2195.7h13.3v13.26h-13.3zM1575.7 2195.7h13.3v13.26h-13.3zM1591.0 2195.7h13.3v13.26h-13.3zM1606.2 2195.7h13.3v13.26h-13.3zM1636.6 2195.7h13.3v13.26h-13.3zM1667.1 2195.7h13.3v13.26h-13.3zM1393.1 2210.4h13.3v13.26h-13.3zM1499.6 2210.4h13.3v13.26h-13.3zM1514.9 2210.4h13.3v13.26h-13.3zM1530.1 2210.4h13.3v13.26h-13.3zM1545.3 2210.4h13.3v13.26h-13.3zM1575.7 2210.4h13.3v13.26h-13.3zM1591.0 2210.4h13.3v13.26h-13.3zM1606.2 2210.4h13.3v13.26h-13.3zM1636.6 2210.4h13.3v13.26h-13.3zM1667.1 2210.4h13.3v13.26h-13.3zM1393.1 2225.0h13.3v13.26h-13.3zM1438.8 2225.0h13.3v13.26h-13.3zM1469.2 2225.0h13.3v13.26h-13.3zM1499.6 2225.0h13.3v13.26h-13.3zM1514.9 2225.0h13.3v13.26h-13.3zM1530.1 2225.0h13.3v13.26h-13.3zM1545.3 2225.0h13.3v13.26h-13.3zM1575.7 2225.0h13.3v13.26h-13.3zM1591.0 2225.0h13.3v13.26h-13.3zM1606.2 2225.0h13.3v13.26h-13.3zM1621.4 2225.0h13.3v13.26h-13.3zM1636.6 2225.0h13.3v13.26h-13.3zM1667.1 2225.0h13.3v13.26h-13.3zM1393.1 2239.7h13.3v13.26h-13.3zM1438.8 2239.7h13.3v13.26h-13.3zM1469.2 2239.7h13.3v13.26h-13.3zM1499.6 2239.7h13.3v13.26h-13.3zM1514.9 2239.7h13.3v13.26h-13.3zM1530.1 2239.7h13.3v13.26h-13.3zM1545.3 2239.7h13.3v13.26h-13.3zM1575.7 2239.7h13.3v13.26h-13.3zM1591.0 2239.7h13.3v13.26h-13.3zM1606.2 2239.7h13.3v13.26h-13.3zM1621.4 2239.7h13.3v13.26h-13.3zM1636.6 2239.7h13.3v13.26h-13.3zM1667.1 2239.7h13.3v13.26h-13.3zM1393.1 2254.3h13.3v13.26h-13.3zM1438.8 2254.3h13.3v13.26h-13.3zM1469.2 2254.3h13.3v13.26h-13.3zM1499.6 2254.3h13.3v13.26h-13.3zM1514.9 2254.3h13.3v13.26h-13.3zM1530.1 2254.3h13.3v13.26h-13.3zM1545.3 2254.3h13.3v13.26h-13.3zM1575.7 2254.3h13.3v13.26h-13.3zM1591.0 2254.3h13.3v13.26h-13.3zM1606.2 2254.3h13.3v13.26h-13.3zM1621.4 2254.3h13.3v13.26h-13.3zM1636.6 2254.3h13.3v13.26h-13.3zM1667.1 2254.3h13.3v13.26h-13.3zM1393.1 2269.0h13.3v13.26h-13.3zM1438.8 2269.0h13.3v13.26h-13.3zM1469.2 2269.0h13.3v13.26h-13.3zM1499.6 2269.0h13.3v13.26h-13.3zM1514.9 2269.0h13.3v13.26h-13.3zM1530.1 2269.0h13.3v13.26h-13.3zM1545.3 2269.0h13.3v13.26h-13.3zM1575.7 2269.0h13.3v13.26h-13.3zM1591.0 2269.0h13.3v13.26h-13.3zM1606.2 2269.0h13.3v13.26h-13.3zM1621.4 2269.0h13.3v13.26h-13.3zM1636.6 2269.0h13.3v13.26h-13.3zM1667.1 2269.0h13.3v13.26h-13.3zM1393.1 2283.7h13.3v13.26h-13.3zM1438.8 2283.7h13.3v13.26h-13.3zM1469.2 2283.7h13.3v13.26h-13.3zM1499.6 2283.7h13.3v13.26h-13.3zM1514.9 2283.7h13.3v13.26h-13.3zM1530.1 2283.7h13.3v13.26h-13.3zM1545.3 2283.7h13.3v13.26h-13.3zM1575.7 2283.7h13.3v13.26h-13.3zM1591.0 2283.7h13.3v13.26h-13.3zM1606.2 2283.7h13.3v13.26h-13.3zM1621.4 2283.7h13.3v13.26h-13.3zM1636.6 2283.7h13.3v13.26h-13.3zM1667.1 2283.7h13.3v13.26h-13.3zM1393.1 2298.3h13.3v13.26h-13.3zM1438.8 2298.3h13.3v13.26h-13.3zM1469.2 2298.3h13.3v13.26h-13.3zM1499.6 2298.3h13.3v13.26h-13.3zM1514.9 2298.3h13.3v13.26h-13.3zM1530.1 2298.3h13.3v13.26h-13.3zM1545.3 2298.3h13.3v13.26h-13.3zM1575.7 2298.3h13.3v13.26h-13.3zM1591.0 2298.3h13.3v13.26h-13.3zM1606.2 2298.3h13.3v13.26h-13.3zM1621.4 2298.3h13.3v13.26h-13.3zM1636.6 2298.3h13.3v13.26h-13.3zM1667.1 2298.3h13.3v13.26h-13.3zM1393.1 2313.0h13.3v13.26h-13.3zM1438.8 2313.0h13.3v13.26h-13.3zM1469.2 2313.0h13.3v13.26h-13.3zM1499.6 2313.0h13.3v13.26h-13.3zM1514.9 2313.0h13.3v13.26h-13.3zM1530.1 2313.0h13.3v13.26h-13.3zM1545.3 2313.0h13.3v13.26h-13.3zM1575.7 2313.0h13.3v13.26h-13.3zM1591.0 2313.0h13.3v13.26h-13.3zM1606.2 2313.0h13.3v13.26h-13.3zM1621.4 2313.0h13.3v13.26h-13.3zM1636.6 2313.0h13.3v13.26h-13.3zM1667.1 2313.0h13.3v13.26h-13.3zM1393.1 2327.6h13.3v13.26h-13.3zM1438.8 2327.6h13.3v13.26h-13.3zM1469.2 2327.6h13.3v13.26h-13.3zM1499.6 2327.6h13.3v13.26h-13.3zM1514.9 2327.6h13.3v13.26h-13.3zM1530.1 2327.6h13.3v13.26h-13.3zM1545.3 2327.6h13.3v13.26h-13.3zM1575.7 2327.6h13.3v13.26h-13.3zM1591.0 2327.6h13.3v13.26h-13.3zM1606.2 2327.6h13.3v13.26h-13.3zM1621.4 2327.6h13.3v13.26h-13.3zM1636.6 2327.6h13.3v13.26h-13.3zM1667.1 2327.6h13.3v13.26h-13.3zM1393.1 2342.3h13.3v13.26h-13.3zM1438.8 2342.3h13.3v13.26h-13.3zM1469.2 2342.3h13.3v13.26h-13.3zM1499.6 2342.3h13.3v13.26h-13.3zM1514.9 2342.3h13.3v13.26h-13.3zM1530.1 2342.3h13.3v13.26h-13.3zM1545.3 2342.3h13.3v13.26h-13.3zM1575.7 2342.3h13.3v13.26h-13.3zM1591.0 2342.3h13.3v13.26h-13.3zM1606.2 2342.3h13.3v13.26h-13.3zM1621.4 2342.3h13.3v13.26h-13.3zM1636.6 2342.3h13.3v13.26h-13.3zM1667.1 2342.3h13.3v13.26h-13.3z"/>
<text transform="translate(651.5,133.4) rotate(-90)" font-size="17.5">Isolates</text>
<text transform="translate(695.4,133.4) rotate(-90)" font-size="17.5">Year</text>
<text transform="translate(735.0,133.4) rotate(-90)" font-size="17.5">MLST</text>
<text transform="translate(773.3,133.4) rotate(-90)" font-size="17.5">Source</text>
<text transform="translate(796.0,134.2) rotate(-90)" font-size="11.6">IncFIA</text>
<text transform="translate(811.2,134.2) rotate(-90)" font-size="11.6">IncFIB</text>
<text transform="translate(826.4,134.2) rotate(-90)" font-size="11.6">IncFII</text>
<text transform="translate(841.6,134.2) rotate(-90)" font-size="11.6">IncR</text>
<text transform="translate(856.8,134.2) rotate(-90)" font-size="11.6">IncX1</text>
<text transform="translate(872.1,134.2) rotate(-90)" font-size="11.6">IncX3</text>
<text transform="translate(887.3,134.2) rotate(-90)" font-size="11.6">IncX4</text>
<text transform="translate(909.9,134.2) rotate(-90)" font-size="11.6">mcr-1</text>
<text transform="translate(925.1,134.2) rotate(-90)" font-size="11.6">mcr-8</text>
<text transform="translate(940.3,134.2) rotate(-90)" font-size="11.6">blaNDM-5</text>
<text transform="translate(955.5,134.2) rotate(-90)" font-size="11.6">blaCTX-M</text>
<text transform="translate(970.7,134.2) rotate(-90)" font-size="11.6">blaDHA</text>
<text transform="translate(986.0,134.2) rotate(-90)" font-size="11.6">blaKPC</text>
<text transform="translate(1001.2,134.2) rotate(-90)" font-size="11.6">blaLEN</text>
<text transform="translate(1016.4,134.2) rotate(-90)" font-size="11.6">blaOKP</text>
<text transform="translate(1031.6,134.2) rotate(-90)" font-size="11.6">blaOXA</text>
<text transform="translate(1046.8,134.2) rotate(-90)" font-size="11.6">blaSHV</text>
<text transform="translate(1062.1,134.2) rotate(-90)" font-size="11.6">blaTEM</text>
<text transform="translate(1077.3,134.2) rotate(-90)" font-size="11.6">ARR-3</text>
<text transform="translate(1092.5,134.2) rotate(-90)" font-size="11.6">armA</text>
<text transform="translate(1107.7,134.2) rotate(-90)" font-size="11.6">aadA</text>
<text transform="translate(1122.9,134.2) rotate(-90)" font-size="11.6">rmtB</text>
<text transform="translate(1138.2,134.2) rotate(-90)" font-size="11.6">aac(3)-IId</text>
<text transform="translate(1153.4,134.2) rotate(-90)" font-size="11.6">aph(3″)-I</text>
<text transform="translate(1168.6,134.2) rotate(-90)" font-size="11.6">aph(6)-Id</text>
<text transform="translate(1183.8,134.2) rotate(-90)" font-size="11.6">aac(6′)-Ib-cr</text>
<text transform="translate(1199.0,134.2) rotate(-90)" font-size="11.6">oqxA</text>
<text transform="translate(1214.3,134.2) rotate(-90)" font-size="11.6">oqxB</text>
<text transform="translate(1229.5,134.2) rotate(-90)" font-size="11.6">qnrB</text>
<text transform="translate(1244.7,134.2) rotate(-90)" font-size="11.6">qnrS</text>
<text transform="translate(1259.9,134.2) rotate(-90)" font-size="11.6">cat</text>
<text transform="translate(1275.1,134.2) rotate(-90)" font-size="11.6">cmlA1</text>
<text transform="translate(1290.4,134.2) rotate(-90)" font-size="11.6">floR</text>
<text transform="translate(1305.6,134.2) rotate(-90)" font-size="11.6">dfrA</text>
<text transform="translate(1320.8,134.2) rotate(-90)" font-size="11.6">fosA</text>
<text transform="translate(1336.0,134.2) rotate(-90)" font-size="11.6">mph(A)</text>
<text transform="translate(1351.2,134.2) rotate(-90)" font-size="11.6">sul</text>
<text transform="translate(1366.5,134.2) rotate(-90)" font-size="11.6">tet(A)</text>
<text transform="translate(1381.7,134.2) rotate(-90)" font-size="11.6">tet(M)</text>
<text transform="translate(1404.0,134.2) rotate(-90)" font-size="11.6">ybtA/E/P/Q/T/U/X</text>
<text transform="translate(1419.2,134.2) rotate(-90)" font-size="11.6">clb2</text>
<text transform="translate(1434.4,134.2) rotate(-90)" font-size="11.6">iroB/C/D/N</text>
<text transform="translate(1449.6,134.2) rotate(-90)" font-size="11.6">iucA/B</text>
<text transform="translate(1464.8,134.2) rotate(-90)" font-size="11.6">rmpA</text>
<text transform="translate(1480.0,134.2) rotate(-90)" font-size="11.6">rmpA2</text>
<text transform="translate(1495.3,134.2) rotate(-90)" font-size="11.6">astA</text>
<text transform="translate(1510.5,134.2) rotate(-90)" font-size="11.6">entA/B/E/S</text>
<text transform="translate(1525.7,134.2) rotate(-90)" font-size="11.6">fepA/B/C</text>
<text transform="translate(1540.9,134.2) rotate(-90)" font-size="11.6">fepD</text>
<text transform="translate(1556.2,134.2) rotate(-90)" font-size="11.6">fimA/E</text>
<text transform="translate(1571.4,134.2) rotate(-90)" font-size="11.6">fimB</text>
<text transform="translate(1586.6,134.2) rotate(-90)" font-size="11.6">fyuA</text>
<text transform="translate(1601.8,134.2) rotate(-90)" font-size="11.6">irp1</text>
<text transform="translate(1617.0,134.2) rotate(-90)" font-size="11.6">irp2</text>
<text transform="translate(1632.2,134.2) rotate(-90)" font-size="11.6">iutA</text>
<text transform="translate(1647.5,134.2) rotate(-90)" font-size="11.6">ompA</text>
<text transform="translate(1662.7,134.2) rotate(-90)" font-size="11.6">pla</text>
<text transform="translate(1677.9,134.2) rotate(-90)" font-size="11.6">ecpA/B/C/D/E/R</text>
<text x="837.3" y="31.2" font-size="16.8" text-anchor="middle">Inc type</text>
<line x1="785" y1="37.5" x2="890" y2="37.5" stroke="#404040" stroke-width="2.4"/>
<text x="1142" y="31.2" font-size="17" text-anchor="middle">Antibiotic resistance gene</text>
<line x1="899" y1="37.3" x2="1384.3" y2="37.3" stroke="#949494" stroke-width="2.4"/>
<text x="1541.4" y="31.2" font-size="16.8" text-anchor="middle">Virulence genes</text>
<line x1="1391.5" y1="36.8" x2="1680" y2="36.8" stroke="#404040" stroke-width="2.4"/>
<rect x="781.2" y="539.7" width="903.4" height="74.1" fill="none" stroke="#ff40cc" stroke-width="3.8"/>
<rect x="781.2" y="1491.2" width="903.4" height="118.9" fill="none" stroke="#3dbd2b" stroke-width="3.8"/>
<text transform="translate(1702.3,617.0) rotate(-90)" font-size="17.5">Scarlet box</text>
<text transform="translate(1702.3,1589.2) rotate(-90)" font-size="17.5">Green box</text>
</svg>
</body></html>
